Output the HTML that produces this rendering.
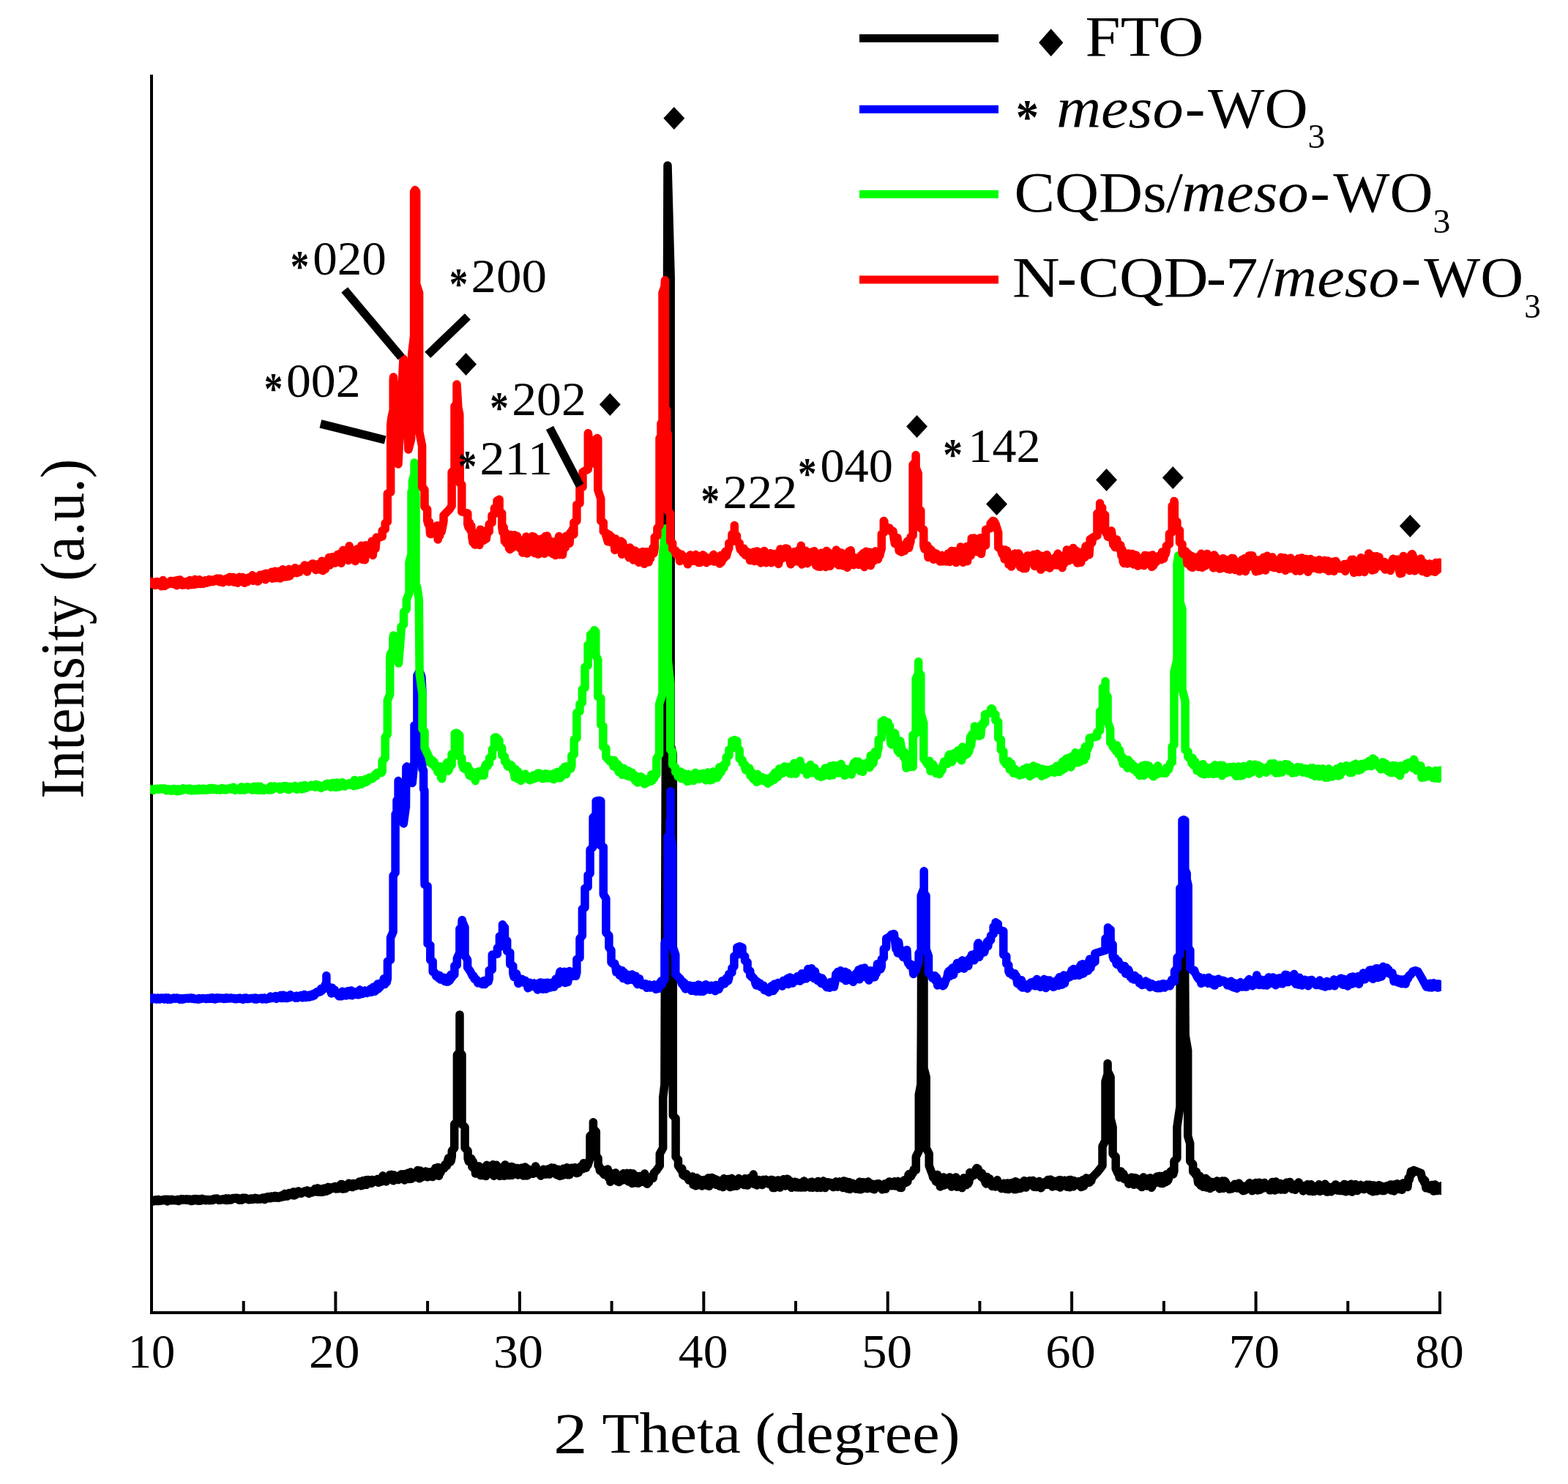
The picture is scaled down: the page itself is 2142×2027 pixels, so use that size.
<!DOCTYPE html>
<html lang="en"><head><meta charset="utf-8"><title>XRD patterns</title>
<style>
html,body{margin:0;padding:0;background:#fff;}
svg{display:block;}
text{font-family:"Liberation Serif","DejaVu Serif",serif;fill:#000;}
.c{fill:none;stroke-width:11.50;stroke-linejoin:round;stroke-linecap:round;}
.ax{stroke:#000;stroke-width:4;fill:none;stroke-linecap:butt;}
.ln{stroke:#000;stroke-width:11.5;fill:none;stroke-linecap:butt;}
.lg{stroke-width:11;fill:none;stroke-linecap:butt;}
</style></head>
<body>
<svg xmlns="http://www.w3.org/2000/svg" width="2142" height="2027" viewBox="0 0 2142 2027">
<rect x="0" y="0" width="2142" height="2027" fill="#fff"/>
<defs><clipPath id="plot"><rect x="205" y="90" width="1764" height="1705"/></clipPath></defs>
<path class="ax" d="M207 102 V1795"/>
<path class="ax" d="M205 1793 H1969"/>
<path class="ax" d="M332.7 1777 V1793 M458.4 1764 V1793 M584.1 1777 V1793 M709.9 1764 V1793 M835.6 1777 V1793 M961.3 1764 V1793 M1087.0 1777 V1793 M1212.7 1764 V1793 M1338.4 1777 V1793 M1464.1 1764 V1793 M1589.9 1777 V1793 M1715.6 1764 V1793 M1841.3 1777 V1793 M1967.0 1764 V1793"/>
<g clip-path="url(#plot)">
<path class="c" id="black" stroke="#000000" d="M202.8 1639.9L204.1 1641.2M204.1 1641.2L205.4 1639.7M205.4 1639.7L206.8 1638.6M206.8 1638.6L208.1 1641M208.1 1641L209.3 1641.1M209.3 1641.1L210.5 1640.1M210.5 1640.1L211.6 1640.3M211.6 1640.3L212.8 1638.7M212.8 1638.7L214 1640.5M214 1640.5L215.2 1639.1M215.2 1639.1L216.4 1638.5M216.4 1638.5L217.6 1640.6M217.6 1640.6L218.8 1639.3M218.8 1639.3L220 1640.1M220 1640.1L221.2 1640M221.2 1640L222.4 1638.7M222.4 1638.7L223.6 1638.7M223.6 1638.7L224.7 1638.5M224.7 1638.5L225.9 1638.2M225.9 1638.2L227.1 1639.6M227.1 1639.6L228.3 1640.9M228.3 1640.9L229.5 1638.3M229.5 1638.3L230.7 1639.7M230.7 1639.7L231.9 1639.4M231.9 1639.4L233.1 1639.8M233.1 1639.8L234.3 1638.3M234.3 1638.3L235.5 1639.7M235.5 1639.7L236.7 1638.8M236.7 1638.8L237.8 1639.6M237.8 1639.6L239 1639.8M239 1639.8L240.2 1639.3M240.2 1639.3L241.4 1638.9M241.4 1638.9L242.6 1638.6M242.6 1638.6L243.8 1640.6M243.8 1640.6L245 1639.2M245 1639.2L246.2 1639.4M246.2 1639.4L247.4 1637.8M247.4 1637.8L248.6 1639.3M248.6 1639.3L249.8 1637.7M249.8 1637.7L251 1638.1M251 1638.1L252.1 1639.1M252.1 1639.1L253.3 1638.8M253.3 1638.8L254.5 1637.8M254.5 1637.8L255.7 1639.4M255.7 1639.4L256.9 1638.1M256.9 1638.1L258.1 1639.3M258.1 1639.3L259.3 1637.9M259.3 1637.9L260.5 1640.4M260.5 1640.4L261.7 1639.9M261.7 1639.9L262.9 1640.4M262.9 1640.4L264.1 1637.8M264.1 1637.8L265.2 1638.3M265.2 1638.3L266.4 1637.5M266.4 1637.5L267.6 1638.2M267.6 1638.2L268.8 1639.9M268.8 1639.9L270 1637.8M270 1637.8L271.2 1637.8M271.2 1637.8L272.4 1640.3M272.4 1640.3L273.6 1637.7M273.6 1637.7L274.8 1639.9M274.8 1639.9L276 1637.3M276 1637.3L277.2 1638.4M277.2 1638.4L278.3 1638.2M278.3 1638.2L279.5 1638.2M279.5 1638.2L280.7 1639.7M280.7 1639.7L281.9 1638.6M281.9 1638.6L283.1 1639.6M283.1 1639.6L284.3 1638.5M284.3 1638.5L285.5 1639.6M285.5 1639.6L286.8 1639.8M286.8 1639.8L288 1638.4M288 1638.4L289.2 1639.4M289.2 1639.4L290.4 1639.5M290.4 1639.5L291.6 1637.8M291.6 1637.8L292.8 1637.2M292.8 1637.2L294 1637.4M294 1637.4L295.2 1638.2M295.2 1638.2L296.4 1637.1M296.4 1637.1L297.6 1638.5M297.6 1638.5L298.8 1639.4M298.8 1639.4L300 1638.3M300 1638.3L301.2 1639.3M301.2 1639.3L302.4 1638.8M302.4 1638.8L303.6 1638.7M303.6 1638.7L304.8 1637.7M304.8 1637.7L306 1638.9M306 1638.9L307.2 1639.2M307.2 1639.2L308.4 1637M308.4 1637L309.6 1639.5M309.6 1639.5L310.8 1637.3M310.8 1637.3L312.1 1636.9M312.1 1636.9L313.3 1639.2M313.3 1639.2L314.5 1638.7M314.5 1638.7L315.7 1639M315.7 1639L316.9 1637.8M316.9 1637.8L318.1 1636.5M318.1 1636.5L319.3 1637.6M319.3 1637.6L320.5 1636.4M320.5 1636.4L321.7 1637.2M321.7 1637.2L322.9 1636.3M322.9 1636.3L324.1 1637.9M324.1 1637.9L325.3 1636.5M325.3 1636.5L326.5 1639.2M326.5 1639.2L327.7 1638.4M327.7 1638.4L328.9 1637.1M328.9 1637.1L330.1 1639.2M330.1 1639.2L331.3 1636.3M331.3 1636.3L332.5 1636.9M332.5 1636.9L333.7 1636.2M333.7 1636.2L334.9 1637.4M334.9 1637.4L336.2 1636.6M336.2 1636.6L337.4 1637.2M337.4 1637.2L338.6 1638.2M338.6 1638.2L339.8 1638.8M339.8 1638.8L341 1637.5M341 1637.5L342.2 1638.5M342.2 1638.5L343.4 1637M343.4 1637L344.6 1638.6M344.6 1638.6L345.8 1637.4M345.8 1637.4L347 1638M347 1638L348.2 1636.3M348.2 1636.3L349.4 1637.6M349.4 1637.6L350.6 1636.7M350.6 1636.7L351.8 1638.3M351.8 1638.3L353 1637.4M353 1637.4L354.2 1637.2M354.2 1637.2L355.4 1638.1M355.4 1638.1L356.6 1637.3M356.6 1637.3L357.8 1636.6M357.8 1636.6L359 1635.9M359 1635.9L360.2 1637.5M360.2 1637.5L361.5 1638.5M361.5 1638.5L362.6 1638M362.6 1638L363.8 1635.2M363.8 1635.2L365 1635.9M365 1635.9L366.2 1634.5M366.2 1634.5L367.4 1636.8M367.4 1636.8L368.6 1636.5M368.6 1636.5L369.8 1636.7M369.8 1636.7L371 1634.1M371 1634.1L372.1 1634.2M372.1 1634.2L373.3 1634.9M373.3 1634.9L374.5 1636M374.5 1636L375.7 1633.5M375.7 1633.5L376.9 1636M376.9 1636L378.1 1633.8M378.1 1633.8L379.3 1635.9M379.3 1635.9L380.4 1636.2M380.4 1636.2L381.6 1634M381.6 1634L382.8 1635.7M382.8 1635.7L384 1633M384 1633L385.2 1634.2M385.2 1634.2L386.4 1634.8M386.4 1634.8L387.6 1634.6M387.6 1634.6L388.8 1630.5M388.8 1630.5L389.9 1631.2M389.9 1631.2L391.1 1631.8M391.1 1631.8L392.3 1634.1M392.3 1634.1L393.5 1630.6M393.5 1630.6L394.7 1629.5M394.7 1629.5L395.9 1630.8M395.9 1630.8L397.1 1629.6M397.1 1629.6L398.3 1632.4M398.3 1632.4L399.4 1631.4M399.4 1631.4L400.6 1628M400.6 1628L401.8 1632.9M401.8 1632.9L403 1630M403 1630L404.2 1631.9M404.2 1631.9L405.4 1627.9M405.4 1627.9L406.6 1628.6M406.6 1628.6L407.8 1627M407.8 1627L408.9 1628.8M408.9 1628.8L410.1 1628.9M410.1 1628.9L411.3 1630.3M411.3 1630.3L412.5 1628.8M412.5 1628.8L413.7 1628.2M413.7 1628.2L414.9 1628.5M414.9 1628.5L416.1 1627M416.1 1627L417.2 1627.4M417.2 1627.4L418.4 1628.8M418.4 1628.8L419.6 1626M419.6 1626L420.8 1627.9M420.8 1627.9L422 1630.4M422 1630.4L423.2 1627.1M423.2 1627.1L424.4 1628.4M424.4 1628.4L425.6 1628.1M425.6 1628.1L426.7 1628.9M426.7 1628.9L427.9 1628.2M427.9 1628.2L429.1 1627.6M429.1 1627.6L430.3 1623.8M430.3 1623.8L431.5 1625.3M431.5 1625.3L432.7 1628M432.7 1628L433.9 1623M433.9 1623L435.1 1623.3M435.1 1623.3L436.2 1628.3M436.2 1628.3L437.4 1626M437.4 1626L438.6 1628.4M438.6 1628.4L439.8 1626.7M439.8 1626.7L441 1628.2M441 1628.2L442.2 1623.3M442.2 1623.3L443.4 1625.8M443.4 1625.8L444.6 1623.1M444.6 1623.1L445.7 1627.2M445.7 1627.2L446.9 1622.5M446.9 1622.5L448.1 1621.6M448.1 1621.6L449.3 1625.7M449.3 1625.7L450.5 1621.9M450.5 1621.9L451.7 1623.4M451.7 1623.4L452.9 1623.7M452.9 1623.7L454.1 1621.7M454.1 1621.7L455.2 1621.5M455.2 1621.5L456.4 1621.2M456.4 1621.2L457.6 1620.6M457.6 1620.6L458.8 1623.9M458.8 1623.9L460 1622.5M460 1622.5L461.2 1622.1M461.2 1622.1L462.4 1623.8M462.4 1623.8L463.5 1619.6M463.5 1619.6L464.7 1618.6M464.7 1618.6L465.9 1617.6M465.9 1617.6L467.1 1617.5M467.1 1617.5L468.3 1624.1M468.3 1624.1L469.5 1623.8M469.5 1623.8L470.7 1621.5M470.7 1621.5L471.9 1623.6M471.9 1623.6L473 1620M473 1620L474.2 1619.2M474.2 1619.2L475.4 1619.6M475.4 1619.6L476.6 1616.2M476.6 1616.2L477.8 1621M477.8 1621L479 1617.5M479 1617.5L480.2 1620.2M480.2 1620.2L481.4 1621.6M481.4 1621.6L482.5 1616.4M482.5 1616.4L483.7 1618.2M483.7 1618.2L484.9 1619.1M484.9 1619.1L486.1 1620M486.1 1620L487.3 1618.8M487.3 1618.8L488.5 1615.9M488.5 1615.9L489.7 1617.5M489.7 1617.5L490.9 1614.1M490.9 1614.1L492 1616.5M492 1616.5L493.2 1619.7M493.2 1619.7L494.4 1619.6M494.4 1619.6L495.6 1612.8M495.6 1612.8L496.8 1615.8M496.8 1615.8L498 1616.2M498 1616.2L499.2 1612.1M499.2 1612.1L500.4 1618.5M500.4 1618.5L501.5 1612.4M501.5 1612.4L502.7 1611.4M502.7 1611.4L503.9 1614.1M503.9 1614.1L505.1 1613.8M505.1 1613.8L506.3 1615.9M506.3 1615.9L507.5 1616.4M507.5 1616.4L508.7 1611.5M508.7 1611.5L509.8 1614.7M509.8 1614.7L511 1613.1M511 1613.1L512.2 1612.6M512.2 1612.6L513.4 1613M513.4 1613L514.6 1611.4M514.6 1611.4L515.8 1610.4M515.8 1610.4L517 1615.3M517 1615.3L518.2 1613.6M518.2 1613.6L519.3 1612.5M519.3 1612.5L520.5 1614.3M520.5 1614.3L521.7 1611.4M521.7 1611.4L522.9 1606M522.9 1606L524.1 1607.4M524.1 1607.4L525.3 1612.8M525.3 1612.8L526.5 1608.3M526.5 1608.3L527.7 1613.9M527.7 1613.9L528.8 1611.3M528.8 1611.3L530 1608.2M530 1608.2L531.2 1609.1M531.2 1609.1L532.4 1604.7M532.4 1604.7L533.6 1608.4M533.6 1608.4L534.8 1604.6M534.8 1604.6L536 1606.6M536 1606.6L537.2 1612.8M537.2 1612.8L538.3 1604.9M538.3 1604.9L539.5 1610.1M539.5 1610.1L540.7 1609.7M540.7 1609.7L541.9 1610M541.9 1610L543.1 1610.9M543.1 1610.9L544.3 1611.5M544.3 1611.5L545.5 1606.1M545.5 1606.1L546.6 1606.1M546.6 1606.1L547.8 1604M547.8 1604L549 1608.7M549 1608.7L550.2 1604.1M550.2 1604.1L551.4 1603.7M551.4 1603.7L552.6 1612M552.6 1612L553.8 1607.9M553.8 1607.9L555 1609M555 1609L556.1 1606.4M556.1 1606.4L557.3 1602.3M557.3 1602.3L558.5 1610.5M558.5 1610.5L559.7 1607.6M559.7 1607.6L560.9 1601M560.9 1601L562.1 1610.2M562.1 1610.2L563.3 1605.3M563.3 1605.3L564.5 1606.5M564.5 1606.5L565.7 1603.7M565.7 1603.7L566.9 1603.8M566.9 1603.8L568.1 1608M568.1 1608L569.3 1601.4M569.3 1601.4L570.5 1598.5M570.5 1598.5L571.7 1601.9M571.7 1601.9L573 1609.8M573 1609.8L574.2 1599M574.2 1599L575.4 1604.7M575.4 1604.7L576.6 1607.9M576.6 1607.9L577.8 1603.5M577.8 1603.5L579 1604.1M579 1604.1L580.2 1603.1M580.2 1603.1L581.4 1600.1M581.4 1600.1L582.6 1600.4M582.6 1600.4L583.9 1607.8M583.9 1607.8L585.1 1604.7M585.1 1604.7L586.3 1603.5M586.3 1603.5L587.5 1600.8M587.5 1600.8L588.7 1607M588.7 1607L589.9 1606.3M589.9 1606.3L591.1 1607.5M591.1 1607.5L592.3 1601.2M592.3 1601.2L593.5 1599M593.5 1599L594.8 1595.5M594.8 1595.5L596 1596.5M596 1596.5L597.2 1605.3M597.2 1605.3L598.4 1594.4M598.4 1594.4L599.6 1606.2M599.6 1606.2L600.8 1599.1M600.8 1599.1L602 1601.4M602 1601.4L603.3 1595.5M603.3 1595.5L604.5 1597M604.5 1597L605.7 1593.8M605.7 1593.8L606.8 1595.9M606.8 1595.9L608 1590.7M608 1590.7L609.1 1592.4M609.1 1592.4L610.3 1592.4M610.3 1592.4L611.5 1585.8M611.5 1585.8L612.6 1581.8M612.6 1581.8L613.8 1587M613.8 1587L615 1587.3M615 1587.3L616.1 1585.7M616.1 1585.7L617.3 1579.6M617.3 1579.6L617.3 1572M617.3 1572L620.7 1568M620.7 1568L620.7 1535.7M620.7 1535.7L624.4 1531.6M624.4 1531.6L624.4 1440.8M624.4 1440.8L628 1436.8M628 1436.8L628 1385.9M628 1385.9L628 1436.8M628 1436.8L631 1440.8M631 1440.8L631 1535.7M631 1535.7L635.1 1539.7M635.1 1539.7L635.1 1568M635.1 1568L639.1 1572M639.1 1572L639.1 1582.1M639.1 1582.1L640.3 1586.4M640.3 1586.4L641.4 1584.9M641.4 1584.9L642.6 1587.1M642.6 1587.1L643.8 1582.5M643.8 1582.5L644.9 1593.8M644.9 1593.8L646.1 1586.4M646.1 1586.4L647.3 1595.8M647.3 1595.8L648.4 1591M648.4 1591L649.6 1603.1M649.6 1603.1L650.8 1600.4M650.8 1600.4L651.9 1595.7M651.9 1595.7L653.1 1599.1M653.1 1599.1L654.3 1592.9M654.3 1592.9L655.5 1597.8M655.5 1597.8L656.7 1605.6M656.7 1605.6L657.9 1605.6M657.9 1605.6L659.1 1595.3M659.1 1595.3L660.3 1597.4M660.3 1597.4L661.5 1598.8M661.5 1598.8L662.7 1599M662.7 1599L663.8 1606.6M663.8 1606.6L665 1591.5M665 1591.5L666.2 1593.4M666.2 1593.4L667.4 1600.2M667.4 1600.2L668.6 1595.7M668.6 1595.7L669.8 1596.4M669.8 1596.4L671 1601.7M671 1601.7L672.2 1593.5M672.2 1593.5L673.4 1590.8M673.4 1590.8L674.6 1606.2M674.6 1606.2L675.8 1595.5M675.8 1595.5L677 1592M677 1592L678.2 1591.3M678.2 1591.3L679.3 1601.5M679.3 1601.5L680.5 1597.4M680.5 1597.4L681.7 1596M681.7 1596L682.9 1606.4M682.9 1606.4L684.1 1605.5M684.1 1605.5L685.3 1602.1M685.3 1602.1L686.5 1605.1M686.5 1605.1L687.7 1593.4M687.7 1593.4L688.9 1606.2M688.9 1606.2L690.1 1590.9M690.1 1590.9L691.3 1600.3M691.3 1600.3L692.5 1605.4M692.5 1605.4L693.6 1605.2M693.6 1605.2L694.8 1602M694.8 1602L696 1605.5M696 1605.5L697.2 1600.5M697.2 1600.5L698.4 1593.5M698.4 1593.5L699.6 1605.4M699.6 1605.4L700.8 1594.1M700.8 1594.1L702 1598.1M702 1598.1L703.1 1598M703.1 1598L704.3 1598.9M704.3 1598.9L705.5 1596.4M705.5 1596.4L706.7 1595.4M706.7 1595.4L707.9 1604.9M707.9 1604.9L709.1 1597.3M709.1 1597.3L710.3 1601.8M710.3 1601.8L711.5 1598.9M711.5 1598.9L712.6 1595.2M712.6 1595.2L713.8 1595.8M713.8 1595.8L715 1606.1M715 1606.1L716.2 1605.1M716.2 1605.1L717.4 1594M717.4 1594L718.6 1595.1M718.6 1595.1L719.8 1605.9M719.8 1605.9L721 1605.4M721 1605.4L722.1 1597M722.1 1597L723.3 1599.8M723.3 1599.8L724.5 1598.1M724.5 1598.1L725.7 1598.4M725.7 1598.4L726.9 1599.9M726.9 1599.9L728.1 1603.3M728.1 1603.3L729.3 1602.4M729.3 1602.4L730.4 1602.4M730.4 1602.4L731.6 1593M731.6 1593L732.8 1595.6M732.8 1595.6L734 1601.4M734 1601.4L735.2 1602.4M735.2 1602.4L736.4 1599.2M736.4 1599.2L737.6 1603.4M737.6 1603.4L738.8 1606M738.8 1606L739.9 1602.3M739.9 1602.3L741.1 1604.3M741.1 1604.3L742.3 1597.2M742.3 1597.2L743.5 1604.1M743.5 1604.1L744.7 1600M744.7 1600L745.9 1604M745.9 1604L747.1 1602.4M747.1 1602.4L748.3 1597.1M748.3 1597.1L749.4 1603.7M749.4 1603.7L750.6 1604.1M750.6 1604.1L751.8 1600M751.8 1600L753 1595.1M753 1595.1L754.2 1598.4M754.2 1598.4L755.4 1595.7M755.4 1595.7L756.6 1595.2M756.6 1595.2L757.8 1597.5M757.8 1597.5L758.9 1600.1M758.9 1600.1L760.1 1604.4M760.1 1604.4L761.3 1601.7M761.3 1601.7L762.5 1597.3M762.5 1597.3L763.7 1606M763.7 1606L764.9 1606.5M764.9 1606.5L766.1 1605.3M766.1 1605.3L767.2 1600.2M767.2 1600.2L768.4 1605.5M768.4 1605.5L769.6 1596.3M769.6 1596.3L770.8 1604.5M770.8 1604.5L772 1597.2M772 1597.2L773.2 1597.4M773.2 1597.4L774.4 1594.8M774.4 1594.8L775.6 1604.8M775.6 1604.8L776.8 1604.6M776.8 1604.6L778.1 1604.7M778.1 1604.7L779.3 1601M779.3 1601L780.5 1595.2M780.5 1595.2L781.7 1598.5M781.7 1598.5L782.9 1595.9M782.9 1595.9L784.1 1600.6M784.1 1600.6L785.3 1594.7M785.3 1594.7L786.5 1595.5M786.5 1595.5L787.7 1602.6M787.7 1602.6L789 1601M789 1601L790.2 1601.8M790.2 1601.8L791.3 1598.9M791.3 1598.9L792.5 1595.7M792.5 1595.7L793.7 1592.9M793.7 1592.9L794.8 1592.7M794.8 1592.7L796 1596.8M796 1596.8L797.2 1588.7M797.2 1588.7L798.3 1593M798.3 1593L799.5 1593.4M799.5 1593.4L800.6 1595.3M800.6 1595.3L801.8 1588.6M801.8 1588.6L803 1591.6M803 1591.6L806 1582.1M806 1582.1L806 1551.8M806 1551.8L810.4 1547.8M810.4 1547.8L810.4 1533.7M810.4 1533.7L810.4 1532.8M810.4 1532.8L810.4 1533.7M810.4 1533.7L810.4 1541.7M810.4 1541.7L814.3 1545.8M814.3 1545.8L814.3 1578.1M814.3 1578.1L817.1 1582.1M817.1 1582.1L817.1 1592.2M817.1 1592.2L818.3 1592.6M818.3 1592.6L819.5 1599M819.5 1599L820.7 1597.3M820.7 1597.3L821.9 1596.9M821.9 1596.9L823 1601.4M823 1601.4L824.2 1603.1M824.2 1603.1L825.4 1604.5M825.4 1604.5L826.6 1602.2M826.6 1602.2L827.8 1599.2M827.8 1599.2L829 1604.9M829 1604.9L830.2 1597M830.2 1597L831.4 1608.8M831.4 1608.8L832.5 1600.9M832.5 1600.9L833.7 1614.3M833.7 1614.3L834.9 1608.2M834.9 1608.2L836.1 1611.3M836.1 1611.3L837.3 1605.8M837.3 1605.8L838.5 1603.1M838.5 1603.1L839.7 1606.6M839.7 1606.6L840.9 1601.9M840.9 1601.9L842 1606.7M842 1606.7L843.2 1613.5M843.2 1613.5L844.4 1609.9M844.4 1609.9L845.6 1614.6M845.6 1614.6L846.8 1611.9M846.8 1611.9L848 1613M848 1613L849.2 1612.5M849.2 1612.5L850.4 1605.1M850.4 1605.1L851.5 1602.8M851.5 1602.8L852.7 1607.6M852.7 1607.6L853.9 1604M853.9 1604L855.1 1612M855.1 1612L856.4 1602.6M856.4 1602.6L857.6 1609.7M857.6 1609.7L858.8 1614.1M858.8 1614.1L860 1613.1M860 1613.1L861.2 1602.6M861.2 1602.6L862.4 1603.1M862.4 1603.1L863.6 1616.6M863.6 1616.6L864.8 1602.9M864.8 1602.9L866 1613.8M866 1613.8L867.3 1615.8M867.3 1615.8L868.5 1606M868.5 1606L869.7 1612M869.7 1612L870.9 1611.4M870.9 1611.4L872.1 1616.3M872.1 1616.3L873.3 1606.4M873.3 1606.4L874.5 1609.8M874.5 1609.8L875.7 1606.8M875.7 1606.8L876.9 1609.3M876.9 1609.3L878.2 1614.4M878.2 1614.4L879.4 1611M879.4 1611L880.6 1603M880.6 1603L881.8 1607.5M881.8 1607.5L883 1613.3M883 1613.3L884.1 1617.2M884.1 1617.2L885.3 1610.6M885.3 1610.6L886.5 1614.7M886.5 1614.7L887.6 1610.5M887.6 1610.5L888.8 1608.8M888.8 1608.8L889.9 1607.6M889.9 1607.6L891.1 1606.2M891.1 1606.2L892.2 1609.3M892.2 1609.3L893.4 1602M893.4 1602L894.5 1601.3M894.5 1601.3L895.7 1599.7M895.7 1599.7L896.8 1598.6M896.8 1598.6L901.3 1592.2M901.3 1592.2L901.3 1576M901.3 1576L905.7 1568M905.7 1568L905.7 1499.3M905.7 1499.3L907.9 1481.2M907.9 1481.2L912 226M912 226L916.2 379M916.2 379L916.2 1018M916.2 1018L919.3 1030M919.3 1030L919.3 1481.2M919.3 1481.2L919.3 1523.6M919.3 1523.6L923.1 1527.6M923.1 1527.6L923.1 1580.1M923.1 1580.1L926.5 1584.1M926.5 1584.1L926.5 1592.2M926.5 1592.2L930.6 1598.2M930.6 1598.2L931.7 1596.1M931.7 1596.1L932.9 1604.6M932.9 1604.6L934.1 1605.8M934.1 1605.8L935.2 1606.3M935.2 1606.3L936.4 1605.6M936.4 1605.6L937.6 1603.6M937.6 1603.6L938.7 1607.6M938.7 1607.6L939.9 1610M939.9 1610L941.1 1612.1M941.1 1612.1L942.2 1609.8M942.2 1609.8L943.4 1611.5M943.4 1611.5L944.6 1607.9M944.6 1607.9L945.8 1606.9M945.8 1606.9L947 1618.4M947 1618.4L948.2 1610.4M948.2 1610.4L949.4 1614.2M949.4 1614.2L950.6 1619.8M950.6 1619.8L951.8 1608.8M951.8 1608.8L953 1613.5M953 1613.5L954.2 1611.9M954.2 1611.9L955.4 1611M955.4 1611L956.6 1613.8M956.6 1613.8L957.8 1615.6M957.8 1615.6L959 1620M959 1620L960.3 1615.9M960.3 1615.9L961.5 1611.7M961.5 1611.7L962.7 1617.3M962.7 1617.3L963.9 1615.9M963.9 1615.9L965.1 1611.2M965.1 1611.2L966.3 1619.6M966.3 1619.6L967.5 1608.9M967.5 1608.9L968.7 1620.3M968.7 1620.3L969.9 1614.2M969.9 1614.2L971.1 1616.5M971.1 1616.5L972.3 1608.5M972.3 1608.5L973.5 1609M973.5 1609L974.7 1616.8M974.7 1616.8L975.9 1610.2M975.9 1610.2L977.1 1617.7M977.1 1617.7L978.3 1618.3M978.3 1618.3L979.5 1611.6M979.5 1611.6L980.7 1616.9M980.7 1616.9L981.9 1612.8M981.9 1612.8L983.1 1620.2M983.1 1620.2L984.3 1619.2M984.3 1619.2L985.5 1620.1M985.5 1620.1L986.7 1613.4M986.7 1613.4L987.8 1621.6M987.8 1621.6L989 1609.8M989 1609.8L990.2 1616.8M990.2 1616.8L991.4 1613.8M991.4 1613.8L992.6 1616.4M992.6 1616.4L993.8 1619M993.8 1619L995 1610.5M995 1610.5L996.2 1619.4M996.2 1619.4L997.3 1621.6M997.3 1621.6L998.5 1619.5M998.5 1619.5L999.7 1609.6M999.7 1609.6L1000.9 1610.5M1000.9 1610.5L1002.1 1620.4M1002.1 1620.4L1003.3 1616.6M1003.3 1616.6L1004.5 1613.9M1004.5 1613.9L1005.7 1618.3M1005.7 1618.3L1006.8 1620M1006.8 1620L1008 1617.3M1008 1617.3L1009.2 1609.6M1009.2 1609.6L1010.4 1615.3M1010.4 1615.3L1011.6 1612.2M1011.6 1612.2L1012.8 1613.9M1012.8 1613.9L1014 1613.7M1014 1613.7L1015.2 1614.4M1015.2 1614.4L1016.3 1618.5M1016.3 1618.5L1017.5 1609.8M1017.5 1609.8L1018.7 1611.1M1018.7 1611.1L1019.9 1614M1019.9 1614L1021.1 1619.1M1021.1 1619.1L1022.2 1609.7M1022.2 1609.7L1023.4 1611.3M1023.4 1611.3L1024.5 1608.9M1024.5 1608.9L1025.7 1615.5M1025.7 1615.5L1026.9 1614M1026.9 1614L1028 1612.3M1028 1612.3L1029.2 1604.1M1029.2 1604.1L1030.4 1617.5M1030.4 1617.5L1031.6 1617M1031.6 1617L1032.8 1616M1032.8 1616L1034 1619M1034 1619L1035.2 1612.6M1035.2 1612.6L1036.4 1611.5M1036.4 1611.5L1037.6 1615.3M1037.6 1615.3L1038.8 1616.9M1038.8 1616.9L1040.1 1616.5M1040.1 1616.5L1041.3 1618.6M1041.3 1618.6L1042.5 1611.6M1042.5 1611.6L1043.7 1615.1M1043.7 1615.1L1044.9 1615.9M1044.9 1615.9L1046.1 1611.3M1046.1 1611.3L1047.3 1616M1047.3 1616L1048.5 1615.7M1048.5 1615.7L1049.7 1617M1049.7 1617L1051 1613.5M1051 1613.5L1052.2 1613.2M1052.2 1613.2L1053.4 1611.5M1053.4 1611.5L1054.6 1611.4M1054.6 1611.4L1055.8 1622.4M1055.8 1622.4L1057 1618.2M1057 1618.2L1058.2 1622.4M1058.2 1622.4L1059.4 1613.1M1059.4 1613.1L1060.6 1613.8M1060.6 1613.8L1061.9 1613.6M1061.9 1613.6L1063.1 1611.9M1063.1 1611.9L1064.3 1617.9M1064.3 1617.9L1065.5 1622.1M1065.5 1622.1L1066.7 1615.7M1066.7 1615.7L1067.9 1613.3M1067.9 1613.3L1069.1 1614.7M1069.1 1614.7L1070.3 1610.7M1070.3 1610.7L1071.5 1614.5M1071.5 1614.5L1072.8 1619.9M1072.8 1619.9L1074 1618.9M1074 1618.9L1075.2 1610.3M1075.2 1610.3L1076.4 1610.7M1076.4 1610.7L1077.6 1617.8M1077.6 1617.8L1078.8 1612.7M1078.8 1612.7L1080 1620.4M1080 1620.4L1081.2 1622.3M1081.2 1622.3L1082.4 1618.4M1082.4 1618.4L1083.7 1618.7M1083.7 1618.7L1084.9 1620.2M1084.9 1620.2L1086.1 1614.3M1086.1 1614.3L1087.3 1621.7M1087.3 1621.7L1088.5 1621.5M1088.5 1621.5L1089.7 1615.6M1089.7 1615.6L1090.9 1621.9M1090.9 1621.9L1092.1 1616M1092.1 1616L1093.3 1616.9M1093.3 1616.9L1094.6 1622.1M1094.6 1622.1L1095.8 1618.3M1095.8 1618.3L1097 1614.8M1097 1614.8L1098.2 1613.1M1098.2 1613.1L1099.4 1622M1099.4 1622L1100.6 1614.6M1100.6 1614.6L1101.8 1615.7M1101.8 1615.7L1103 1615.3M1103 1615.3L1104.2 1616M1104.2 1616L1105.4 1615.6M1105.4 1615.6L1106.7 1622.1M1106.7 1622.1L1107.9 1619M1107.9 1619L1109.1 1614.2M1109.1 1614.2L1110.3 1622.2M1110.3 1622.2L1111.5 1618.4M1111.5 1618.4L1112.7 1616.6M1112.7 1616.6L1113.9 1615.5M1113.9 1615.5L1115.1 1617.3M1115.1 1617.3L1116.3 1622.4M1116.3 1622.4L1117.6 1613.5M1117.6 1613.5L1118.8 1615.9M1118.8 1615.9L1120 1616.8M1120 1616.8L1121.2 1622.4M1121.2 1622.4L1122.4 1621.4M1122.4 1621.4L1123.6 1620.8M1123.6 1620.8L1124.8 1613.1M1124.8 1613.1L1126 1616M1126 1616L1127.2 1622.6M1127.2 1622.6L1128.5 1616.5M1128.5 1616.5L1129.7 1618.9M1129.7 1618.9L1130.9 1614.7M1130.9 1614.7L1132.1 1615.6M1132.1 1615.6L1133.3 1617M1133.3 1617L1134.5 1615.5M1134.5 1615.5L1135.7 1619.8M1135.7 1619.8L1136.9 1619.4M1136.9 1619.4L1138.1 1621.6M1138.1 1621.6L1139.4 1620.6M1139.4 1620.6L1140.6 1618.7M1140.6 1618.7L1141.8 1614.1M1141.8 1614.1L1143 1617.4M1143 1617.4L1144.2 1621.2M1144.2 1621.2L1145.4 1617.5M1145.4 1617.5L1146.6 1614.1M1146.6 1614.1L1147.8 1617.6M1147.8 1617.6L1149 1618.1M1149 1618.1L1150.3 1620.3M1150.3 1620.3L1151.5 1622.5M1151.5 1622.5L1152.7 1612.9M1152.7 1612.9L1153.9 1615.9M1153.9 1615.9L1155.1 1614.9M1155.1 1614.9L1156.3 1614M1156.3 1614L1157.5 1623.8M1157.5 1623.8L1158.7 1619.5M1158.7 1619.5L1159.9 1614.7M1159.9 1614.7L1161.2 1624.4M1161.2 1624.4L1162.4 1623.2M1162.4 1623.2L1163.5 1617.1M1163.5 1617.1L1164.7 1616.2M1164.7 1616.2L1165.9 1619.7M1165.9 1619.7L1167.1 1618M1167.1 1618L1168.3 1618.4M1168.3 1618.4L1169.5 1624.1M1169.5 1624.1L1170.7 1619.8M1170.7 1619.8L1171.9 1622.1M1171.9 1622.1L1173 1624.4M1173 1624.4L1174.2 1614.3M1174.2 1614.3L1175.4 1624.8M1175.4 1624.8L1176.6 1624.6M1176.6 1624.6L1177.8 1623.3M1177.8 1623.3L1179 1614.7M1179 1614.7L1180.2 1615.2M1180.2 1615.2L1181.4 1615M1181.4 1615L1182.5 1618.9M1182.5 1618.9L1183.7 1623.4M1183.7 1623.4L1184.9 1623.6M1184.9 1623.6L1186.1 1614.1M1186.1 1614.1L1187.3 1622.5M1187.3 1622.5L1188.5 1616.2M1188.5 1616.2L1189.7 1617.5M1189.7 1617.5L1190.9 1616.9M1190.9 1616.9L1192 1624M1192 1624L1193.2 1618.8M1193.2 1618.8L1194.4 1624.8M1194.4 1624.8L1195.6 1617.5M1195.6 1617.5L1196.8 1618.2M1196.8 1618.2L1198 1616.9M1198 1616.9L1199.2 1617.9M1199.2 1617.9L1200.4 1616.8M1200.4 1616.8L1201.5 1617.8M1201.5 1617.8L1202.7 1622.4M1202.7 1622.4L1203.9 1620.1M1203.9 1620.1L1205.1 1624.8M1205.1 1624.8L1206.3 1619.9M1206.3 1619.9L1207.5 1621.9M1207.5 1621.9L1208.7 1616.9M1208.7 1616.9L1209.9 1624.1M1209.9 1624.1L1211.1 1621.1M1211.1 1621.1L1212.3 1615.8M1212.3 1615.8L1213.5 1620.1M1213.5 1620.1L1214.7 1614M1214.7 1614L1215.9 1617.1M1215.9 1617.1L1217.1 1618.8M1217.1 1618.8L1218.3 1619.7M1218.3 1619.7L1219.5 1618M1219.5 1618L1220.7 1614.3M1220.7 1614.3L1221.9 1613.8M1221.9 1613.8L1223.1 1619.9M1223.1 1619.9L1224.3 1619.5M1224.3 1619.5L1225.4 1618.2M1225.4 1618.2L1226.6 1613.6M1226.6 1613.6L1227.8 1615.8M1227.8 1615.8L1229 1622.2M1229 1622.2L1230.2 1615M1230.2 1615L1231.4 1622.5M1231.4 1622.5L1232.6 1616M1232.6 1616L1233.8 1616.2M1233.8 1616.2L1235 1612M1235 1612L1236.2 1612.5M1236.2 1612.5L1237.4 1615.6M1237.4 1615.6L1238.6 1613.2M1238.6 1613.2L1239.8 1614.1M1239.8 1614.1L1241 1604.7M1241 1604.7L1242.2 1603.4M1242.2 1603.4L1243.4 1605.2M1243.4 1605.2L1244.6 1606.7M1244.6 1606.7L1245.8 1603.2M1245.8 1603.2L1247 1602.7M1247 1602.7L1248.2 1597.5M1248.2 1597.5L1251.3 1598.2M1251.3 1598.2L1251.3 1580.1M1251.3 1580.1L1255.3 1572M1255.3 1572L1255.3 1495.3M1255.3 1495.3L1257.9 1481.2M1257.9 1481.2L1258.4 1400M1258.4 1400L1258.6 1300M1258.6 1300L1260.5 1288M1260.5 1288L1262 1300M1262 1300L1262 1400M1262 1400L1262 1459M1262 1459L1265.2 1471.1M1265.2 1471.1L1265.2 1568M1265.2 1568L1269.2 1576M1269.2 1576L1269.2 1592.2M1269.2 1592.2L1273.7 1604.3M1273.7 1604.3L1274.8 1608.4M1274.8 1608.4L1276 1607.7M1276 1607.7L1277.2 1609.7M1277.2 1609.7L1278.4 1613.7M1278.4 1613.7L1279.6 1614.4M1279.6 1614.4L1280.7 1604.6M1280.7 1604.6L1281.9 1608.2M1281.9 1608.2L1283.1 1613.6M1283.1 1613.6L1284.3 1620.9M1284.3 1620.9L1285.5 1611M1285.5 1611L1286.7 1611.7M1286.7 1611.7L1287.9 1619.5M1287.9 1619.5L1289.1 1608M1289.1 1608L1290.4 1618.8M1290.4 1618.8L1291.6 1611.6M1291.6 1611.6L1292.7 1617.6M1292.7 1617.6L1293.9 1612.5M1293.9 1612.5L1295.1 1614.6M1295.1 1614.6L1296.3 1617.1M1296.3 1617.1L1297.5 1607.9M1297.5 1607.9L1298.7 1613.8M1298.7 1613.8L1299.9 1621M1299.9 1621L1301.1 1618.8M1301.1 1618.8L1302.3 1610.7M1302.3 1610.7L1303.5 1618.6M1303.5 1618.6L1304.7 1619.5M1304.7 1619.5L1305.9 1607.9M1305.9 1607.9L1307.1 1621.2M1307.1 1621.2L1308.3 1615.7M1308.3 1615.7L1309.4 1617.3M1309.4 1617.3L1310.6 1614.8M1310.6 1614.8L1311.8 1612M1311.8 1612L1313 1618.7M1313 1618.7L1314.2 1622.6M1314.2 1622.6L1315.4 1616.6M1315.4 1616.6L1316.6 1608.9M1316.6 1608.9L1317.8 1615.8M1317.8 1615.8L1319 1612.1M1319 1612.1L1320.2 1618.6M1320.2 1618.6L1321.3 1610.3M1321.3 1610.3L1322.5 1617M1322.5 1617L1323.7 1614.6M1323.7 1614.6L1324.9 1601.6M1324.9 1601.6L1326.1 1608.2M1326.1 1608.2L1327.3 1603M1327.3 1603L1328.5 1601.7M1328.5 1601.7L1329.6 1604.3M1329.6 1604.3L1330.8 1605.2M1330.8 1605.2L1333.4 1596.6M1333.4 1596.6L1334.4 1595.4M1334.4 1595.4L1336.1 1596.6M1336.1 1596.6L1339.1 1604.3M1339.1 1604.3L1340.3 1607.4M1340.3 1607.4L1341.4 1602.6M1341.4 1602.6L1342.6 1608.6M1342.6 1608.6L1343.7 1610.6M1343.7 1610.6L1344.9 1607.6M1344.9 1607.6L1346 1615.3M1346 1615.3L1347.2 1617M1347.2 1617L1348.3 1607.4M1348.3 1607.4L1349.5 1608.9M1349.5 1608.9L1350.6 1613.8M1350.6 1613.8L1351.8 1609.9M1351.8 1609.9L1352.9 1615.3M1352.9 1615.3L1354.1 1615.3M1354.1 1615.3L1355.3 1620.4M1355.3 1620.4L1356.5 1619.7M1356.5 1619.7L1357.6 1619.6M1357.6 1619.6L1358.8 1618.8M1358.8 1618.8L1360 1620.9M1360 1620.9L1361.2 1615.1M1361.2 1615.1L1362.3 1611.8M1362.3 1611.8L1363.5 1616.3M1363.5 1616.3L1364.7 1616.2M1364.7 1616.2L1365.9 1619.5M1365.9 1619.5L1367.1 1616.9M1367.1 1616.9L1368.2 1623.6M1368.2 1623.6L1369.4 1620M1369.4 1620L1370.6 1618M1370.6 1618L1371.8 1616.2M1371.8 1616.2L1372.9 1618.1M1372.9 1618.1L1374.1 1624.1M1374.1 1624.1L1375.3 1619.2M1375.3 1619.2L1376.5 1616M1376.5 1616L1377.6 1624.6M1377.6 1624.6L1378.8 1619.4M1378.8 1619.4L1380 1618.5M1380 1618.5L1381.2 1623.6M1381.2 1623.6L1382.4 1615.5M1382.4 1615.5L1383.6 1616.7M1383.6 1616.7L1384.8 1618.1M1384.8 1618.1L1386 1624.8M1386 1624.8L1387.2 1613.7M1387.2 1613.7L1388.4 1624.5M1388.4 1624.5L1389.6 1623.2M1389.6 1623.2L1390.8 1615.3M1390.8 1615.3L1392 1622.9M1392 1622.9L1393.2 1623.5M1393.2 1623.5L1394.4 1623.2M1394.4 1623.2L1395.6 1617.5M1395.6 1617.5L1396.8 1619.1M1396.8 1619.1L1398 1615M1398 1615L1399.2 1612.7M1399.2 1612.7L1400.4 1618.9M1400.4 1618.9L1401.6 1622.1M1401.6 1622.1L1402.8 1617.5M1402.8 1617.5L1404 1615.5M1404 1615.5L1405.2 1618.1M1405.2 1618.1L1406.4 1612.7M1406.4 1612.7L1407.6 1618.1M1407.6 1618.1L1408.8 1614.5M1408.8 1614.5L1410 1613.9M1410 1613.9L1411.2 1612.5M1411.2 1612.5L1412.4 1621.2M1412.4 1621.2L1413.6 1620.6M1413.6 1620.6L1414.8 1619.9M1414.8 1619.9L1416 1621.5M1416 1621.5L1417.2 1620.8M1417.2 1620.8L1418.4 1619.6M1418.4 1619.6L1419.6 1613.5M1419.6 1613.5L1420.8 1621M1420.8 1621L1422 1622.7M1422 1622.7L1423.2 1621.4M1423.2 1621.4L1424.4 1619.9M1424.4 1619.9L1425.6 1618.6M1425.6 1618.6L1426.8 1615.1M1426.8 1615.1L1428 1614.2M1428 1614.2L1429.2 1616.9M1429.2 1616.9L1430.4 1618.3M1430.4 1618.3L1431.6 1611.5M1431.6 1611.5L1432.8 1616.2M1432.8 1616.2L1434 1611.5M1434 1611.5L1435.2 1611.3M1435.2 1611.3L1436.4 1612.3M1436.4 1612.3L1437.6 1621M1437.6 1621L1438.8 1613M1438.8 1613L1440 1616.8M1440 1616.8L1441.2 1615.8M1441.2 1615.8L1442.3 1617.7M1442.3 1617.7L1443.5 1620.2M1443.5 1620.2L1444.7 1612.8M1444.7 1612.8L1445.9 1616.5M1445.9 1616.5L1447.1 1611.8M1447.1 1611.8L1448.3 1621.9M1448.3 1621.9L1449.5 1611.9M1449.5 1611.9L1450.7 1613.2M1450.7 1613.2L1451.9 1616.1M1451.9 1616.1L1453.1 1616.2M1453.1 1616.2L1454.2 1612.3M1454.2 1612.3L1455.4 1618.5M1455.4 1618.5L1456.6 1615.4M1456.6 1615.4L1457.8 1621.3M1457.8 1621.3L1459 1614.2M1459 1614.2L1460.2 1611.8M1460.2 1611.8L1461.4 1621.7M1461.4 1621.7L1462.6 1611.4M1462.6 1611.4L1463.8 1616.9M1463.8 1616.9L1465 1614.5M1465 1614.5L1466.2 1620.8M1466.2 1620.8L1467.3 1612.7M1467.3 1612.7L1468.5 1613.9M1468.5 1613.9L1469.7 1618.7M1469.7 1618.7L1470.9 1616.9M1470.9 1616.9L1472.1 1614.6M1472.1 1614.6L1473.3 1613.7M1473.3 1613.7L1474.5 1616M1474.5 1616L1475.7 1616.9M1475.7 1616.9L1476.9 1621.5M1476.9 1621.5L1478.1 1615.5M1478.1 1615.5L1479.2 1611.8M1479.2 1611.8L1480.4 1620.2M1480.4 1620.2L1481.5 1618.5M1481.5 1618.5L1482.7 1616.8M1482.7 1616.8L1483.8 1609.1M1483.8 1609.1L1485 1614.4M1485 1614.4L1486.1 1611.8M1486.1 1611.8L1487.3 1610.1M1487.3 1610.1L1488.4 1615.2M1488.4 1615.2L1489.6 1613.3M1489.6 1613.3L1490.7 1612.9M1490.7 1612.9L1491.9 1608.6M1491.9 1608.6L1499.9 1600.3M1499.9 1600.3L1506 1592.2M1506 1592.2L1506 1565.9M1506 1565.9L1510 1557.9M1510 1557.9L1510 1477.1M1510 1477.1L1513.1 1467.1M1513.1 1467.1L1513.1 1452.5M1513.1 1452.5L1513.1 1463M1513.1 1463L1517.1 1471.1M1517.1 1471.1L1517.1 1527.6M1517.1 1527.6L1520.1 1539.7M1520.1 1539.7L1520.1 1576M1520.1 1576L1524.2 1580.1M1524.2 1580.1L1524.2 1596.2M1524.2 1596.2L1526.8 1602.3M1526.8 1602.3L1527.9 1600.1M1527.9 1600.1L1529.1 1608.3M1529.1 1608.3L1530.2 1607.1M1530.2 1607.1L1531.4 1600.1M1531.4 1600.1L1532.6 1604.3M1532.6 1604.3L1533.7 1608.1M1533.7 1608.1L1534.9 1603.4M1534.9 1603.4L1536 1610.7M1536 1610.7L1537.2 1607.6M1537.2 1607.6L1538.3 1608.9M1538.3 1608.9L1539.5 1611.7M1539.5 1611.7L1540.6 1609.6M1540.6 1609.6L1541.8 1617.2M1541.8 1617.2L1543 1614.1M1543 1614.1L1544.2 1612.6M1544.2 1612.6L1545.4 1608.2M1545.4 1608.2L1546.6 1611M1546.6 1611L1547.8 1608.4M1547.8 1608.4L1549 1618.3M1549 1618.3L1550.2 1611.3M1550.2 1611.3L1551.4 1609M1551.4 1609L1552.6 1609.6M1552.6 1609.6L1553.8 1610.4M1553.8 1610.4L1555 1611.9M1555 1611.9L1556.2 1618.7M1556.2 1618.7L1557.4 1616.2M1557.4 1616.2L1558.6 1610.9M1558.6 1610.9L1559.8 1621.6M1559.8 1621.6L1560.9 1614.8M1560.9 1614.8L1562.1 1607.9M1562.1 1607.9L1563.3 1612.8M1563.3 1612.8L1564.5 1612.9M1564.5 1612.9L1565.7 1610.3M1565.7 1610.3L1566.9 1619.9M1566.9 1619.9L1568.1 1612.5M1568.1 1612.5L1569.3 1610.9M1569.3 1610.9L1570.5 1609.1M1570.5 1609.1L1571.7 1609.1M1571.7 1609.1L1572.9 1622.2M1572.9 1622.2L1574.1 1620.4M1574.1 1620.4L1575.3 1613.9M1575.3 1613.9L1576.5 1613.5M1576.5 1613.5L1577.7 1612.7M1577.7 1612.7L1579 1612.5M1579 1612.5L1580.2 1607.3M1580.2 1607.3L1581.4 1610.9M1581.4 1610.9L1582.6 1615.4M1582.6 1615.4L1583.8 1606.6M1583.8 1606.6L1585 1606.4M1585 1606.4L1586.2 1616.5M1586.2 1616.5L1587.4 1606.4M1587.4 1606.4L1588.6 1616.6M1588.6 1616.6L1589.9 1608.7M1589.9 1608.7L1591.1 1607.9M1591.1 1607.9L1592.2 1614.8M1592.2 1614.8L1593.4 1603.9M1593.4 1603.9L1594.6 1613.4M1594.6 1613.4L1595.7 1612.3M1595.7 1612.3L1596.9 1608.5M1596.9 1608.5L1598.1 1604M1598.1 1604L1599.2 1599.9M1599.2 1599.9L1600.4 1603M1600.4 1603L1601.6 1598.2M1601.6 1598.2L1602.7 1603.9M1602.7 1603.9L1603.9 1599.8M1603.9 1599.8L1603.9 1586.1M1603.9 1586.1L1607.9 1582.1M1607.9 1582.1L1607.9 1539.7M1607.9 1539.7L1612 1511.5M1612 1511.5L1612 1410.5M1612 1410.5L1612.3 1300M1612.3 1300L1615.5 1285M1615.5 1285L1618.5 1300M1618.5 1300L1619.2 1414.6M1619.2 1414.6L1622.7 1434.8M1622.7 1434.8L1622.7 1551.8M1622.7 1551.8L1625.7 1561.9M1625.7 1561.9L1625.7 1586.1M1625.7 1586.1L1629.7 1590.2M1629.7 1590.2L1629.7 1600.3M1629.7 1600.3L1630.9 1601.4M1630.9 1601.4L1632 1602.3M1632 1602.3L1633.2 1604.5M1633.2 1604.5L1634.4 1600.6M1634.4 1600.6L1635.5 1607.3M1635.5 1607.3L1636.7 1615.7M1636.7 1615.7L1637.9 1614.3M1637.9 1614.3L1639 1606.3M1639 1606.3L1640.2 1619.4M1640.2 1619.4L1641.4 1613.6M1641.4 1613.6L1642.5 1610.7M1642.5 1610.7L1643.7 1621.3M1643.7 1621.3L1644.8 1610.2M1644.8 1610.2L1645.9 1614.1M1645.9 1614.1L1647.1 1609.5M1647.1 1609.5L1648.2 1622M1648.2 1622L1649.3 1611.4M1649.3 1611.4L1650.5 1613.3M1650.5 1613.3L1651.7 1622.2M1651.7 1622.2L1652.9 1623.5M1652.9 1623.5L1654.1 1621.5M1654.1 1621.5L1655.3 1614.5M1655.3 1614.5L1656.5 1621.6M1656.5 1621.6L1657.7 1615.9M1657.7 1615.9L1658.9 1616.3M1658.9 1616.3L1660.1 1620.2M1660.1 1620.2L1661.3 1617.1M1661.3 1617.1L1662.5 1613M1662.5 1613L1663.7 1615.7M1663.7 1615.7L1664.9 1620.3M1664.9 1620.3L1666.1 1623.8M1666.1 1623.8L1667.3 1617.4M1667.3 1617.4L1668.5 1614.2M1668.5 1614.2L1669.7 1613M1669.7 1613L1670.9 1623.3M1670.9 1623.3L1672.1 1619.5M1672.1 1619.5L1673.3 1613.3M1673.3 1613.3L1674.5 1614.8M1674.5 1614.8L1675.7 1618.4M1675.7 1618.4L1676.9 1621.2M1676.9 1621.2L1678.1 1619.7M1678.1 1619.7L1679.3 1624.5M1679.3 1624.5L1680.5 1620.5M1680.5 1620.5L1681.7 1623.9M1681.7 1623.9L1682.9 1623.8M1682.9 1623.8L1684.1 1620.9M1684.1 1620.9L1685.3 1619M1685.3 1619L1686.5 1617.4M1686.5 1617.4L1687.7 1617.6M1687.7 1617.6L1688.9 1621.4M1688.9 1621.4L1690.1 1623M1690.1 1623L1691.3 1622.9M1691.3 1622.9L1692.5 1616.2M1692.5 1616.2L1693.7 1621M1693.7 1621L1694.9 1618.6M1694.9 1618.6L1696.1 1619.7M1696.1 1619.7L1697.3 1626M1697.3 1626L1698.5 1626.6M1698.5 1626.6L1699.7 1620.9M1699.7 1620.9L1700.9 1625.8M1700.9 1625.8L1702.1 1620M1702.1 1620L1703.3 1621.9M1703.3 1621.9L1704.5 1623.8M1704.5 1623.8L1705.7 1617.5M1705.7 1617.5L1706.9 1615.8M1706.9 1615.8L1708.1 1620.8M1708.1 1620.8L1709.3 1617M1709.3 1617L1710.5 1626.6M1710.5 1626.6L1711.7 1621.7M1711.7 1621.7L1712.9 1622.5M1712.9 1622.5L1714.1 1617.5M1714.1 1617.5L1715.3 1615.6M1715.3 1615.6L1716.5 1624.4M1716.5 1624.4L1717.7 1625.9M1717.7 1625.9L1718.9 1618.8M1718.9 1618.8L1720.1 1615.3M1720.1 1615.3L1721.3 1625.3M1721.3 1625.3L1722.5 1618.7M1722.5 1618.7L1723.7 1617.8M1723.7 1617.8L1724.9 1623.3M1724.9 1623.3L1726.1 1619.6M1726.1 1619.6L1727.3 1615.4M1727.3 1615.4L1728.5 1617.5M1728.5 1617.5L1729.7 1622M1729.7 1622L1730.9 1621.7M1730.9 1621.7L1732.1 1620.2M1732.1 1620.2L1733.3 1623.5M1733.3 1623.5L1734.5 1625.7M1734.5 1625.7L1735.7 1625.8M1735.7 1625.8L1736.9 1624.7M1736.9 1624.7L1738.1 1614.4M1738.1 1614.4L1739.3 1622.7M1739.3 1622.7L1740.6 1624.5M1740.6 1624.5L1741.8 1625.9M1741.8 1625.9L1743 1614.1M1743 1614.1L1744.2 1624.5M1744.2 1624.5L1745.4 1622.9M1745.4 1622.9L1746.6 1621.8M1746.6 1621.8L1747.8 1624.6M1747.8 1624.6L1749 1616.4M1749 1616.4L1750.2 1625M1750.2 1625L1751.4 1622.6M1751.4 1622.6L1752.6 1623.8M1752.6 1623.8L1753.8 1620M1753.8 1620L1755 1625.1M1755 1625.1L1756.2 1621.3M1756.2 1621.3L1757.4 1615.3M1757.4 1615.3L1758.6 1616.6M1758.6 1616.6L1759.8 1618.3M1759.8 1618.3L1761 1619.5M1761 1619.5L1762.2 1614.5M1762.2 1614.5L1763.4 1621.1M1763.4 1621.1L1764.6 1623.8M1764.6 1623.8L1765.8 1624.2M1765.8 1624.2L1767 1619.1M1767 1619.1L1768.2 1619.5M1768.2 1619.5L1769.4 1625.2M1769.4 1625.2L1770.6 1618.6M1770.6 1618.6L1771.8 1617M1771.8 1617L1773 1620M1773 1620L1774.2 1615M1774.2 1615L1775.4 1620.8M1775.4 1620.8L1776.6 1621.4M1776.6 1621.4L1777.8 1622.2M1777.8 1622.2L1779 1619.4M1779 1619.4L1780.2 1626.9M1780.2 1626.9L1781.4 1623.3M1781.4 1623.3L1782.6 1622M1782.6 1622L1783.8 1619.9M1783.8 1619.9L1785 1624.3M1785 1624.3L1786.2 1617.8M1786.2 1617.8L1787.4 1625M1787.4 1625L1788.6 1627.1M1788.6 1627.1L1789.8 1624.1M1789.8 1624.1L1791 1617.8M1791 1617.8L1792.2 1624.4M1792.2 1624.4L1793.4 1627.5M1793.4 1627.5L1794.6 1626.7M1794.6 1626.7L1795.8 1627.3M1795.8 1627.3L1797 1626M1797 1626L1798.2 1620.4M1798.2 1620.4L1799.4 1623.4M1799.4 1623.4L1800.6 1622.8M1800.6 1622.8L1801.8 1617.8M1801.8 1617.8L1803 1627.3M1803 1627.3L1804.2 1622.4M1804.2 1622.4L1805.4 1624M1805.4 1624L1806.6 1626.2M1806.6 1626.2L1807.8 1621.6M1807.8 1621.6L1808.9 1625.8M1808.9 1625.8L1810.1 1617.3M1810.1 1617.3L1811.3 1621.4M1811.3 1621.4L1812.5 1628.1M1812.5 1628.1L1813.7 1628M1813.7 1628L1814.9 1626.4M1814.9 1626.4L1816.1 1621.4M1816.1 1621.4L1817.2 1624.8M1817.2 1624.8L1818.4 1627.7M1818.4 1627.7L1819.6 1624.3M1819.6 1624.3L1820.8 1623.7M1820.8 1623.7L1822 1620.4M1822 1620.4L1823.2 1622.8M1823.2 1622.8L1824.4 1617.9M1824.4 1617.9L1825.6 1618.8M1825.6 1618.8L1826.7 1626M1826.7 1626L1827.9 1620M1827.9 1620L1829.1 1625.7M1829.1 1625.7L1830.3 1626.5M1830.3 1626.5L1831.5 1624.8M1831.5 1624.8L1832.7 1626M1832.7 1626L1833.9 1625.1M1833.9 1625.1L1835.1 1626.7M1835.1 1626.7L1836.2 1617.5M1836.2 1617.5L1837.4 1619.8M1837.4 1619.8L1838.6 1627.7M1838.6 1627.7L1839.8 1618.6M1839.8 1618.6L1841 1622.5M1841 1622.5L1842.2 1626.7M1842.2 1626.7L1843.4 1624.1M1843.4 1624.1L1844.6 1618.7M1844.6 1618.7L1845.7 1617.3M1845.7 1617.3L1846.9 1628.1M1846.9 1628.1L1848.1 1624.2M1848.1 1624.2L1849.3 1621.2M1849.3 1621.2L1850.5 1624.3M1850.5 1624.3L1851.7 1617.7M1851.7 1617.7L1852.9 1624.2M1852.9 1624.2L1854.1 1626.5M1854.1 1626.5L1855.2 1620.7M1855.2 1620.7L1856.4 1620.5M1856.4 1620.5L1857.6 1621.2M1857.6 1621.2L1858.8 1618.6M1858.8 1618.6L1860 1623.7M1860 1623.7L1861.2 1624.1M1861.2 1624.1L1862.4 1623.9M1862.4 1623.9L1863.5 1624.4M1863.5 1624.4L1864.7 1622.1M1864.7 1622.1L1865.9 1622.8M1865.9 1622.8L1867.1 1618.2M1867.1 1618.2L1868.3 1622.5M1868.3 1622.5L1869.5 1623.9M1869.5 1623.9L1870.7 1618.3M1870.7 1618.3L1871.9 1626.2M1871.9 1626.2L1873 1618.8M1873 1618.8L1874.2 1622.5M1874.2 1622.5L1875.4 1627.7M1875.4 1627.7L1876.6 1618.9M1876.6 1618.9L1877.8 1620.8M1877.8 1620.8L1879 1624.7M1879 1624.7L1880.2 1627.1M1880.2 1627.1L1881.4 1626.9M1881.4 1626.9L1882.5 1622.7M1882.5 1622.7L1883.8 1618.7M1883.8 1618.7L1885 1623.6M1885 1623.6L1886.2 1625.8M1886.2 1625.8L1887.4 1620.2M1887.4 1620.2L1888.6 1626.6M1888.6 1626.6L1889.8 1621M1889.8 1621L1891 1626.4M1891 1626.4L1892.2 1624.7M1892.2 1624.7L1893.4 1620.3M1893.4 1620.3L1894.7 1624.2M1894.7 1624.2L1895.9 1623.4M1895.9 1623.4L1897.1 1619.2M1897.1 1619.2L1898.3 1624.8M1898.3 1624.8L1899.5 1618M1899.5 1618L1900.7 1626M1900.7 1626L1901.9 1618.3M1901.9 1618.3L1903.1 1623.5M1903.1 1623.5L1904.3 1626.9M1904.3 1626.9L1905.5 1618.2M1905.5 1618.2L1906.8 1617.5M1906.8 1617.5L1908 1619.5M1908 1619.5L1909.2 1617.1M1909.2 1617.1L1910.4 1621.5M1910.4 1621.5L1911.6 1624.5M1911.6 1624.5L1912.8 1620.5M1912.8 1620.5L1914.1 1619.9M1914.1 1619.9L1915.3 1625.2M1915.3 1625.2L1916.6 1616M1916.6 1616L1917.9 1619.3M1917.9 1619.3L1919.1 1617.1M1919.1 1617.1L1920.4 1616.4M1920.4 1616.4L1921.6 1620.9M1921.6 1620.9L1922.9 1621.4M1922.9 1621.4L1924.1 1608.9M1924.1 1608.9L1925.2 1611.4M1925.2 1611.4L1926.4 1605.8M1926.4 1605.8L1927.5 1600M1927.5 1600L1928.7 1603.7M1928.7 1603.7L1929.8 1601.6M1929.8 1601.6L1931 1598.4M1931 1598.4L1941.1 1602.3M1941.1 1602.3L1942.2 1607.8M1942.2 1607.8L1943.3 1611.2M1943.3 1611.2L1944.5 1610.5M1944.5 1610.5L1945.6 1615.1M1945.6 1615.1L1946.7 1612.5M1946.7 1612.5L1947.9 1622.7M1947.9 1622.7L1949 1618M1949 1618L1950.2 1621M1950.2 1621L1951.3 1623M1951.3 1623L1952.5 1623.9M1952.5 1623.9L1953.7 1623.2M1953.7 1623.2L1954.8 1619.4M1954.8 1619.4L1956 1618.4M1956 1618.4L1957.2 1618.7M1957.2 1618.7L1958.4 1627.1M1958.4 1627.1L1959.5 1626.7M1959.5 1626.7L1960.7 1618.1M1960.7 1618.1L1961.9 1622M1961.9 1622L1963.1 1626.5M1963.1 1626.5L1964.2 1621.6M1964.2 1621.6L1965.4 1623.4M1965.4 1623.4L1966.6 1625.9M1966.6 1625.9L1967.7 1620.6M1967.7 1620.6L1968.9 1620M1968.9 1620L1970.2 1626.7M1970.2 1626.7L1971.5 1626.8M1971.5 1626.8L1972.8 1623.9M1972.8 1623.9L1974.1 1627.3M1974.1 1627.3L1975.4 1623.4"/>
<path class="c" id="blue" stroke="#0000ff" d="M200 1364L201.2 1364.5M201.2 1364.5L202.4 1365.2M202.4 1365.2L203.6 1362.8M203.6 1362.8L204.8 1363.6M204.8 1363.6L206 1363.4M206 1363.4L207.2 1364.8M207.2 1364.8L208.4 1364.8M208.4 1364.8L209.6 1363.1M209.6 1363.1L210.8 1364.6M210.8 1364.6L212 1363.3M212 1363.3L213.2 1364.4M213.2 1364.4L214.4 1365M214.4 1365L215.6 1363.1M215.6 1363.1L216.8 1363.6M216.8 1363.6L218 1364.9M218 1364.9L219.2 1363.9M219.2 1363.9L220.5 1362.9M220.5 1362.9L221.7 1363.2M221.7 1363.2L222.9 1363.9M222.9 1363.9L224.1 1364.9M224.1 1364.9L225.3 1363.5M225.3 1363.5L226.5 1362.8M226.5 1362.8L227.7 1364.2M227.7 1364.2L228.9 1365.2M228.9 1365.2L230.1 1363.1M230.1 1363.1L231.3 1364.6M231.3 1364.6L232.5 1365.2M232.5 1365.2L233.7 1364.3M233.7 1364.3L234.9 1364.8M234.9 1364.8L236.1 1364M236.1 1364L237.3 1362.9M237.3 1362.9L238.5 1364M238.5 1364L239.7 1364.2M239.7 1364.2L240.9 1363.1M240.9 1363.1L242.1 1363.1M242.1 1363.1L243.3 1363.4M243.3 1363.4L244.5 1364M244.5 1364L245.7 1365.2M245.7 1365.2L246.9 1363.7M246.9 1363.7L248.1 1364M248.1 1364L249.3 1365.2M249.3 1365.2L250.5 1364.3M250.5 1364.3L251.7 1363.4M251.7 1363.4L252.9 1364.4M252.9 1364.4L254.1 1363.7M254.1 1363.7L255.3 1363.2M255.3 1363.2L256.5 1363.4M256.5 1363.4L257.7 1364.2M257.7 1364.2L258.9 1363.2M258.9 1363.2L260.2 1363.4M260.2 1363.4L261.4 1363.1M261.4 1363.1L262.6 1364.2M262.6 1364.2L263.8 1363.2M263.8 1363.2L265 1364.5M265 1364.5L266.2 1364.7M266.2 1364.7L267.4 1364.7M267.4 1364.7L268.6 1364.5M268.6 1364.5L269.8 1364.7M269.8 1364.7L271 1365.2M271 1365.2L272.2 1363.4M272.2 1363.4L273.4 1364.5M273.4 1364.5L274.6 1364.5M274.6 1364.5L275.8 1363.7M275.8 1363.7L277 1363.6M277 1363.6L278.2 1363.7M278.2 1363.7L279.4 1363.7M279.4 1363.7L280.6 1364.4M280.6 1364.4L281.8 1364.6M281.8 1364.6L283 1363.5M283 1363.5L284.2 1363.6M284.2 1363.6L285.4 1364.2M285.4 1364.2L286.6 1364M286.6 1364L287.8 1363M287.8 1363L289 1364.3M289 1364.3L290.2 1362.8M290.2 1362.8L291.4 1363.8M291.4 1363.8L292.6 1363.6M292.6 1363.6L293.8 1365M293.8 1365L295 1363.7M295 1363.7L296.2 1362.8M296.2 1362.8L297.4 1364M297.4 1364L298.6 1364.1M298.6 1364.1L299.8 1362.9M299.8 1362.9L301.1 1363.7M301.1 1363.7L302.3 1363.7M302.3 1363.7L303.5 1363.3M303.5 1363.3L304.7 1363.6M304.7 1363.6L305.9 1364.6M305.9 1364.6L307.1 1363.3M307.1 1363.3L308.3 1364.3M308.3 1364.3L309.5 1362.8M309.5 1362.8L310.7 1363.7M310.7 1363.7L311.9 1364.1M311.9 1364.1L313.1 1363.5M313.1 1363.5L314.3 1363.8M314.3 1363.8L315.5 1363.1M315.5 1363.1L316.7 1363.7M316.7 1363.7L317.9 1363.7M317.9 1363.7L319.1 1363.2M319.1 1363.2L320.3 1364.5M320.3 1364.5L321.5 1363.7M321.5 1363.7L322.7 1364.8M322.7 1364.8L323.9 1363.4M323.9 1363.4L325.1 1363.5M325.1 1363.5L326.3 1364.2M326.3 1364.2L327.5 1363.1M327.5 1363.1L328.7 1363.5M328.7 1363.5L329.9 1364.6M329.9 1364.6L331.1 1364.1M331.1 1364.1L332.3 1365.2M332.3 1365.2L333.5 1363.2M333.5 1363.2L334.7 1363.6M334.7 1363.6L335.9 1362.9M335.9 1362.9L337.1 1363.9M337.1 1363.9L338.3 1364.6M338.3 1364.6L339.5 1364.2M339.5 1364.2L340.8 1364.3M340.8 1364.3L342 1363.6M342 1363.6L343.2 1363.5M343.2 1363.5L344.4 1363.6M344.4 1363.6L345.6 1363.9M345.6 1363.9L346.8 1363.2M346.8 1363.2L348 1364.9M348 1364.9L349.2 1363M349.2 1363L350.4 1365.1M350.4 1365.1L351.6 1364.5M351.6 1364.5L352.8 1363.4M352.8 1363.4L354 1364M354 1364L355.2 1363.6M355.2 1363.6L356.4 1363.2M356.4 1363.2L357.6 1363.5M357.6 1363.5L358.8 1364.9M358.8 1364.9L360 1363.3M360 1363.3L361.2 1363M361.2 1363L362.4 1363.3M362.4 1363.3L363.5 1365M363.5 1365L364.7 1364.1M364.7 1364.1L365.9 1364M365.9 1364L367.1 1364.3M367.1 1364.3L368.2 1362.9M368.2 1362.9L369.4 1361.1M369.4 1361.1L370.6 1363.5M370.6 1363.5L371.8 1363.1M371.8 1363.1L372.9 1363M372.9 1363L374.1 1362.1M374.1 1362.1L375.3 1361.9M375.3 1361.9L376.5 1360.4M376.5 1360.4L377.6 1364.2M377.6 1364.2L378.8 1362.5M378.8 1362.5L380 1363M380 1363L381.2 1362.8M381.2 1362.8L382.4 1363M382.4 1363L383.6 1359.4M383.6 1359.4L384.7 1363.4M384.7 1363.4L385.9 1359.4M385.9 1359.4L387.1 1359.2M387.1 1359.2L388.3 1363.3M388.3 1363.3L389.5 1361.6M389.5 1361.6L390.7 1360.2M390.7 1360.2L391.9 1363.4M391.9 1363.4L393.1 1360.2M393.1 1360.2L394.2 1360.2M394.2 1360.2L395.4 1362.7M395.4 1362.7L396.6 1358.8M396.6 1358.8L397.8 1360.7M397.8 1360.7L399 1361.5M399 1361.5L400.2 1361.2M400.2 1361.2L401.4 1361M401.4 1361L402.6 1362.5M402.6 1362.5L403.7 1363.2M403.7 1363.2L404.9 1360.2M404.9 1360.2L406.1 1363.1M406.1 1363.1L407.3 1361.8M407.3 1361.8L408.5 1362.2M408.5 1362.2L409.7 1361.8M409.7 1361.8L410.9 1359.7M410.9 1359.7L412.1 1360.5M412.1 1360.5L413.2 1362.7M413.2 1362.7L414.4 1359.3M414.4 1359.3L415.6 1358.4M415.6 1358.4L416.8 1359M416.8 1359L418 1362.5M418 1362.5L419.2 1360.6M419.2 1360.6L420.4 1362M420.4 1362L421.6 1359.5M421.6 1359.5L422.9 1362M422.9 1362L424.1 1360.8M424.1 1360.8L425.4 1358.5M425.4 1358.5L426.7 1360.9M426.7 1360.9L427.9 1357.4M427.9 1357.4L429.2 1359.9M429.2 1359.9L430.5 1356.9M430.5 1356.9L431.6 1357M431.6 1357L432.8 1354.8M432.8 1354.8L434 1354.8M434 1354.8L435.2 1355.4M435.2 1355.4L436.4 1355M436.4 1355L437.5 1354.7M437.5 1354.7L438.7 1350.2M438.7 1350.2L439.9 1353M439.9 1353L441.1 1349.9M441.1 1349.9L442.3 1349.6M442.3 1349.6L445.9 1341.5M445.9 1341.5L445.9 1332.6M445.9 1332.6L445.9 1341.5M445.9 1341.5L446.9 1349.5M446.9 1349.5L448.1 1350.2M448.1 1350.2L449.2 1348.2M449.2 1348.2L450.4 1348.6M450.4 1348.6L451.5 1353.1M451.5 1353.1L452.7 1356.9M452.7 1356.9L453.8 1349.3M453.8 1349.3L455 1351.8M455 1351.8L456.1 1355.7M456.1 1355.7L457.3 1352.2M457.3 1352.2L458.4 1355.9M458.4 1355.9L459.6 1355M459.6 1355L460.7 1358.1M460.7 1358.1L461.9 1359.2M461.9 1359.2L463.1 1360.7M463.1 1360.7L464.3 1360.8M464.3 1360.8L465.5 1356.6M465.5 1356.6L466.7 1360.7M466.7 1360.7L467.8 1354.3M467.8 1354.3L469 1354.6M469 1354.6L470.2 1355M470.2 1355L471.4 1358M471.4 1358L472.6 1359.9M472.6 1359.9L473.8 1355.1M473.8 1355.1L475 1353.8M475 1353.8L476.2 1357.9M476.2 1357.9L477.3 1359.3M477.3 1359.3L478.5 1353.7M478.5 1353.7L479.7 1352.9M479.7 1352.9L480.9 1359.8M480.9 1359.8L482.1 1355.9M482.1 1355.9L483.3 1354.4M483.3 1354.4L484.5 1355.6M484.5 1355.6L485.7 1356.2M485.7 1356.2L486.8 1355.1M486.8 1355.1L488 1358.7M488 1358.7L489.2 1356.7M489.2 1356.7L490.4 1358.7M490.4 1358.7L491.6 1352.1M491.6 1352.1L492.8 1352.8M492.8 1352.8L494 1353.9M494 1353.9L495.2 1357.5M495.2 1357.5L496.3 1355.5M496.3 1355.5L497.5 1355.1M497.5 1355.1L498.7 1353.1M498.7 1353.1L499.9 1355.7M499.9 1355.7L501.1 1356.5M501.1 1356.5L502.4 1354.2M502.4 1354.2L503.6 1353.6M503.6 1353.6L504.9 1355.5M504.9 1355.5L506.1 1350.8M506.1 1350.8L507.4 1355.2M507.4 1355.2L508.7 1351.6M508.7 1351.6L509.9 1348.3M509.9 1348.3L511.2 1354.2M511.2 1354.2L512.3 1354.1M512.3 1354.1L513.5 1350.3M513.5 1350.3L514.6 1352M514.6 1352L515.8 1344M515.8 1344L516.9 1350.7M516.9 1350.7L518.1 1344.4M518.1 1344.4L519.3 1348.2M519.3 1348.2L520.5 1342.7M520.5 1342.7L521.8 1344.3M521.8 1344.3L523.1 1344M523.1 1344L524.3 1336.8M524.3 1336.8L525.6 1344.6M525.6 1344.6L526.9 1341M526.9 1341L528.2 1341.7M528.2 1341.7L529.4 1336.9M529.4 1336.9L529.4 1313.2M529.4 1313.2L533.5 1311.2M533.5 1311.2L533.5 1280.9M533.5 1280.9L537.1 1272.8M537.1 1272.8L537.1 1196.1M537.1 1196.1L540.1 1192.1M540.1 1192.1L540.1 1180M540.1 1180L540.1 1187M540.1 1187L540.1 1112M540.1 1112L542 1110.3M542 1110.3L542 1093.2M542 1093.2L544.1 1091.5M544.1 1091.5L544.1 1067.6M544.1 1067.6L544.1 1066.6M544.1 1066.6L547.4 1101.7M547.4 1101.7L551.3 1124.9M551.3 1124.9L554.5 1101.7M554.5 1101.7L554.9 1048M554.9 1048L555.9 1047M555.9 1047L560.2 1059.1M560.2 1059.1L563.2 1069.5M563.2 1069.5L566 1040.3M566 1040.3L566 990.9M566 990.9L569.9 989.2M569.9 989.2L569.9 922.6M569.9 922.6L573 916.7M573 916.7L575.9 924.3M575.9 924.3L576.9 944.8M576.9 944.8L576.9 1050.6M576.9 1050.6L578.6 1052.3M578.6 1052.3L578.6 1077.9M578.6 1077.9L579.9 1079.6M579.9 1079.6L579.9 1200M579.9 1200L580.1 1208.3M580.1 1208.3L584.1 1210.3M584.1 1210.3L584.1 1289M584.1 1289L587.8 1291M587.8 1291L587.8 1311.2M587.8 1311.2L591.2 1313.2M591.2 1313.2L591.2 1327.3M591.2 1327.3L592.4 1327.2M592.4 1327.2L593.5 1328.1M593.5 1328.1L594.7 1330.9M594.7 1330.9L595.9 1333.5M595.9 1333.5L597 1331.4M597 1331.4L598.2 1331.7M598.2 1331.7L599.4 1336.2M599.4 1336.2L600.5 1332.2M600.5 1332.2L601.7 1337.9M601.7 1337.9L602.9 1337.1M602.9 1337.1L604 1336.6M604 1336.6L605.2 1336M605.2 1336L606.3 1335.2M606.3 1335.2L607.5 1340.3M607.5 1340.3L608.6 1340.1M608.6 1340.1L609.8 1340.9M609.8 1340.9L610.9 1335.6M610.9 1335.6L612.1 1341M612.1 1341L613.3 1337.2M613.3 1337.2L614.6 1339M614.6 1339L615.9 1331.2M615.9 1331.2L617.1 1335.4M617.1 1335.4L618.4 1333.4M618.4 1333.4L619.6 1329.4M619.6 1329.4L620.9 1331.1M620.9 1331.1L620.9 1319.3M620.9 1319.3L624.3 1318.2M624.3 1318.2L624.3 1309.2M624.3 1309.2L627.9 1301.1M627.9 1301.1L627.9 1268.8M627.9 1268.8L631 1266.8M631 1266.8L631 1258.7M631 1258.7L631.3 1256.7M631.3 1256.7L631.6 1258.7M631.6 1258.7L635 1266.8M635 1266.8L635 1305.1M635 1305.1L638.6 1311.2M638.6 1311.2L638.6 1321.3M638.6 1321.3L642.7 1327.3M642.7 1327.3L645.7 1333.4M645.7 1333.4L646.9 1333M646.9 1333L648.1 1337.1M648.1 1337.1L649.2 1336.5M649.2 1336.5L650.4 1337.6M650.4 1337.6L651.6 1339.3M651.6 1339.3L652.8 1342.7M652.8 1342.7L654 1341.6M654 1341.6L655.1 1341.2M655.1 1341.2L656.3 1342.6M656.3 1342.6L657.5 1343.7M657.5 1343.7L658.7 1344.5M658.7 1344.5L659.9 1340.1M659.9 1340.1L661.1 1341.3M661.1 1341.3L662.3 1344.5M662.3 1344.5L663.5 1338.9M663.5 1338.9L664.7 1342.3M664.7 1342.3L665.9 1338.3M665.9 1338.3L667.1 1340.9M667.1 1340.9L668.3 1336.9M668.3 1336.9L668.3 1325.3M668.3 1325.3L672.3 1324.3M672.3 1324.3L672.3 1304.1M672.3 1304.1L679.4 1303.1M679.4 1303.1L679.4 1295M679.4 1295L682.4 1294M682.4 1294L682.4 1278.9M682.4 1278.9L686.5 1276.9M686.5 1276.9L686.5 1263.8M686.5 1263.8L686.5 1262.7M686.5 1262.7L686.5 1263.8M686.5 1263.8L689.5 1266.8M689.5 1266.8L689.5 1282.9M689.5 1282.9L692.7 1284.9M692.7 1284.9L692.7 1299.1M692.7 1299.1L696.8 1301.1M696.8 1301.1L696.8 1317.2M696.8 1317.2L700.8 1319.3M700.8 1319.3L700.8 1329.3M700.8 1329.3L702 1334.3M702 1334.3L703.2 1331.8M703.2 1331.8L704.4 1333.9M704.4 1333.9L705.6 1330.1M705.6 1330.1L706.8 1335.2M706.8 1335.2L708 1343.5M708 1343.5L709.2 1342.1M709.2 1342.1L710.4 1337.8M710.4 1337.8L711.6 1338.3M711.6 1338.3L712.8 1337.2M712.8 1337.2L714 1341.7M714 1341.7L715.2 1339M715.2 1339L716.4 1338.9M716.4 1338.9L717.6 1339.5M717.6 1339.5L718.8 1341.8M718.8 1341.8L720 1344.4M720 1344.4L721.2 1349.7M721.2 1349.7L722.4 1349.1M722.4 1349.1L723.6 1342.2M723.6 1342.2L724.8 1345.3M724.8 1345.3L726 1347.2M726 1347.2L727.2 1347M727.2 1347L728.4 1347.5M728.4 1347.5L729.6 1343.1M729.6 1343.1L730.8 1345.1M730.8 1345.1L732 1344.4M732 1344.4L733.2 1346.2M733.2 1346.2L734.4 1352M734.4 1352L735.6 1343.3M735.6 1343.3L736.7 1342.6M736.7 1342.6L737.9 1342.1M737.9 1342.1L739.1 1345.2M739.1 1345.2L740.3 1342.3M740.3 1342.3L741.5 1351.3M741.5 1351.3L742.7 1343.1M742.7 1343.1L743.9 1347.4M743.9 1347.4L745.1 1342.6M745.1 1342.6L746.2 1350.9M746.2 1350.9L747.4 1342.4M747.4 1342.4L748.6 1342.2M748.6 1342.2L749.8 1343.7M749.8 1343.7L751 1349.1M751 1349.1L752.2 1343.3M752.2 1343.3L753.4 1348.5M753.4 1348.5L754.5 1341.9M754.5 1341.9L755.7 1343.4M755.7 1343.4L756.9 1348M756.9 1348L758.1 1344.7M758.1 1344.7L759.2 1337.2M759.2 1337.2L760.4 1338.4M760.4 1338.4L761.6 1341.4M761.6 1341.4L762.8 1343.7M762.8 1343.7L764 1331.6M764 1331.6L765.1 1327.1M765.1 1327.1L766.3 1335.4M766.3 1335.4L767.5 1340.7M767.5 1340.7L768.6 1335.4M768.6 1335.4L769.8 1330.8M769.8 1330.8L771 1327.2M771 1327.2L772.1 1342.6M772.1 1342.6L773.3 1334.2M773.3 1334.2L774.5 1336.8M774.5 1336.8L775.6 1341.5M775.6 1341.5L776.8 1334.1M776.8 1334.1L778 1326.4M778 1326.4L779.2 1333.8M779.2 1333.8L780.4 1333.9M780.4 1333.9L781.7 1330.9M781.7 1330.9L782.9 1333M782.9 1333L784.2 1332.9M784.2 1332.9L785.4 1328.2M785.4 1328.2L786.7 1333.2M786.7 1333.2L787.9 1328.4M787.9 1328.4L787.9 1310.3M787.9 1310.3L792 1308.2M792 1308.2L792 1282M792 1282L795.4 1278M795.4 1278L795.4 1241.6M795.4 1241.6L799 1239.6M799 1239.6L799 1213.4M799 1213.4L803.1 1211.4M803.1 1211.4L803.1 1195.2M803.1 1195.2L806.1 1193.2M806.1 1193.2L806.1 1160.9M806.1 1160.9L810.1 1156.9M810.1 1156.9L810.1 1116.5M810.1 1116.5L814.2 1112.5M814.2 1112.5L814.2 1094.3M814.2 1094.3L818.5 1093.5M818.5 1093.5L820.8 1094.3M820.8 1094.3L820.8 1154.9M820.8 1154.9L824.3 1156.9M824.3 1156.9L824.3 1221.5M824.3 1221.5L827.9 1227.5M827.9 1227.5L827.9 1273.9M827.9 1273.9L831.9 1278M831.9 1278L831.9 1294.1M831.9 1294.1L835 1298.1M835 1298.1L835 1314.3M835 1314.3L836.1 1315.7M836.1 1315.7L837.3 1315.9M837.3 1315.9L838.4 1317.1M838.4 1317.1L839.6 1315.9M839.6 1315.9L840.7 1319.5M840.7 1319.5L841.9 1328M841.9 1328L843 1327.7M843 1327.7L844.2 1323.2M844.2 1323.2L845.3 1325.2M845.3 1325.2L846.5 1332.4M846.5 1332.4L847.6 1325.2M847.6 1325.2L848.8 1325.6M848.8 1325.6L850 1325.7M850 1325.7L851.2 1336.5M851.2 1336.5L852.4 1327.9M852.4 1327.9L853.6 1334.8M853.6 1334.8L854.9 1334M854.9 1334L856.1 1332.7M856.1 1332.7L857.3 1339.1M857.3 1339.1L858.5 1331.6M858.5 1331.6L859.7 1332.7M859.7 1332.7L860.9 1338.3M860.9 1338.3L862.2 1337.8M862.2 1337.8L863.4 1331M863.4 1331L864.7 1332M864.7 1332L866 1338.7M866 1338.7L867.2 1339.7M867.2 1339.7L868.5 1333.2M868.5 1333.2L869.7 1342.6M869.7 1342.6L871 1344.5M871 1344.5L872.3 1339.3M872.3 1339.3L873.5 1336.7M873.5 1336.7L874.8 1343.7M874.8 1343.7L876 1343.4M876 1343.4L877.3 1345.7M877.3 1345.7L878.6 1343.4M878.6 1343.4L879.8 1345.7M879.8 1345.7L881.1 1346.2M881.1 1346.2L882.3 1343.8M882.3 1343.8L883.6 1349.3M883.6 1349.3L884.8 1347.2M884.8 1347.2L886.1 1348.3M886.1 1348.3L887.3 1345.1M887.3 1345.1L888.5 1349.1M888.5 1349.1L889.8 1348.2M889.8 1348.2L891 1348M891 1348L892.3 1349.1M892.3 1349.1L893.5 1345.1M893.5 1345.1L894.8 1350.1M894.8 1350.1L896 1351.3M896 1351.3L897.2 1349.9M897.2 1349.9L898.4 1344.8M898.4 1344.8L899.6 1350.5M899.6 1350.5L900.8 1344.1M900.8 1344.1L902 1342.1M902 1342.1L903.2 1339.9M903.2 1339.9L904.4 1344.9M904.4 1344.9L905.6 1339.2M905.6 1339.2L906.8 1339.5M906.8 1339.5L908 1337.4M908 1337.4L908 1288.1M908 1288.1L912.1 1282M912.1 1282L912.1 1142.7M912.1 1142.7L915.1 1140.7M915.1 1140.7L915.1 1120.5M915.1 1120.5L916.1 1118.5M916.1 1118.5L916.1 1082.2M916.1 1082.2L916.1 1080.8M916.1 1080.8L916.1 1082.2M916.1 1082.2L916.1 1140.7M916.1 1140.7L918.7 1154.9M918.7 1154.9L918.7 1292.1M918.7 1292.1L922.8 1304.2M922.8 1304.2L922.8 1330.4M922.8 1330.4L926.8 1334.5M926.8 1334.5L928 1335.8M928 1335.8L929.2 1336.8M929.2 1336.8L930.4 1340.1M930.4 1340.1L931.6 1343.9M931.6 1343.9L932.8 1340.8M932.8 1340.8L934 1347.2M934 1347.2L935.2 1342.9M935.2 1342.9L936.4 1350.9M936.4 1350.9L937.6 1347.6M937.6 1347.6L938.8 1347.3M938.8 1347.3L940 1348.7M940 1348.7L941.1 1350.8M941.1 1350.8L942.3 1346.1M942.3 1346.1L943.5 1347.8M943.5 1347.8L944.7 1353.3M944.7 1353.3L945.8 1346.7M945.8 1346.7L947 1353.2M947 1353.2L948.2 1348.5M948.2 1348.5L949.4 1346.7M949.4 1346.7L950.5 1354.2M950.5 1354.2L951.7 1354.1M951.7 1354.1L953 1354M953 1354L954.2 1344.9M954.2 1344.9L955.5 1345.5M955.5 1345.5L956.8 1354.4M956.8 1354.4L958 1347.5M958 1347.5L959.3 1348.9M959.3 1348.9L960.6 1354.3M960.6 1354.3L961.8 1353.3M961.8 1353.3L963 1345.3M963 1345.3L964.2 1344.7M964.2 1344.7L965.4 1345.4M965.4 1345.4L966.6 1351.6M966.6 1351.6L967.8 1351.1M967.8 1351.1L968.9 1348.8M968.9 1348.8L970.1 1351.9M970.1 1351.9L971.3 1346.2M971.3 1346.2L972.5 1350.4M972.5 1350.4L973.7 1350.6M973.7 1350.6L974.9 1346.6M974.9 1346.6L976.1 1352.8M976.1 1352.8L977.2 1353.7M977.2 1353.7L978.4 1345.6M978.4 1345.6L979.6 1350M979.6 1350L980.8 1351.4M980.8 1351.4L982 1351.2M982 1351.2L983.1 1348.3M983.1 1348.3L984.3 1346.7M984.3 1346.7L985.5 1345.7M985.5 1345.7L986.6 1339.8M986.6 1339.8L987.8 1341M987.8 1341L988.9 1339.3M988.9 1339.3L990.1 1343.7M990.1 1343.7L991.2 1341.8M991.2 1341.8L992.4 1335.9M992.4 1335.9L993.5 1339.3M993.5 1339.3L994.7 1339.7M994.7 1339.7L995.8 1335.6M995.8 1335.6L995.8 1330.4M995.8 1330.4L999.9 1328.4M999.9 1328.4L999.9 1322.4M999.9 1322.4L1002.9 1320.3M1002.9 1320.3L1002.9 1306.2M1002.9 1306.2L1006.9 1304.2M1006.9 1304.2L1006.9 1294.1M1006.9 1294.1L1010.3 1292.7M1010.3 1292.7L1014 1294.1M1014 1294.1L1014 1304.2M1014 1304.2L1017.6 1306.2M1017.6 1306.2L1017.6 1312.3M1017.6 1312.3L1021.1 1314.3M1021.1 1314.3L1021.1 1324.4M1021.1 1324.4L1024.7 1326.4M1024.7 1326.4L1024.7 1332.5M1024.7 1332.5L1025.9 1331.4M1025.9 1331.4L1027.1 1334.9M1027.1 1334.9L1028.3 1334.7M1028.3 1334.7L1029.6 1336M1029.6 1336L1030.8 1338M1030.8 1338L1032 1343.5M1032 1343.5L1033.2 1345.9M1033.2 1345.9L1034.4 1340.7M1034.4 1340.7L1035.7 1344.5M1035.7 1344.5L1036.9 1345.3M1036.9 1345.3L1038.1 1342.9M1038.1 1342.9L1039.3 1348.2M1039.3 1348.2L1040.5 1345.3M1040.5 1345.3L1041.7 1346.2M1041.7 1346.2L1042.9 1346M1042.9 1346L1044.2 1352.4M1044.2 1352.4L1045.4 1350.5M1045.4 1350.5L1046.6 1349.5M1046.6 1349.5L1047.8 1353.7M1047.8 1353.7L1049 1353.7M1049 1353.7L1050.2 1355.4M1050.2 1355.4L1051.4 1349.4M1051.4 1349.4L1052.6 1348.1M1052.6 1348.1L1053.9 1346.7M1053.9 1346.7L1055.2 1349.6M1055.2 1349.6L1056.4 1353.5M1056.4 1353.5L1057.7 1344.2M1057.7 1344.2L1058.9 1350.4M1058.9 1350.4L1060.2 1344.1M1060.2 1344.1L1061.5 1344.8M1061.5 1344.8L1062.7 1342.6M1062.7 1342.6L1063.9 1345.6M1063.9 1345.6L1065.1 1345M1065.1 1345L1066.3 1345M1066.3 1345L1067.5 1345.7M1067.5 1345.7L1068.7 1347M1068.7 1347L1069.8 1339.6M1069.8 1339.6L1071 1344.2M1071 1344.2L1072.2 1342.5M1072.2 1342.5L1073.4 1343.7M1073.4 1343.7L1074.6 1341.5M1074.6 1341.5L1075.8 1336.4M1075.8 1336.4L1077 1344.4M1077 1344.4L1078.2 1343.2M1078.2 1343.2L1079.3 1334.9M1079.3 1334.9L1080.5 1341.1M1080.5 1341.1L1081.7 1339.4M1081.7 1339.4L1082.9 1342.9M1082.9 1342.9L1084.1 1336.5M1084.1 1336.5L1085.4 1338.7M1085.4 1338.7L1086.6 1339.2M1086.6 1339.2L1087.9 1339.6M1087.9 1339.6L1089.1 1333.8M1089.1 1333.8L1090.4 1334.7M1090.4 1334.7L1091.6 1337M1091.6 1337L1092.8 1340.1M1092.8 1340.1L1094.1 1334.1M1094.1 1334.1L1095.3 1329.7M1095.3 1329.7L1096.6 1337.8M1096.6 1337.8L1097.8 1333.6M1097.8 1333.6L1099.1 1335.2M1099.1 1335.2L1100.3 1333.8M1100.3 1333.8L1101.5 1336.8M1101.5 1336.8L1102.7 1327.3M1102.7 1327.3L1103.9 1323.5M1103.9 1323.5L1105.1 1331.5M1105.1 1331.5L1106.3 1323.4M1106.3 1323.4L1107.5 1334.3M1107.5 1334.3L1108.7 1322.7M1108.7 1322.7L1109.9 1331.4M1109.9 1331.4L1111.1 1329.4M1111.1 1329.4L1112.2 1336.6M1112.2 1336.6L1113.4 1326.8M1113.4 1326.8L1114.6 1333.1M1114.6 1333.1L1115.7 1337.1M1115.7 1337.1L1116.9 1339.4M1116.9 1339.4L1118.1 1334.4M1118.1 1334.4L1119.2 1338.1M1119.2 1338.1L1120.5 1340.5M1120.5 1340.5L1121.8 1343.2M1121.8 1343.2L1123 1336.1M1123 1336.1L1124.3 1338.1M1124.3 1338.1L1125.5 1343.4M1125.5 1343.4L1126.8 1345.7M1126.8 1345.7L1128.1 1344.2M1128.1 1344.2L1129.3 1348.5M1129.3 1348.5L1130.6 1345.8M1130.6 1345.8L1131.8 1346.1M1131.8 1346.1L1133.1 1349.2M1133.1 1349.2L1134.4 1341.5M1134.4 1341.5L1135.6 1343.7M1135.6 1343.7L1136.9 1346.8M1136.9 1346.8L1138.2 1347.7M1138.2 1347.7L1139.4 1348M1139.4 1348L1140.7 1342.3M1140.7 1342.3L1141.9 1330.5M1141.9 1330.5L1143.2 1334.7M1143.2 1334.7L1144.5 1327.5M1144.5 1327.5L1145.7 1331.1M1145.7 1331.1L1147 1331.7M1147 1331.7L1148.2 1325.8M1148.2 1325.8L1149.5 1330.9M1149.5 1330.9L1150.7 1336.4M1150.7 1336.4L1151.9 1332.2M1151.9 1332.2L1153.2 1331M1153.2 1331L1154.4 1327.3M1154.4 1327.3L1155.6 1339.6M1155.6 1339.6L1156.9 1334M1156.9 1334L1158.1 1329M1158.1 1329L1159.3 1338.3M1159.3 1338.3L1160.5 1335.6M1160.5 1335.6L1161.8 1338.7M1161.8 1338.7L1163 1339.1M1163 1339.1L1164.2 1338.4M1164.2 1338.4L1165.5 1341.2M1165.5 1341.2L1166.7 1332.1M1166.7 1332.1L1167.9 1332.9M1167.9 1332.9L1169.2 1329.9M1169.2 1329.9L1170.4 1328.7M1170.4 1328.7L1171.6 1331.8M1171.6 1331.8L1172.9 1324.7M1172.9 1324.7L1174.1 1337.8M1174.1 1337.8L1175.3 1333.8M1175.3 1333.8L1176.5 1322.9M1176.5 1322.9L1177.6 1334.3M1177.6 1334.3L1178.8 1326M1178.8 1326L1180 1326.5M1180 1326.5L1181.1 1322M1181.1 1322L1182.3 1332.5M1182.3 1332.5L1183.5 1328.8M1183.5 1328.8L1184.6 1335.8M1184.6 1335.8L1185.8 1327M1185.8 1327L1187 1339M1187 1339L1188.1 1332M1188.1 1332L1189.3 1325.8M1189.3 1325.8L1190.5 1328.9M1190.5 1328.9L1191.6 1326.2M1191.6 1326.2L1192.8 1332.2M1192.8 1332.2L1193.9 1334.9M1193.9 1334.9L1195.1 1334.4M1195.1 1334.4L1196.2 1324.5M1196.2 1324.5L1197.4 1329.5M1197.4 1329.5L1198.5 1316.7M1198.5 1316.7L1199.7 1323.2M1199.7 1323.2L1200.8 1322.2M1200.8 1322.2L1202 1322.1M1202 1322.1L1203.1 1323.7M1203.1 1323.7L1204.3 1320.3M1204.3 1320.3L1204.3 1310.3M1204.3 1310.3L1207.3 1308.2M1207.3 1308.2L1207.3 1296.1M1207.3 1296.1L1210.7 1294.1M1210.7 1294.1L1210.7 1282M1210.7 1282L1214.8 1280M1214.8 1280L1217.7 1276.5M1217.7 1276.5L1218.9 1277.1M1218.9 1277.1L1220.2 1275.7M1220.2 1275.7L1221.4 1275.7M1221.4 1275.7L1222.6 1285M1222.6 1285L1223.9 1296.4M1223.9 1296.4L1225.1 1285.2M1225.1 1285.2L1226.3 1301.7M1226.3 1301.7L1227.6 1286.8M1227.6 1286.8L1228.8 1294.8M1228.8 1294.8L1230.1 1303M1230.1 1303L1231.3 1303.9M1231.3 1303.9L1232.6 1301.8M1232.6 1301.8L1233.8 1307.4M1233.8 1307.4L1235.1 1303.7M1235.1 1303.7L1236.4 1298.5M1236.4 1298.5L1237.6 1308.7M1237.6 1308.7L1238.9 1297.6M1238.9 1297.6L1239.6 1312.3M1239.6 1312.3L1240.8 1315.9M1240.8 1315.9L1241.9 1316.6M1241.9 1316.6L1243.1 1319.2M1243.1 1319.2L1244.3 1317.8M1244.3 1317.8L1245.5 1317.6M1245.5 1317.6L1246.6 1320.1M1246.6 1320.1L1247.8 1330.5M1247.8 1330.5L1249 1329.1M1249 1329.1L1250.2 1325.6M1250.2 1325.6L1251.4 1325.1M1251.4 1325.1L1252.7 1319.6M1252.7 1319.6L1253.9 1317.3M1253.9 1317.3L1255.1 1313.6M1255.1 1313.6L1255.1 1302.2M1255.1 1302.2L1258.2 1298.1M1258.2 1298.1L1258.2 1223.5M1258.2 1223.5L1262.2 1213.4M1262.2 1213.4L1262.2 1191.2M1262.2 1191.2L1262.2 1189.8M1262.2 1189.8L1262.2 1191.2M1262.2 1191.2L1262.2 1219.4M1262.2 1219.4L1265 1223.5M1265 1223.5L1265 1296.1M1265 1296.1L1268.5 1306.2M1268.5 1306.2L1268.5 1328.4M1268.5 1328.4L1272.5 1332.5M1272.5 1332.5L1273.7 1336M1273.7 1336L1274.9 1334.8M1274.9 1334.8L1276 1333.5M1276 1333.5L1277.2 1332.8M1277.2 1332.8L1278.4 1340M1278.4 1340L1279.6 1335.2M1279.6 1335.2L1280.8 1345.9M1280.8 1345.9L1281.9 1339.4M1281.9 1339.4L1283.1 1341.9M1283.1 1341.9L1284.3 1341.3M1284.3 1341.3L1285.5 1341.2M1285.5 1341.2L1286.7 1345.8M1286.7 1345.8L1287.9 1346.7M1287.9 1346.7L1289.1 1346M1289.1 1346L1290.3 1344.1M1290.3 1344.1L1291.5 1340.3M1291.5 1340.3L1292.6 1337.6M1292.6 1337.6L1293.8 1335.1M1293.8 1335.1L1295 1328.4M1295 1328.4L1296.2 1326.5M1296.2 1326.5L1297.4 1333.6M1297.4 1333.6L1298.7 1324.7M1298.7 1324.7L1299.9 1331.2M1299.9 1331.2L1301.2 1321.9M1301.2 1321.9L1302.5 1331.4M1302.5 1331.4L1303.7 1325.4M1303.7 1325.4L1305 1322.4M1305 1322.4L1306.2 1319.1M1306.2 1319.1L1307.5 1315.4M1307.5 1315.4L1308.7 1323.6M1308.7 1323.6L1309.9 1320.5M1309.9 1320.5L1311 1317M1311 1317L1312.2 1321.2M1312.2 1321.2L1313.4 1313M1313.4 1313L1314.6 1311.8M1314.6 1311.8L1315.7 1312.2M1315.7 1312.2L1316.9 1323.1M1316.9 1323.1L1318.1 1318.2M1318.1 1318.2L1319.3 1314.7M1319.3 1314.7L1320.5 1318.6M1320.5 1318.6L1321.6 1317.3M1321.6 1317.3L1322.8 1319.4M1322.8 1319.4L1323.9 1309.9M1323.9 1309.9L1325.1 1308.6M1325.1 1308.6L1326.2 1307.9M1326.2 1307.9L1327.4 1304.2M1327.4 1304.2L1328.5 1304.7M1328.5 1304.7L1329.7 1303.6M1329.7 1303.6L1330.8 1311.8M1330.8 1311.8L1332 1307M1332 1307L1333.2 1308M1333.2 1308L1334.3 1306.2M1334.3 1306.2L1335.5 1304.4M1335.5 1304.4L1335.5 1290.1M1335.5 1290.1L1336.6 1288M1336.6 1288L1337.8 1307.2M1337.8 1307.2L1338.9 1299.3M1338.9 1299.3L1340.1 1296.2M1340.1 1296.2L1341.2 1302.2M1341.2 1302.2L1342.4 1297.9M1342.4 1297.9L1343.5 1297.3M1343.5 1297.3L1344.7 1300.6M1344.7 1300.6L1345.9 1295.3M1345.9 1295.3L1347.1 1291.4M1347.1 1291.4L1348.4 1286.6M1348.4 1286.6L1349.7 1292.4M1349.7 1292.4L1351 1283.9M1351 1283.9L1352.3 1284.9M1352.3 1284.9L1353.6 1284M1353.6 1284L1353.6 1278M1353.6 1278L1357.1 1275.9M1357.1 1275.9L1357.1 1265.9M1357.1 1265.9L1360.1 1263.8M1360.1 1263.8L1360.1 1259.8M1360.1 1259.8L1363.3 1261.8M1363.3 1261.8L1363.3 1269.9M1363.3 1269.9L1370.8 1271.9M1370.8 1271.9L1370.8 1304.2M1370.8 1304.2L1374.8 1306.2M1374.8 1306.2L1374.8 1316.3M1374.8 1316.3L1377.8 1318.3M1377.8 1318.3L1377.8 1326.4M1377.8 1326.4L1379 1329.4M1379 1329.4L1380.2 1326.5M1380.2 1326.5L1381.4 1328.2M1381.4 1328.2L1382.6 1331.8M1382.6 1331.8L1383.8 1331.7M1383.8 1331.7L1385 1333.2M1385 1333.2L1386.2 1329.7M1386.2 1329.7L1387.3 1334M1387.3 1334L1388.5 1333.4M1388.5 1333.4L1389.7 1343.3M1389.7 1343.3L1390.9 1344M1390.9 1344L1392.1 1342.5M1392.1 1342.5L1393.3 1338.7M1393.3 1338.7L1394.4 1347.2M1394.4 1347.2L1395.5 1338.7M1395.5 1338.7L1396.7 1349.1M1396.7 1349.1L1397.8 1345.7M1397.8 1345.7L1399 1344.7M1399 1344.7L1400.1 1344.7M1400.1 1344.7L1401.2 1347.1M1401.2 1347.1L1402.4 1348.2M1402.4 1348.2L1403.5 1350.2M1403.5 1350.2L1404.7 1348.8M1404.7 1348.8L1405.9 1346M1405.9 1346L1407.1 1343.3M1407.1 1343.3L1408.3 1341.9M1408.3 1341.9L1409.5 1342.8M1409.5 1342.8L1410.7 1341.7M1410.7 1341.7L1411.9 1341M1411.9 1341L1413 1346.4M1413 1346.4L1414.2 1346.8M1414.2 1346.8L1415.4 1346.6M1415.4 1346.6L1416.6 1337.4M1416.6 1337.4L1417.8 1341.7M1417.8 1341.7L1419 1344.4M1419 1344.4L1420.2 1347.6M1420.2 1347.6L1421.4 1348.3M1421.4 1348.3L1422.5 1345.4M1422.5 1345.4L1423.8 1343.7M1423.8 1343.7L1425 1344.2M1425 1344.2L1426.3 1337.6M1426.3 1337.6L1427.5 1345.9M1427.5 1345.9L1428.8 1349.6M1428.8 1349.6L1430 1339.4M1430 1339.4L1431.2 1339M1431.2 1339L1432.5 1344.5M1432.5 1344.5L1433.7 1338.9M1433.7 1338.9L1435 1343.3M1435 1343.3L1436.2 1345.9M1436.2 1345.9L1437.4 1342.3M1437.4 1342.3L1438.7 1348.2M1438.7 1348.2L1439.9 1348.1M1439.9 1348.1L1441.1 1340.8M1441.1 1340.8L1442.3 1342.3M1442.3 1342.3L1443.5 1345.6M1443.5 1345.6L1444.7 1338.1M1444.7 1338.1L1446 1346.2M1446 1346.2L1447.2 1334.8M1447.2 1334.8L1448.4 1338.9M1448.4 1338.9L1449.6 1338.4M1449.6 1338.4L1450.8 1345.1M1450.8 1345.1L1452 1342.9M1452 1342.9L1453.2 1331.9M1453.2 1331.9L1454.4 1343.1M1454.4 1343.1L1455.6 1334.5M1455.6 1334.5L1456.9 1333.8M1456.9 1333.8L1458.1 1336.2M1458.1 1336.2L1459.3 1332M1459.3 1332L1460.5 1333.4M1460.5 1333.4L1461.7 1334.3M1461.7 1334.3L1462.9 1329M1462.9 1329L1464.1 1325.2M1464.1 1325.2L1465.4 1326.2M1465.4 1326.2L1466.6 1323.4M1466.6 1323.4L1467.9 1332.6M1467.9 1332.6L1469.1 1330.9M1469.1 1330.9L1470.4 1326.7M1470.4 1326.7L1471.6 1327.5M1471.6 1327.5L1472.8 1331.5M1472.8 1331.5L1474.1 1332.3M1474.1 1332.3L1475.3 1320.3M1475.3 1320.3L1476.6 1317.8M1476.6 1317.8L1477.8 1330.5M1477.8 1330.5L1479.1 1316.8M1479.1 1316.8L1480.3 1329.7M1480.3 1329.7L1481.5 1322.4M1481.5 1322.4L1482.7 1322.1M1482.7 1322.1L1483.9 1324.3M1483.9 1324.3L1485.1 1319.2M1485.1 1319.2L1486.3 1326M1486.3 1326L1487.5 1313.4M1487.5 1313.4L1488.7 1310M1488.7 1310L1489.9 1322.1M1489.9 1322.1L1491.1 1311.4M1491.1 1311.4L1492.3 1316.3M1492.3 1316.3L1493.5 1312.8M1493.5 1312.8L1494.7 1310.7M1494.7 1310.7L1495.9 1313.8M1495.9 1313.8L1495.9 1302.2M1495.9 1302.2L1510 1298.1M1510 1298.1L1510 1282M1510 1282L1513.5 1280M1513.5 1280L1513.5 1267.9M1513.5 1267.9L1513.5 1266.9M1513.5 1266.9L1513.7 1267.9M1513.7 1267.9L1517.1 1269.9M1517.1 1269.9L1517.1 1288.1M1517.1 1288.1L1520.1 1290.1M1520.1 1290.1L1520.1 1306.2M1520.1 1306.2L1521.4 1309.9M1521.4 1309.9L1522.6 1309M1522.6 1309L1523.9 1309.1M1523.9 1309.1L1525.1 1316.6M1525.1 1316.6L1526.4 1317.6M1526.4 1317.6L1527.6 1312.6M1527.6 1312.6L1528.8 1315.4M1528.8 1315.4L1530.1 1317.1M1530.1 1317.1L1531.4 1321.8M1531.4 1321.8L1532.6 1324.2M1532.6 1324.2L1533.9 1321.6M1533.9 1321.6L1535.1 1319.9M1535.1 1319.9L1536.4 1319.5M1536.4 1319.5L1537.7 1329.9M1537.7 1329.9L1538.9 1328.2M1538.9 1328.2L1540.2 1325.4M1540.2 1325.4L1541.4 1324.2M1541.4 1324.2L1542.7 1327.3M1542.7 1327.3L1544 1334.3M1544 1334.3L1545.2 1332.3M1545.2 1332.3L1546.5 1336.9M1546.5 1336.9L1547.7 1336.7M1547.7 1336.7L1549 1337.9M1549 1337.9L1550.3 1332.6M1550.3 1332.6L1551.5 1336.1M1551.5 1336.1L1552.8 1335.1M1552.8 1335.1L1554.1 1339.3M1554.1 1339.3L1555.3 1336.3M1555.3 1336.3L1556.6 1343.1M1556.6 1343.1L1557.8 1342.1M1557.8 1342.1L1559.1 1344.7M1559.1 1344.7L1560.4 1345.5M1560.4 1345.5L1561.6 1344.1M1561.6 1344.1L1562.7 1342.2M1562.7 1342.2L1563.9 1344.8M1563.9 1344.8L1565.1 1340.1M1565.1 1340.1L1566.3 1342.5M1566.3 1342.5L1567.5 1342.2M1567.5 1342.2L1568.7 1342M1568.7 1342L1569.9 1346.9M1569.9 1346.9L1571 1348.4M1571 1348.4L1572.2 1344.6M1572.2 1344.6L1573.4 1343.7M1573.4 1343.7L1574.6 1345.9M1574.6 1345.9L1575.8 1347.7M1575.8 1347.7L1577 1345.4M1577 1345.4L1578.2 1347M1578.2 1347L1579.4 1349.4M1579.4 1349.4L1580.5 1349.4M1580.5 1349.4L1581.7 1349.8M1581.7 1349.8L1582.9 1345.1M1582.9 1345.1L1584 1349.2M1584 1349.2L1585.2 1349.7M1585.2 1349.7L1586.4 1346.9M1586.4 1346.9L1587.5 1344.1M1587.5 1344.1L1588.7 1348.6M1588.7 1348.6L1589.9 1343.8M1589.9 1343.8L1591 1349M1591 1349L1592.2 1345.3M1592.2 1345.3L1593.4 1346.5M1593.4 1346.5L1594.5 1345.4M1594.5 1345.4L1595.7 1344.1M1595.7 1344.1L1596.9 1343.2M1596.9 1343.2L1598.2 1346.8M1598.2 1346.8L1599.4 1344.3M1599.4 1344.3L1600.7 1338.4M1600.7 1338.4L1602 1341.4M1602 1341.4L1603.2 1339.1M1603.2 1339.1L1604.5 1340.2M1604.5 1340.2L1604.5 1326.4M1604.5 1326.4L1608.1 1322.4M1608.1 1322.4L1608.1 1308.2M1608.1 1308.2L1611.9 1304.2M1611.9 1304.2L1611.9 1213.4M1611.9 1213.4L1615 1211.4M1615 1211.4L1615 1120.5M1615 1120.5L1616.9 1119.7M1616.9 1119.7L1618.8 1120.5M1618.8 1120.5L1618.8 1187.1M1618.8 1187.1L1621.2 1193.2M1621.2 1193.2L1621.2 1201.3M1621.2 1201.3L1623.2 1209.3M1623.2 1209.3L1623.2 1294.1M1623.2 1294.1L1625.9 1298.1M1625.9 1298.1L1625.9 1322.4M1625.9 1322.4L1630.3 1326.4M1630.3 1326.4L1631.5 1325.2M1631.5 1325.2L1632.7 1329.3M1632.7 1329.3L1633.8 1330.7M1633.8 1330.7L1635 1333.6M1635 1333.6L1636.2 1335.7M1636.2 1335.7L1637.4 1337.2M1637.4 1337.2L1638.6 1334.6M1638.6 1334.6L1639.7 1338.3M1639.7 1338.3L1640.9 1343.3M1640.9 1343.3L1642.1 1342.9M1642.1 1342.9L1643.2 1336.5M1643.2 1336.5L1644.4 1336.1M1644.4 1336.1L1645.5 1336.8M1645.5 1336.8L1646.6 1339.2M1646.6 1339.2L1647.8 1338.1M1647.8 1338.1L1648.9 1336.1M1648.9 1336.1L1650 1343.2M1650 1343.2L1651.2 1335.2M1651.2 1335.2L1652.4 1337.8M1652.4 1337.8L1653.6 1343.2M1653.6 1343.2L1654.8 1340.8M1654.8 1340.8L1656 1340.6M1656 1340.6L1657.2 1337.9M1657.2 1337.9L1658.4 1345.8M1658.4 1345.8L1659.7 1346M1659.7 1346L1660.9 1340.7M1660.9 1340.7L1662.1 1341.4M1662.1 1341.4L1663.3 1337.6M1663.3 1337.6L1664.5 1337.3M1664.5 1337.3L1665.7 1342.3M1665.7 1342.3L1666.9 1338.8M1666.9 1338.8L1668.1 1339.5M1668.1 1339.5L1669.3 1340.8M1669.3 1340.8L1670.6 1339.3M1670.6 1339.3L1671.8 1339.7M1671.8 1339.7L1673 1340.1M1673 1340.1L1674.2 1341.2M1674.2 1341.2L1675.4 1342.3M1675.4 1342.3L1676.6 1345.7M1676.6 1345.7L1677.8 1344M1677.8 1344L1679 1345M1679 1345L1680.2 1346.5M1680.2 1346.5L1681.5 1340.2M1681.5 1340.2L1682.6 1347.6M1682.6 1347.6L1683.8 1348.2M1683.8 1348.2L1685 1348.4M1685 1348.4L1686.2 1349M1686.2 1349L1687.4 1343.1M1687.4 1343.1L1688.6 1345.8M1688.6 1345.8L1689.8 1350.2M1689.8 1350.2L1691 1347.4M1691 1347.4L1692.1 1344.2M1692.1 1344.2L1693.3 1344.9M1693.3 1344.9L1694.5 1341.6M1694.5 1341.6L1695.7 1344.9M1695.7 1344.9L1696.9 1348M1696.9 1348L1698.1 1345.9M1698.1 1345.9L1699.3 1343.3M1699.3 1343.3L1700.4 1347.8M1700.4 1347.8L1701.6 1348M1701.6 1348L1702.8 1348M1702.8 1348L1704 1340.2M1704 1340.2L1705.1 1340.4M1705.1 1340.4L1706.3 1337.6M1706.3 1337.6L1707.5 1341.1M1707.5 1341.1L1708.6 1343.3M1708.6 1343.3L1709.8 1343.4M1709.8 1343.4L1710.9 1346.7M1710.9 1346.7L1712.1 1345.3M1712.1 1345.3L1713.3 1344M1713.3 1344L1714.4 1345.1M1714.4 1345.1L1715.6 1340.1M1715.6 1340.1L1716.8 1331.9M1716.8 1331.9L1717.9 1337.1M1717.9 1337.1L1719.1 1336.3M1719.1 1336.3L1720.3 1345.4M1720.3 1345.4L1721.4 1339.9M1721.4 1339.9L1722.6 1338M1722.6 1338L1723.8 1341.2M1723.8 1341.2L1724.9 1339.9M1724.9 1339.9L1726.1 1345.8M1726.1 1345.8L1727.2 1341.8M1727.2 1341.8L1728.4 1338.8M1728.4 1338.8L1729.6 1338M1729.6 1338L1730.7 1346M1730.7 1346L1731.9 1337.7M1731.9 1337.7L1733.1 1334.9M1733.1 1334.9L1734.3 1337.2M1734.3 1337.2L1735.5 1343.2M1735.5 1343.2L1736.7 1338.5M1736.7 1338.5L1737.8 1338.5M1737.8 1338.5L1739 1335M1739 1335L1740.2 1336.7M1740.2 1336.7L1741.4 1343.9M1741.4 1343.9L1742.6 1345.7M1742.6 1345.7L1743.8 1337.9M1743.8 1337.9L1745 1336.6M1745 1336.6L1746.2 1342.5M1746.2 1342.5L1747.3 1337.8M1747.3 1337.8L1748.5 1335.8M1748.5 1335.8L1749.7 1343.5M1749.7 1343.5L1750.9 1337.3M1750.9 1337.3L1752.1 1343.8M1752.1 1343.8L1753.3 1340.1M1753.3 1340.1L1754.5 1334.3M1754.5 1334.3L1755.7 1331.2M1755.7 1331.2L1756.9 1340.3M1756.9 1340.3L1758.1 1331.7M1758.1 1331.7L1759.4 1341.6M1759.4 1341.6L1760.6 1339.5M1760.6 1339.5L1761.8 1335.6M1761.8 1335.6L1763 1339.5M1763 1339.5L1764.2 1340.2M1764.2 1340.2L1765.4 1340M1765.4 1340L1766.6 1336.7M1766.6 1336.7L1767.8 1330.4M1767.8 1330.4L1769 1339M1769 1339L1770.3 1344.2M1770.3 1344.2L1771.5 1335.4M1771.5 1335.4L1772.7 1339.9M1772.7 1339.9L1773.9 1345.1M1773.9 1345.1L1775.1 1335.2M1775.1 1335.2L1776.3 1342.6M1776.3 1342.6L1777.5 1338.2M1777.5 1338.2L1778.7 1346.1M1778.7 1346.1L1779.9 1344.6M1779.9 1344.6L1781.2 1340.3M1781.2 1340.3L1782.4 1338.2M1782.4 1338.2L1783.6 1339.8M1783.6 1339.8L1784.8 1341.8M1784.8 1341.8L1786 1344.8M1786 1344.8L1787.2 1346.7M1787.2 1346.7L1788.4 1339M1788.4 1339L1789.6 1341.2M1789.6 1341.2L1790.8 1343M1790.8 1343L1792 1338.6M1792 1338.6L1793.3 1341.1M1793.3 1341.1L1794.5 1343.1M1794.5 1343.1L1795.7 1342.4M1795.7 1342.4L1796.9 1343.9M1796.9 1343.9L1798.1 1345.6M1798.1 1345.6L1799.3 1345.6M1799.3 1345.6L1800.5 1341M1800.5 1341L1801.7 1340.6M1801.7 1340.6L1802.9 1339.1M1802.9 1339.1L1804.2 1341M1804.2 1341L1805.4 1346.5M1805.4 1346.5L1806.6 1346.8M1806.6 1346.8L1807.8 1345.1M1807.8 1345.1L1809 1344.4M1809 1344.4L1810.2 1347.9M1810.2 1347.9L1811.4 1345.7M1811.4 1345.7L1812.6 1340.4M1812.6 1340.4L1813.8 1341.8M1813.8 1341.8L1815 1345M1815 1345L1816.2 1346.8M1816.2 1346.8L1817.4 1345.2M1817.4 1345.2L1818.6 1341.9M1818.6 1341.9L1819.8 1340.7M1819.8 1340.7L1820.9 1342.3M1820.9 1342.3L1822.1 1338.1M1822.1 1338.1L1823.3 1346.7M1823.3 1346.7L1824.5 1341.3M1824.5 1341.3L1825.7 1342.7M1825.7 1342.7L1826.9 1343M1826.9 1343L1828.1 1338.6M1828.1 1338.6L1829.3 1338.4M1829.3 1338.4L1830.4 1341M1830.4 1341L1831.6 1336.2M1831.6 1336.2L1832.8 1336.7M1832.8 1336.7L1834 1344.9M1834 1344.9L1835.2 1345.3M1835.2 1345.3L1836.4 1337.6M1836.4 1337.6L1837.6 1340.8M1837.6 1340.8L1838.8 1339M1838.8 1339L1839.9 1340.4M1839.9 1340.4L1841.1 1346.9M1841.1 1346.9L1842.3 1337.4M1842.3 1337.4L1843.5 1340.2M1843.5 1340.2L1844.7 1335.1M1844.7 1335.1L1845.9 1338.9M1845.9 1338.9L1847.1 1344M1847.1 1344L1848.2 1333.9M1848.2 1333.9L1849.4 1343.1M1849.4 1343.1L1850.6 1338.3M1850.6 1338.3L1851.8 1340.8M1851.8 1340.8L1853 1342.2M1853 1342.2L1854.2 1336.5M1854.2 1336.5L1855.4 1333.4M1855.4 1333.4L1856.5 1344.2M1856.5 1344.2L1857.7 1340.7M1857.7 1340.7L1858.9 1339.6M1858.9 1339.6L1860.1 1336.5M1860.1 1336.5L1861.2 1334.3M1861.2 1334.3L1862.4 1328.9M1862.4 1328.9L1863.6 1335.6M1863.6 1335.6L1864.8 1337.7M1864.8 1337.7L1865.9 1334.2M1865.9 1334.2L1867.1 1333.7M1867.1 1333.7L1868.3 1334.6M1868.3 1334.6L1869.5 1327.8M1869.5 1327.8L1870.8 1325.2M1870.8 1325.2L1872 1331.1M1872 1331.1L1873.2 1324.7M1873.2 1324.7L1874.4 1336.5M1874.4 1336.5L1875.6 1337.3M1875.6 1337.3L1876.8 1328M1876.8 1328L1878 1331.2M1878 1331.2L1879.2 1323.1M1879.2 1323.1L1880.4 1335.4M1880.4 1335.4L1881.5 1322.8M1881.5 1322.8L1882.6 1335.4M1882.6 1335.4L1883.8 1333.8M1883.8 1333.8L1884.9 1334.6M1884.9 1334.6L1886 1327.6M1886 1327.6L1887.2 1334.1M1887.2 1334.1L1888.3 1332.1M1888.3 1332.1L1889.5 1320.3M1889.5 1320.3L1890.8 1328.8M1890.8 1328.8L1892 1328.4M1892 1328.4L1893.2 1322.4M1893.2 1322.4L1894.5 1321.9M1894.5 1321.9L1895.7 1324.5M1895.7 1324.5L1896.9 1324.4M1896.9 1324.4L1898.2 1330.1M1898.2 1330.1L1899.4 1327.9M1899.4 1327.9L1900.6 1329M1900.6 1329L1901.8 1328.8M1901.8 1328.8L1903 1333.4M1903 1333.4L1904.2 1340.6M1904.2 1340.6L1905.4 1337.5M1905.4 1337.5L1906.6 1340M1906.6 1340L1907.8 1341.2M1907.8 1341.2L1909 1337M1909 1337L1910.2 1340.6M1910.2 1340.6L1911.4 1342.6M1911.4 1342.6L1912.7 1339.2M1912.7 1339.2L1913.9 1338M1913.9 1338L1915.1 1343.7M1915.1 1343.7L1916.3 1343.5M1916.3 1343.5L1917.6 1338.4M1917.6 1338.4L1918.8 1337.6M1918.8 1337.6L1920 1343.9M1920 1343.9L1921.2 1339.7M1921.2 1339.7L1922.3 1336.3M1922.3 1336.3L1923.5 1336.6M1923.5 1336.6L1924.7 1332.7M1924.7 1332.7L1925.8 1331.8M1925.8 1331.8L1927 1331.5M1927 1331.5L1930 1327M1930 1327L1933.5 1325.8M1933.5 1325.8L1937 1327M1937 1327L1941 1334M1941 1334L1946 1343M1946 1343L1947.3 1345.4M1947.3 1345.4L1948.7 1348M1948.7 1348L1950 1348.1M1950 1348.1L1951.2 1343.9M1951.2 1343.9L1952.4 1348.8M1952.4 1348.8L1953.6 1343.2M1953.6 1343.2L1954.8 1345M1954.8 1345L1956 1348.9M1956 1348.9L1957.1 1344.6M1957.1 1344.6L1958.3 1342.8M1958.3 1342.8L1959.5 1347.7M1959.5 1347.7L1960.7 1344.5M1960.7 1344.5L1961.9 1348.3M1961.9 1348.3L1963.1 1343.9M1963.1 1343.9L1964.3 1349.1M1964.3 1349.1L1965.5 1343.9M1965.5 1343.9L1966.7 1345.1M1966.7 1345.1L1967.9 1348.1M1967.9 1348.1L1969 1346.3M1969 1346.3L1970.2 1346.4M1970.2 1346.4L1971.4 1345.1M1971.4 1345.1L1972.6 1346.7M1972.6 1346.7L1973.8 1344.6M1973.8 1344.6L1975 1347"/>
<path class="c" id="green" stroke="#00ff00" d="M200 1077.9L201.2 1076.8M201.2 1076.8L202.4 1076.7M202.4 1076.7L203.6 1078.2M203.6 1078.2L204.8 1078.5M204.8 1078.5L206.1 1078.2M206.1 1078.2L207.2 1078.6M207.2 1078.6L208.4 1078.2M208.4 1078.2L209.6 1079.4M209.6 1079.4L210.8 1078M210.8 1078L212 1077.4M212 1077.4L213.2 1077.7M213.2 1077.7L214.3 1077.3M214.3 1077.3L215.5 1077.5M215.5 1077.5L216.7 1078.5M216.7 1078.5L217.9 1078.2M217.9 1078.2L219.1 1077M219.1 1077L220.3 1077.8M220.3 1077.8L221.4 1076.9M221.4 1076.9L222.6 1076.9M222.6 1076.9L223.8 1077.7M223.8 1077.7L225 1077M225 1077L226.2 1077.6M226.2 1077.6L227.3 1079.9M227.3 1079.9L228.5 1079.7M228.5 1079.7L229.7 1077.7M229.7 1077.7L230.9 1079.1M230.9 1079.1L232.1 1079.8M232.1 1079.8L233.3 1079.9M233.3 1079.9L234.4 1080.2M234.4 1080.2L235.6 1077.8M235.6 1077.8L236.8 1078.3M236.8 1078.3L238 1077.6M238 1077.6L239.2 1079.9M239.2 1079.9L240.4 1079.8M240.4 1079.8L241.6 1080.8M241.6 1080.8L242.7 1077.8M242.7 1077.8L243.9 1080.6M243.9 1080.6L245.1 1080.1M245.1 1080.1L246.3 1078.5M246.3 1078.5L247.5 1080.1M247.5 1080.1L248.7 1078.5M248.7 1078.5L249.9 1076.8M249.9 1076.8L251 1078.7M251 1078.7L252.2 1077.3M252.2 1077.3L253.4 1078.3M253.4 1078.3L254.6 1078.1M254.6 1078.1L255.8 1077.5M255.8 1077.5L257 1077.4M257 1077.4L258.2 1079.6M258.2 1079.6L259.4 1077M259.4 1077L260.5 1078.4M260.5 1078.4L261.7 1080M261.7 1080L262.9 1078M262.9 1078L264.1 1079.7M264.1 1079.7L265.3 1078.8M265.3 1078.8L266.5 1079.8M266.5 1079.8L267.7 1077.8M267.7 1077.8L268.9 1078.8M268.9 1078.8L270 1077.4M270 1077.4L271.2 1079.6M271.2 1079.6L272.4 1077.3M272.4 1077.3L273.6 1077.9M273.6 1077.9L274.8 1078.7M274.8 1078.7L276 1079.2M276 1079.2L277.2 1077.3M277.2 1077.3L278.4 1077.2M278.4 1077.2L279.5 1079.2M279.5 1079.2L280.7 1077.7M280.7 1077.7L281.9 1079.2M281.9 1079.2L283.1 1077.5M283.1 1077.5L284.3 1078.8M284.3 1078.8L285.5 1078.1M285.5 1078.1L286.7 1076.6M286.7 1076.6L287.8 1078.7M287.8 1078.7L289 1078M289 1078L290.2 1076.4M290.2 1076.4L291.4 1078.4M291.4 1078.4L292.6 1078.1M292.6 1078.1L293.8 1076.9M293.8 1076.9L295 1078.5M295 1078.5L296.2 1079M296.2 1079L297.3 1078.7M297.3 1078.7L298.5 1078.1M298.5 1078.1L299.7 1078.1M299.7 1078.1L300.9 1079.3M300.9 1079.3L302.1 1077.1M302.1 1077.1L303.3 1076.6M303.3 1076.6L304.5 1077.2M304.5 1077.2L305.7 1078.8M305.7 1078.8L306.8 1077.2M306.8 1077.2L308 1078.3M308 1078.3L309.2 1079M309.2 1079L310.4 1077.5M310.4 1077.5L311.6 1078.1M311.6 1078.1L312.8 1077M312.8 1077L314 1076.7M314 1076.7L315.2 1076.4M315.2 1076.4L316.3 1077.4M316.3 1077.4L317.5 1078.2M317.5 1078.2L318.7 1075.2M318.7 1075.2L319.9 1076.1M319.9 1076.1L321.1 1079.4M321.1 1079.4L322.3 1077.4M322.3 1077.4L323.5 1078.2M323.5 1078.2L324.7 1078.1M324.7 1078.1L325.8 1078.6M325.8 1078.6L327 1079.2M327 1079.2L328.2 1077M328.2 1077L329.4 1075M329.4 1075L330.6 1079M330.6 1079L331.8 1075.6M331.8 1075.6L333 1077.5M333 1077.5L334.1 1079.2M334.1 1079.2L335.3 1075.8M335.3 1075.8L336.5 1078.2M336.5 1078.2L337.7 1074.7M337.7 1074.7L338.9 1077.4M338.9 1077.4L340.1 1076.5M340.1 1076.5L341.3 1076M341.3 1076L342.5 1077.4M342.5 1077.4L343.6 1078.6M343.6 1078.6L344.8 1079.2M344.8 1079.2L346 1075.9M346 1075.9L347.2 1074.2M347.2 1074.2L348.4 1077.2M348.4 1077.2L349.6 1078.6M349.6 1078.6L350.8 1079.3M350.8 1079.3L352 1074.3M352 1074.3L353.1 1079.5M353.1 1079.5L354.3 1074.5M354.3 1074.5L355.5 1074.3M355.5 1074.3L356.7 1075.4M356.7 1075.4L357.9 1079.5M357.9 1079.5L359.1 1076.7M359.1 1076.7L360.3 1079.4M360.3 1079.4L361.5 1077.5M361.5 1077.5L362.6 1077.7M362.6 1077.7L363.8 1077.4M363.8 1077.4L365 1077.3M365 1077.3L366.2 1078.1M366.2 1078.1L367.4 1079.1M367.4 1079.1L368.6 1076.3M368.6 1076.3L369.8 1073.9M369.8 1073.9L371 1078.9M371 1078.9L372.1 1074.9M372.1 1074.9L373.3 1077.6M373.3 1077.6L374.5 1074M374.5 1074L375.7 1076M375.7 1076L376.9 1074.7M376.9 1074.7L378.1 1075M378.1 1075L379.3 1075.4M379.3 1075.4L380.4 1076.8M380.4 1076.8L381.6 1074.5M381.6 1074.5L382.8 1078.6M382.8 1078.6L384 1074.4M384 1074.4L385.2 1077.5M385.2 1077.5L386.4 1077.1M386.4 1077.1L387.6 1073.7M387.6 1073.7L388.8 1076.4M388.8 1076.4L389.9 1073.7M389.9 1073.7L391.1 1073.8M391.1 1073.8L392.3 1078M392.3 1078L393.5 1074.2M393.5 1074.2L394.7 1078.7M394.7 1078.7L395.9 1076.5M395.9 1076.5L397.1 1074.4M397.1 1074.4L398.3 1076.9M398.3 1076.9L399.4 1075.5M399.4 1075.5L400.6 1075.6M400.6 1075.6L401.8 1075.8M401.8 1075.8L403 1073.5M403 1073.5L404.2 1075.7M404.2 1075.7L405.4 1078.3M405.4 1078.3L406.6 1077.8M406.6 1077.8L407.8 1075.5M407.8 1075.5L408.9 1076.8M408.9 1076.8L410.1 1075M410.1 1075L411.3 1073.4M411.3 1073.4L412.5 1077.9M412.5 1077.9L413.7 1076.6M413.7 1076.6L414.9 1077.4M414.9 1077.4L416.1 1072.4M416.1 1072.4L417.2 1075M417.2 1075L418.4 1076.4M418.4 1076.4L419.6 1075.1M419.6 1075.1L420.8 1074.6M420.8 1074.6L422 1074.3M422 1074.3L423.2 1074.5M423.2 1074.5L424.4 1073M424.4 1073L425.6 1072.3M425.6 1072.3L426.7 1073.9M426.7 1073.9L427.9 1073.4M427.9 1073.4L429.1 1074.5M429.1 1074.5L430.3 1075.3M430.3 1075.3L431.5 1071.5M431.5 1071.5L432.7 1073.7M432.7 1073.7L433.9 1072.3M433.9 1072.3L435.1 1072.4M435.1 1072.4L436.2 1073.6M436.2 1073.6L437.4 1074.7M437.4 1074.7L438.6 1076.5M438.6 1076.5L439.8 1073.7M439.8 1073.7L441 1073.3M441 1073.3L442.2 1073.5M442.2 1073.5L443.4 1074.5M443.4 1074.5L444.6 1071.6M444.6 1071.6L445.8 1070.8M445.8 1070.8L447 1070.3M447 1070.3L448.2 1070.7M448.2 1070.7L449.4 1070.5M449.4 1070.5L450.7 1072.8M450.7 1072.8L451.9 1075.2M451.9 1075.2L453.1 1071.7M453.1 1071.7L454.3 1069.4M454.3 1069.4L455.5 1069.7M455.5 1069.7L456.7 1075M456.7 1075L457.9 1074M457.9 1074L459.1 1075.4M459.1 1075.4L460.3 1068.9M460.3 1068.9L461.6 1072.5M461.6 1072.5L462.8 1074.9M462.8 1074.9L464 1069.8M464 1069.8L465.2 1073.9M465.2 1073.9L466.4 1073.7M466.4 1073.7L467.6 1068.7M467.6 1068.7L468.8 1070.1M468.8 1070.1L470 1071.4M470 1071.4L471.2 1074M471.2 1074L472.5 1072M472.5 1072L473.6 1071.3M473.6 1071.3L474.8 1070.9M474.8 1070.9L476 1071.1M476 1071.1L477.2 1069.7M477.2 1069.7L478.4 1070.2M478.4 1070.2L479.6 1072.6M479.6 1072.6L480.8 1070.5M480.8 1070.5L481.9 1072.6M481.9 1072.6L483.1 1073.6M483.1 1073.6L484.3 1065.4M484.3 1065.4L485.5 1067.3M485.5 1067.3L486.7 1072.9M486.7 1072.9L487.9 1069.8M487.9 1069.8L489.1 1072.2M489.1 1072.2L490.3 1068.1M490.3 1068.1L491.4 1066.8M491.4 1066.8L492.6 1065.8M492.6 1065.8L493.8 1071.2M493.8 1071.2L495 1068.3M495 1068.3L496.2 1069.6M496.2 1069.6L497.3 1068.1M497.3 1068.1L498.5 1064.4M498.5 1064.4L499.7 1068.4M499.7 1068.4L500.9 1066.1M500.9 1066.1L502.1 1067.1M502.1 1067.1L503.2 1065M503.2 1065L504.4 1062.2M504.4 1062.2L505.6 1062M505.6 1062L506.8 1061.8M506.8 1061.8L507.9 1064M507.9 1064L509.1 1063M509.1 1063L510.3 1061.9M510.3 1061.9L511.5 1059.5M511.5 1059.5L512.7 1057.6M512.7 1057.6L513.9 1059.9M513.9 1059.9L515.1 1055.5M515.1 1055.5L516.3 1056.3M516.3 1056.3L517.4 1055.9M517.4 1055.9L518.6 1055.2M518.6 1055.2L519.8 1054.6M519.8 1054.6L521 1055.6M521 1055.6L522.2 1053.7M522.2 1053.7L522.2 1039.3M522.2 1039.3L526.2 1035.2M526.2 1035.2L526.2 1007M526.2 1007L529.3 1002.9M529.3 1002.9L529.3 956.5M529.3 956.5L532.7 948.4M532.7 948.4L532.7 900M532.7 900L533.2 894M533.2 894L536.9 887M536.9 887L536.9 872M536.9 872L537.5 868M537.5 868L541 885M541 885L544.5 906M544.5 906L548 863M548 863L548 856M548 856L551.5 853M551.5 853L551.5 836M551.5 836L555.3 832M555.3 832L555.3 819M555.3 819L559 810M559 810L559 768M559 768L562 757M562 757L562 672M562 672L563.4 669M563.4 669L563.4 657M563.4 657L566 648M566 648L566.1 632M566.1 632L568 680M568 680L568 798M568 798L569.8 802M569.8 802L572.3 819M572.3 819L573.1 920M573.1 920L577 948M577 948L577 996M577 996L580 999M580 999L580 1021M580 1021L586 1034M586 1034L587.2 1039.9M587.2 1039.9L588.4 1042.5M588.4 1042.5L589.6 1038.5M589.6 1038.5L590.8 1038.4M590.8 1038.4L592 1045M592 1045L593.2 1041.1M593.2 1041.1L594.4 1047.7M594.4 1047.7L595.6 1048.6M595.6 1048.6L596.8 1050.6M596.8 1050.6L598 1054.5M598 1054.5L599.1 1049.6M599.1 1049.6L600.3 1046.7M600.3 1046.7L601.4 1048.4M601.4 1048.4L602.5 1062.3M602.5 1062.3L603.7 1063.7M603.7 1063.7L604.9 1054M604.9 1054L606.1 1050.4M606.1 1050.4L607.3 1046.3M607.3 1046.3L608.5 1051.4M608.5 1051.4L609.8 1043.3M609.8 1043.3L611 1041.4M611 1041.4L612.2 1053M612.2 1053L613.4 1051M613.4 1051L614.6 1044.6M614.6 1044.6L615.9 1041.9M615.9 1041.9L617.1 1045M617.1 1045L617.1 1030.1M617.1 1030.1L621.3 1028.4M621.3 1028.4L621.3 1002M621.3 1002L622.9 1001.3M622.9 1001.3L624.3 1001.3M624.3 1001.3L627.8 1004.5M627.8 1004.5L627.8 1033.5M627.8 1033.5L630.8 1035.2M630.8 1035.2L630.8 1042M630.8 1042L632 1046.3M632 1046.3L633.2 1049.5M633.2 1049.5L634.3 1045.7M634.3 1045.7L635.5 1050.7M635.5 1050.7L636.7 1048.6M636.7 1048.6L637.9 1050.8M637.9 1050.8L639 1046.5M639 1046.5L640.2 1055.7M640.2 1055.7L641.4 1059.5M641.4 1059.5L642.6 1052.7M642.6 1052.7L643.7 1053.8M643.7 1053.8L644.9 1060.7M644.9 1060.7L646 1056M646 1056L647.1 1058.2M647.1 1058.2L648.3 1062.2M648.3 1062.2L649.4 1066.6M649.4 1066.6L650.6 1057.6M650.6 1057.6L651.7 1059.6M651.7 1059.6L652.8 1054.1M652.8 1054.1L654 1057.3M654 1057.3L655.1 1059.4M655.1 1059.4L656.2 1059.4M656.2 1059.4L657.4 1053.1M657.4 1053.1L658.6 1056.5M658.6 1056.5L659.9 1058.4M659.9 1058.4L661.1 1059.3M661.1 1059.3L662.4 1047.5M662.4 1047.5L663.6 1044.3M663.6 1044.3L664.9 1043.2M664.9 1043.2L666.1 1046.3M666.1 1046.3L667.3 1043.2M667.3 1043.2L668.6 1042.6M668.6 1042.6L668.6 1035.2M668.6 1035.2L672.5 1033.5M672.5 1033.5L672.5 1023.3M672.5 1023.3L675.4 1021.6M675.4 1021.6L675.4 1007.9M675.4 1007.9L677 1006.9M677 1006.9L678.9 1007.9M678.9 1007.9L682 1011.3M682 1011.3L682 1019.9M682 1019.9L685.7 1021.6M685.7 1021.6L685.7 1031.8M685.7 1031.8L689.5 1033.5M689.5 1033.5L689.5 1040.3M689.5 1040.3L690.7 1039.1M690.7 1039.1L692 1040.8M692 1040.8L693.2 1046.4M693.2 1046.4L694.5 1047.1M694.5 1047.1L695.7 1046.7M695.7 1046.7L696.9 1047.9M696.9 1047.9L698.2 1044.8M698.2 1044.8L699.4 1046.3M699.4 1046.3L700.7 1052.7M700.7 1052.7L701.9 1049.9M701.9 1049.9L703.1 1061.9M703.1 1061.9L704.4 1050.7M704.4 1050.7L705.6 1054.2M705.6 1054.2L706.8 1063.8M706.8 1063.8L708 1054M708 1054L709.2 1063.4M709.2 1063.4L710.4 1063.9M710.4 1063.9L711.6 1066.4M711.6 1066.4L712.8 1061.1M712.8 1061.1L714 1059.1M714 1059.1L715.2 1059.9M715.2 1059.9L716.4 1062.9M716.4 1062.9L717.6 1057.3M717.6 1057.3L718.8 1059.6M718.8 1059.6L720 1062.4M720 1062.4L721.2 1063.1M721.2 1063.1L722.4 1065M722.4 1065L723.7 1065.7M723.7 1065.7L724.9 1061.2M724.9 1061.2L726.1 1062.9M726.1 1062.9L727.3 1064.4M727.3 1064.4L728.5 1059M728.5 1059L729.8 1063.6M729.8 1063.6L731 1061.5M731 1061.5L732.2 1062.8M732.2 1062.8L733.4 1060.3M733.4 1060.3L734.6 1056.2M734.6 1056.2L735.8 1060.2M735.8 1060.2L737 1056.3M737 1056.3L738.2 1058.6M738.2 1058.6L739.5 1057.6M739.5 1057.6L740.7 1063.6M740.7 1063.6L741.9 1063.6M741.9 1063.6L743.1 1057.7M743.1 1057.7L744.3 1057M744.3 1057L745.5 1059.4M745.5 1059.4L746.7 1057.1M746.7 1057.1L747.9 1063M747.9 1063L749.1 1060.8M749.1 1060.8L750.3 1058.5M750.3 1058.5L751.5 1057.7M751.5 1057.7L752.7 1061.2M752.7 1061.2L753.9 1063.5M753.9 1063.5L755.1 1059.4M755.1 1059.4L756.3 1064.6M756.3 1064.6L757.5 1056.2M757.5 1056.2L758.8 1060.5M758.8 1060.5L760 1059.1M760 1059.1L761.2 1054.5M761.2 1054.5L762.5 1058.4M762.5 1058.4L763.7 1062.6M763.7 1062.6L764.9 1062.8M764.9 1062.8L766.2 1061.9M766.2 1061.9L767.4 1053.1M767.4 1053.1L768.6 1050.2M768.6 1050.2L769.9 1051.5M769.9 1051.5L771.1 1047.7M771.1 1047.7L772.3 1047.1M772.3 1047.1L773.5 1057.7M773.5 1057.7L774.8 1047.3M774.8 1047.3L776 1046.8M776 1046.8L777.2 1048.4M777.2 1048.4L778.4 1045.5M778.4 1045.5L779.7 1049.9M779.7 1049.9L780.9 1046.2M780.9 1046.2L780.9 1032.3M780.9 1032.3L784.3 1030.3M784.3 1030.3L784.3 1010.1M784.3 1010.1L787.9 1008.1M787.9 1008.1L787.9 973.7M787.9 973.7L792 971.7M792 971.7L792 961.6M792 961.6L795.4 959.6M795.4 959.6L795.4 941.5M795.4 941.5L799 939.4M799 939.4L799 911.2M799 911.2L803.1 909.2M803.1 909.2L803.1 880.9M803.1 880.9L806.7 878.9M806.7 878.9L806.7 866.8M806.7 866.8L810.1 864.8M810.1 864.8L811.9 860.7M811.9 860.7L813.8 862.7M813.8 862.7L813.8 895M813.8 895L816.8 901.1M816.8 901.1L816.8 951.5M816.8 951.5L820.8 953.6M820.8 953.6L820.8 989.9M820.8 989.9L823.9 991.9M823.9 991.9L823.9 1020.2M823.9 1020.2L827.9 1022.2M827.9 1022.2L827.9 1034.3M827.9 1034.3L831.9 1038.3M831.9 1038.3L833.2 1040.1M833.2 1040.1L834.4 1039.1M834.4 1039.1L835.6 1038.2M835.6 1038.2L836.8 1041.2M836.8 1041.2L838 1046.7M838 1046.7L839.2 1038.5M839.2 1038.5L840.4 1047.8M840.4 1047.8L841.6 1047.4M841.6 1047.4L842.8 1043.8M842.8 1043.8L844 1044M844 1044L845.2 1054.5M845.2 1054.5L846.4 1047M846.4 1047L847.6 1052M847.6 1052L848.8 1055.3M848.8 1055.3L850 1058.3M850 1058.3L851.2 1050.7M851.2 1050.7L852.4 1049.6M852.4 1049.6L853.6 1057.2M853.6 1057.2L854.9 1053M854.9 1053L856.1 1059.4M856.1 1059.4L857.3 1059.9M857.3 1059.9L858.5 1052.8M858.5 1052.8L859.7 1060.7M859.7 1060.7L860.9 1058.3M860.9 1058.3L862.2 1056.3M862.2 1056.3L863.4 1055.2M863.4 1055.2L864.7 1062.6M864.7 1062.6L866 1058.3M866 1058.3L867.2 1065.2M867.2 1065.2L868.5 1067.1M868.5 1067.1L869.7 1060.3M869.7 1060.3L871 1069M871 1069L872.2 1063M872.2 1063L873.4 1065.4M873.4 1065.4L874.5 1066.1M874.5 1066.1L875.7 1060.8M875.7 1060.8L876.9 1063.9M876.9 1063.9L878.1 1068.7M878.1 1068.7L879.2 1065.3M879.2 1065.3L880.4 1070.8M880.4 1070.8L881.6 1064.3M881.6 1064.3L882.8 1069.7M882.8 1069.7L883.9 1064.4M883.9 1064.4L885.1 1068.1M885.1 1068.1L886.3 1067.7M886.3 1067.7L887.5 1063.8M887.5 1063.8L888.7 1067.6M888.7 1067.6L889.8 1058M889.8 1058L891 1066.2M891 1066.2L892.2 1058.4M892.2 1058.4L893.4 1063.2M893.4 1063.2L894.6 1056M894.6 1056L895.8 1059.2M895.8 1059.2L896.9 1057.8M896.9 1057.8L896.9 1036.3M896.9 1036.3L900.6 1030.3M900.6 1030.3L900.6 961.6M900.6 961.6L905 947.5M905 947.5L905 780M905 780L905.3 760M905.3 760L908.7 722M908.7 722L912.3 760M912.3 760L912.3 780M912.3 780L912.3 901.1M912.3 901.1L915.7 933.4M915.7 933.4L915.7 1024.2M915.7 1024.2L918.7 1026.2M918.7 1026.2L918.7 1044.4M918.7 1044.4L922.8 1048.4M922.8 1048.4L922.8 1054.5M922.8 1054.5L923.9 1052.1M923.9 1052.1L925.1 1056.3M925.1 1056.3L926.2 1060.7M926.2 1060.7L927.4 1055.2M927.4 1055.2L928.5 1059.9M928.5 1059.9L929.7 1054M929.7 1054L930.8 1063.6M930.8 1063.6L932 1061.2M932 1061.2L933.1 1063.8M933.1 1063.8L934.3 1056.5M934.3 1056.5L935.4 1064.7M935.4 1064.7L936.6 1059.3M936.6 1059.3L937.8 1066.3M937.8 1066.3L939 1067.6M939 1067.6L940.2 1057.4M940.2 1057.4L941.4 1066.5M941.4 1066.5L942.6 1061.4M942.6 1061.4L943.8 1062.7M943.8 1062.7L945 1065M945 1065L946.2 1063.5M946.2 1063.5L947.4 1066.4M947.4 1066.4L948.6 1056.9M948.6 1056.9L949.8 1055.5M949.8 1055.5L951 1057.3M951 1057.3L952.2 1061.8M952.2 1061.8L953.4 1057.1M953.4 1057.1L954.6 1064.3M954.6 1064.3L955.8 1059.1M955.8 1059.1L957 1061.9M957 1061.9L958.2 1060.1M958.2 1060.1L959.4 1056.5M959.4 1056.5L960.6 1059M960.6 1059L961.8 1059.1M961.8 1059.1L963.1 1064.7M963.1 1064.7L964.3 1065.8M964.3 1065.8L965.5 1060.9M965.5 1060.9L966.8 1055.1M966.8 1055.1L968 1058.4M968 1058.4L969.3 1057.1M969.3 1057.1L970.5 1065.8M970.5 1065.8L971.8 1055.3M971.8 1055.3L973 1065M973 1065L974.2 1054M974.2 1054L975.5 1063M975.5 1063L976.7 1054.8M976.7 1054.8L978 1055.6M978 1055.6L979.2 1062.6M979.2 1062.6L980.4 1060.6M980.4 1060.6L981.6 1059.6M981.6 1059.6L982.8 1047.9M982.8 1047.9L984 1050.1M984 1050.1L985.2 1054.4M985.2 1054.4L986.4 1048.7M986.4 1048.7L987.6 1049.8M987.6 1049.8L988.8 1049M988.8 1049L988.8 1044.4M988.8 1044.4L992.2 1042.4M992.2 1042.4L992.2 1034.3M992.2 1034.3L995.8 1032.3M995.8 1032.3L995.8 1024.2M995.8 1024.2L999.9 1022.2M999.9 1022.2L999.9 1012.1M999.9 1012.1L1003.2 1010.7M1003.2 1010.7L1006.9 1012.1M1006.9 1012.1L1006.9 1022.2M1006.9 1022.2L1010.2 1024.2M1010.2 1024.2L1010.2 1036.3M1010.2 1036.3L1014.2 1038.3M1014.2 1038.3L1014.2 1042.4M1014.2 1042.4L1017.6 1044.4M1017.6 1044.4L1017.6 1048.4M1017.6 1048.4L1018.9 1052M1018.9 1052L1020.1 1048.7M1020.1 1048.7L1021.3 1048.6M1021.3 1048.6L1022.6 1052.1M1022.6 1052.1L1023.8 1049.3M1023.8 1049.3L1025 1059.4M1025 1059.4L1026.3 1054M1026.3 1054L1027.5 1061.3M1027.5 1061.3L1028.7 1063.7M1028.7 1063.7L1030 1064.5M1030 1064.5L1031.2 1061.1M1031.2 1061.1L1032.5 1062.1M1032.5 1062.1L1033.6 1068.3M1033.6 1068.3L1034.8 1057.4M1034.8 1057.4L1036 1067.3M1036 1067.3L1037.2 1061.2M1037.2 1061.2L1038.3 1065.7M1038.3 1065.7L1039.5 1061.5M1039.5 1061.5L1040.7 1061.4M1040.7 1061.4L1041.9 1062.2M1041.9 1062.2L1043 1065.5M1043 1065.5L1044.2 1067.1M1044.2 1067.1L1045.4 1063.6M1045.4 1063.6L1046.6 1063.3M1046.6 1063.3L1047.8 1066.6M1047.8 1066.6L1049 1070.2M1049 1070.2L1050.2 1064.1M1050.2 1064.1L1051.4 1066.1M1051.4 1066.1L1052.6 1067.8M1052.6 1067.8L1053.8 1063.8M1053.8 1063.8L1055.1 1059.6M1055.1 1059.6L1056.3 1062.9M1056.3 1062.9L1057.5 1065.1M1057.5 1065.1L1058.7 1055.3M1058.7 1055.3L1059.9 1061.3M1059.9 1061.3L1061 1058.7M1061 1058.7L1062.2 1061.5M1062.2 1061.5L1063.4 1059.8M1063.4 1059.8L1064.6 1049.9M1064.6 1049.9L1065.8 1052M1065.8 1052L1066.9 1051.5M1066.9 1051.5L1068.1 1054.4M1068.1 1054.4L1069.3 1056.2M1069.3 1056.2L1070.5 1052.6M1070.5 1052.6L1071.6 1047M1071.6 1047L1072.8 1050.8M1072.8 1050.8L1074 1053.9M1074 1053.9L1075.2 1048.6M1075.2 1048.6L1076.4 1047.4M1076.4 1047.4L1077.6 1052.4M1077.6 1052.4L1078.8 1056.6M1078.8 1056.6L1079.9 1054.8M1079.9 1054.8L1081.1 1056.9M1081.1 1056.9L1082.3 1046.8M1082.3 1046.8L1083.5 1046.2M1083.5 1046.2L1084.7 1042.6M1084.7 1042.6L1085.9 1055.6M1085.9 1055.6L1087.1 1057.1M1087.1 1057.1L1088.2 1047.2M1088.2 1047.2L1089.4 1052.3M1089.4 1052.3L1090.6 1048.7M1090.6 1048.7L1091.8 1045.5M1091.8 1045.5L1093 1039.3M1093 1039.3L1094.2 1048.3M1094.2 1048.3L1095.4 1048.5M1095.4 1048.5L1096.5 1051.7M1096.5 1051.7L1097.7 1047.8M1097.7 1047.8L1098.9 1050.4M1098.9 1050.4L1100.1 1049.4M1100.1 1049.4L1101.2 1049.5M1101.2 1049.5L1102.4 1057.9M1102.4 1057.9L1103.6 1055.8M1103.6 1055.8L1104.8 1049M1104.8 1049L1105.9 1047.7M1105.9 1047.7L1107.1 1044.6M1107.1 1044.6L1108.3 1054.5M1108.3 1054.5L1109.5 1055.8M1109.5 1055.8L1110.7 1052.4M1110.7 1052.4L1111.8 1051.5M1111.8 1051.5L1113 1049.1M1113 1049.1L1114.2 1055.5M1114.2 1055.5L1115.4 1055.8M1115.4 1055.8L1116.5 1054.1M1116.5 1054.1L1117.7 1059.8M1117.7 1059.8L1118.9 1057.9M1118.9 1057.9L1120.1 1055.6M1120.1 1055.6L1121.3 1061.2M1121.3 1061.2L1122.4 1058.3M1122.4 1058.3L1123.6 1060.6M1123.6 1060.6L1124.8 1052.7M1124.8 1052.7L1126 1059.5M1126 1059.5L1127.1 1049.2M1127.1 1049.2L1128.3 1050.9M1128.3 1050.9L1129.5 1058.6M1129.5 1058.6L1130.7 1048.7M1130.7 1048.7L1131.8 1058M1131.8 1058L1133 1059.6M1133 1059.6L1134.2 1046.4M1134.2 1046.4L1135.4 1052.6M1135.4 1052.6L1136.6 1057.4M1136.6 1057.4L1137.9 1058.8M1137.9 1058.8L1139.1 1045.5M1139.1 1045.5L1140.3 1053M1140.3 1053L1141.6 1055.5M1141.6 1055.5L1142.8 1045.7M1142.8 1045.7L1144.1 1054.8M1144.1 1054.8L1145.3 1056M1145.3 1056L1146.6 1045.5M1146.6 1045.5L1147.8 1052.8M1147.8 1052.8L1149 1043.6M1149 1043.6L1150.3 1048M1150.3 1048L1151.5 1055.9M1151.5 1055.9L1152.7 1055.1M1152.7 1055.1L1153.8 1059.2M1153.8 1059.2L1155 1058.6M1155 1058.6L1156.1 1050.5M1156.1 1050.5L1157.3 1055.7M1157.3 1055.7L1158.5 1050.9M1158.5 1050.9L1159.7 1056.3M1159.7 1056.3L1160.9 1053.5M1160.9 1053.5L1162 1055.9M1162 1055.9L1163.2 1058M1163.2 1058L1164.4 1053.8M1164.4 1053.8L1165.6 1044.8M1165.6 1044.8L1166.7 1042M1166.7 1042L1167.9 1041.7M1167.9 1041.7L1169.1 1040M1169.1 1040L1170.3 1040.7M1170.3 1040.7L1171.5 1049.9M1171.5 1049.9L1172.7 1040.2M1172.7 1040.2L1173.9 1049.7M1173.9 1049.7L1175.1 1053.3M1175.1 1053.3L1176.3 1052.1M1176.3 1052.1L1177.5 1052.3M1177.5 1052.3L1178.7 1054.2M1178.7 1054.2L1180 1044.4M1180 1044.4L1181.2 1042.9M1181.2 1042.9L1182.4 1043.3M1182.4 1043.3L1183.5 1047.3M1183.5 1047.3L1184.7 1044.7M1184.7 1044.7L1185.8 1043.5M1185.8 1043.5L1187 1040.3M1187 1040.3L1188.1 1048.4M1188.1 1048.4L1189.3 1032M1189.3 1032L1190.5 1044.3M1190.5 1044.3L1191.7 1038.3M1191.7 1038.3L1192.9 1042.5M1192.9 1042.5L1194.1 1035.9M1194.1 1035.9L1195.3 1026.8M1195.3 1026.8L1196.6 1026.4M1196.6 1026.4L1197.8 1032.4M1197.8 1032.4L1199 1025.7M1199 1025.7L1200.2 1020.7M1200.2 1020.7L1200.2 1010.1M1200.2 1010.1L1204.3 1008.1M1204.3 1008.1L1204.3 985.9M1204.3 985.9L1207.2 983.8M1207.2 983.8L1208.4 984.6M1208.4 984.6L1209.6 995.6M1209.6 995.6L1210.8 988.4M1210.8 988.4L1211.9 987.4M1211.9 987.4L1213.1 986.6M1213.1 986.6L1214.3 1000.2M1214.3 1000.2L1215.5 991.6M1215.5 991.6L1216.7 1014.8M1216.7 1014.8L1217.9 1016.9M1217.9 1016.9L1219.1 1011.5M1219.1 1011.5L1220.3 1004.9M1220.3 1004.9L1221.5 1007.7M1221.5 1007.7L1222.7 1001.6M1222.7 1001.6L1223.9 1009.4M1223.9 1009.4L1225.1 1019.5M1225.1 1019.5L1226.3 1025.5M1226.3 1025.5L1227.5 1025.3M1227.5 1025.3L1228.6 1028.4M1228.6 1028.4L1229.8 1012.1M1229.8 1012.1L1231 1019.9M1231 1019.9L1232.2 1024.6M1232.2 1024.6L1233.3 1025.9M1233.3 1025.9L1234.5 1034.5M1234.5 1034.5L1235.7 1027.5M1235.7 1027.5L1236.9 1035.4M1236.9 1035.4L1238.1 1049.1M1238.1 1049.1L1239.4 1043.4M1239.4 1043.4L1240.7 1039.9M1240.7 1039.9L1242 1039.9M1242 1039.9L1243.2 1047.6M1243.2 1047.6L1244.5 1043.9M1244.5 1043.9L1245.8 1039.8M1245.8 1039.8L1247.1 1047.5M1247.1 1047.5L1247.1 1004M1247.1 1004L1251.1 1002M1251.1 1002L1251.1 927.3M1251.1 927.3L1254.7 919.3M1254.7 919.3L1254.7 905.1M1254.7 905.1L1254.7 903.7M1254.7 903.7L1254.7 905.1M1254.7 905.1L1254.7 919.3M1254.7 919.3L1257.8 921.3M1257.8 921.3L1257.8 973.7M1257.8 973.7L1261.8 987.9M1261.8 987.9L1261.8 1036.3M1261.8 1036.3L1265 1040.3M1265 1040.3L1266.2 1042.6M1266.2 1042.6L1267.5 1044.4M1267.5 1044.4L1268.7 1045.8M1268.7 1045.8L1269.9 1039.5M1269.9 1039.5L1271.1 1053.3M1271.1 1053.3L1272.4 1044.3M1272.4 1044.3L1273.6 1050.2M1273.6 1050.2L1274.8 1044.3M1274.8 1044.3L1276 1054M1276 1054L1277.2 1050.9M1277.2 1050.9L1278.4 1056.3M1278.4 1056.3L1279.7 1049.9M1279.7 1049.9L1280.9 1055M1280.9 1055L1282.1 1051.8M1282.1 1051.8L1283.3 1057.5M1283.3 1057.5L1284.6 1053.3M1284.6 1053.3L1285.8 1053.2M1285.8 1053.2L1287.1 1051.7M1287.1 1051.7L1288.3 1045.7M1288.3 1045.7L1289.6 1040.2M1289.6 1040.2L1290.9 1042.5M1290.9 1042.5L1292.1 1043.3M1292.1 1043.3L1293.4 1039.8M1293.4 1039.8L1294.6 1043.2M1294.6 1043.2L1295.7 1032.7M1295.7 1032.7L1296.9 1030.6M1296.9 1030.6L1298.1 1033M1298.1 1033L1299.3 1033.8M1299.3 1033.8L1300.4 1040.7M1300.4 1040.7L1301.6 1036.4M1301.6 1036.4L1302.8 1029.1M1302.8 1029.1L1304 1032.8M1304 1032.8L1305.2 1035.2M1305.2 1035.2L1306.3 1033.5M1306.3 1033.5L1307.5 1035.1M1307.5 1035.1L1308.7 1025M1308.7 1025L1309.9 1032.3M1309.9 1032.3L1311.1 1033.1M1311.1 1033.1L1312.4 1027.2M1312.4 1027.2L1313.6 1038.7M1313.6 1038.7L1314.8 1020.2M1314.8 1020.2L1316 1033.3M1316 1033.3L1317.2 1030.9M1317.2 1030.9L1318.4 1029.8M1318.4 1029.8L1319.6 1031M1319.6 1031L1320.8 1026.7M1320.8 1026.7L1322 1029.4M1322 1029.4L1323.2 1027M1323.2 1027L1324.3 1024.3M1324.3 1024.3L1325.5 1006.7M1325.5 1006.7L1326.7 1018.3M1326.7 1018.3L1327.9 1002.9M1327.9 1002.9L1329.1 1007.8M1329.1 1007.8L1330.2 1003.1M1330.2 1003.1L1331.4 1000.6M1331.4 1000.6L1331.4 991.9M1331.4 991.9L1332.7 1004.7M1332.7 1004.7L1333.9 1003.8M1333.9 1003.8L1335.1 998.8M1335.1 998.8L1336.2 996.3M1336.2 996.3L1337.4 1005.4M1337.4 1005.4L1338.6 994.1M1338.6 994.1L1339.7 1004.5M1339.7 1004.5L1340.9 989.8M1340.9 989.8L1342.1 991.6M1342.1 991.6L1343.2 987M1343.2 987L1344.4 987.6M1344.4 987.6L1345.5 987.4M1345.5 987.4L1345.5 975.8M1345.5 975.8L1353.6 973.7M1353.6 973.7L1353.6 968.7M1353.6 968.7L1354.5 967.7M1354.5 967.7L1355.8 968.7M1355.8 968.7L1355.8 973.7M1355.8 973.7L1359.9 975.8M1359.9 975.8L1359.9 983.8M1359.9 983.8L1363.7 985.9M1363.7 985.9L1363.7 1008.1M1363.7 1008.1L1367.3 1010.1M1367.3 1010.1L1367.3 1024.2M1367.3 1024.2L1370.8 1026.2M1370.8 1026.2L1370.8 1038.3M1370.8 1038.3L1372 1041M1372 1041L1373.2 1040.1M1373.2 1040.1L1374.4 1044M1374.4 1044L1375.7 1040.4M1375.7 1040.4L1376.9 1043.9M1376.9 1043.9L1378.1 1039.8M1378.1 1039.8L1379.3 1051M1379.3 1051L1380.5 1047.2M1380.5 1047.2L1381.8 1043.1M1381.8 1043.1L1383 1052.2M1383 1052.2L1384.2 1055.9M1384.2 1055.9L1385.5 1053M1385.5 1053L1386.7 1050.6M1386.7 1050.6L1388 1056.7M1388 1056.7L1389.2 1054.8M1389.2 1054.8L1390.5 1053.6M1390.5 1053.6L1391.8 1055.3M1391.8 1055.3L1393 1059M1393 1059L1394.3 1056M1394.3 1056L1395.5 1058M1395.5 1058L1396.8 1058.1M1396.8 1058.1L1398 1050.8M1398 1050.8L1399.3 1055.5M1399.3 1055.5L1400.5 1054.7M1400.5 1054.7L1401.7 1054.7M1401.7 1054.7L1403 1048.4M1403 1048.4L1404.2 1054M1404.2 1054L1405.5 1058.4M1405.5 1058.4L1406.7 1060.4M1406.7 1060.4L1408 1054.3M1408 1054.3L1409.2 1058.7M1409.2 1058.7L1410.4 1051.9M1410.4 1051.9L1411.7 1046.1M1411.7 1046.1L1412.9 1048.7M1412.9 1048.7L1414.2 1056.5M1414.2 1056.5L1415.4 1052.3M1415.4 1052.3L1416.6 1047.9M1416.6 1047.9L1417.9 1054.2M1417.9 1054.2L1419.1 1049.4M1419.1 1049.4L1420.4 1053.8M1420.4 1053.8L1421.6 1050.4M1421.6 1050.4L1422.9 1060.3M1422.9 1060.3L1424.1 1050.2M1424.1 1050.2L1425.3 1053.1M1425.3 1053.1L1426.6 1054.8M1426.6 1054.8L1427.8 1058.2M1427.8 1058.2L1429 1051.5M1429 1051.5L1430.2 1052.7M1430.2 1052.7L1431.4 1056.4M1431.4 1056.4L1432.6 1051.7M1432.6 1051.7L1433.8 1054.4M1433.8 1054.4L1435.1 1053.1M1435.1 1053.1L1436.3 1052.2M1436.3 1052.2L1437.5 1050.2M1437.5 1050.2L1438.7 1051.4M1438.7 1051.4L1439.8 1055.1M1439.8 1055.1L1441 1055.2M1441 1055.2L1442.1 1051.2M1442.1 1051.2L1443.3 1046.6M1443.3 1046.6L1444.5 1050.7M1444.5 1050.7L1445.6 1047.9M1445.6 1047.9L1446.8 1054.6M1446.8 1054.6L1448 1046.9M1448 1046.9L1449.2 1043.6M1449.2 1043.6L1450.5 1052.2M1450.5 1052.2L1451.7 1040.1M1451.7 1040.1L1453 1040.4M1453 1040.4L1454.2 1050.1M1454.2 1050.1L1455.5 1038.6M1455.5 1038.6L1456.7 1036.1M1456.7 1036.1L1457.9 1043.2M1457.9 1043.2L1459.2 1036.9M1459.2 1036.9L1460.4 1039.8M1460.4 1039.8L1461.7 1034.5M1461.7 1034.5L1462.9 1047.9M1462.9 1047.9L1464.1 1033.3M1464.1 1033.3L1465.3 1040.4M1465.3 1040.4L1466.5 1043.1M1466.5 1043.1L1467.7 1041.1M1467.7 1041.1L1469 1028M1469 1028L1470.2 1034.5M1470.2 1034.5L1471.4 1033.1M1471.4 1033.1L1472.6 1041.8M1472.6 1041.8L1473.8 1039.7M1473.8 1039.7L1475 1040.7M1475 1040.7L1476.2 1028.6M1476.2 1028.6L1477.4 1036M1477.4 1036L1478.6 1031.9M1478.6 1031.9L1479.9 1025.9M1479.9 1025.9L1481.1 1038.2M1481.1 1038.2L1482.3 1020M1482.3 1020L1483.5 1033.8M1483.5 1033.8L1484.7 1021.6M1484.7 1021.6L1485.8 1023.3M1485.8 1023.3L1487 1018.5M1487 1018.5L1488.2 1018M1488.2 1018L1488.2 1008.1M1488.2 1008.1L1498.9 1006M1498.9 1006L1498.9 1000M1498.9 1000L1502.6 998M1502.6 998L1502.6 971.7M1502.6 971.7L1506.4 969.7M1506.4 969.7L1506.4 939.4M1506.4 939.4L1510 937.4M1510 937.4L1510 931.4M1510 931.4L1510 930.6M1510 930.6L1510 931.4M1510 931.4L1510 947.5M1510 947.5L1513.1 951.5M1513.1 951.5L1513.1 985.9M1513.1 985.9L1516.7 995.9M1516.7 995.9L1516.7 1014.1M1516.7 1014.1L1517.8 1013.6M1517.8 1013.6L1519 1013.5M1519 1013.5L1520.1 1019.8M1520.1 1019.8L1521.3 1020.1M1521.3 1020.1L1522.5 1022.9M1522.5 1022.9L1523.6 1018.2M1523.6 1018.2L1524.8 1026.2M1524.8 1026.2L1525.9 1018M1525.9 1018L1527.1 1027.4M1527.1 1027.4L1528.2 1030.4M1528.2 1030.4L1529.4 1024.3M1529.4 1024.3L1530.5 1029.4M1530.5 1029.4L1531.9 1036.3M1531.9 1036.3L1533 1033.8M1533 1033.8L1534.2 1043.5M1534.2 1043.5L1535.4 1036.1M1535.4 1036.1L1536.6 1039.4M1536.6 1039.4L1537.8 1041.7M1537.8 1041.7L1539 1041.7M1539 1041.7L1540.2 1049.2M1540.2 1049.2L1541.3 1038M1541.3 1038L1542.5 1039.7M1542.5 1039.7L1543.7 1045.9M1543.7 1045.9L1544.9 1043M1544.9 1043L1546.1 1043.1M1546.1 1043.1L1547.3 1045.5M1547.3 1045.5L1548.5 1051.3M1548.5 1051.3L1549.6 1046.4M1549.6 1046.4L1550.8 1050.1M1550.8 1050.1L1552 1049.6M1552 1049.6L1553.2 1055.2M1553.2 1055.2L1554.4 1055M1554.4 1055L1555.6 1054.5M1555.6 1054.5L1556.8 1059.4M1556.8 1059.4L1557.9 1054.9M1557.9 1054.9L1559.1 1057.4M1559.1 1057.4L1560.3 1046.1M1560.3 1046.1L1561.5 1059.2M1561.5 1059.2L1562.7 1059.4M1562.7 1059.4L1563.9 1045M1563.9 1045L1565.1 1056.1M1565.1 1056.1L1566.2 1055M1566.2 1055L1567.4 1045.2M1567.4 1045.2L1568.6 1050M1568.6 1050L1569.8 1046.3M1569.8 1046.3L1571 1048.6M1571 1048.6L1572.2 1049.6M1572.2 1049.6L1573.4 1058.8M1573.4 1058.8L1574.5 1052.2M1574.5 1052.2L1575.7 1060.7M1575.7 1060.7L1576.9 1059.4M1576.9 1059.4L1578.1 1055M1578.1 1055L1579.3 1050.4M1579.3 1050.4L1580.5 1057.7M1580.5 1057.7L1581.7 1046.1M1581.7 1046.1L1582.8 1054.9M1582.8 1054.9L1584 1051.2M1584 1051.2L1585.2 1055.8M1585.2 1055.8L1586.4 1053M1586.4 1053L1587.6 1056.1M1587.6 1056.1L1588.8 1054.6M1588.8 1054.6L1590 1055.9M1590 1055.9L1591.2 1056.3M1591.2 1056.3L1592.4 1056.2M1592.4 1056.2L1593.7 1048.4M1593.7 1048.4L1594.9 1052M1594.9 1052L1596.2 1051.5M1596.2 1051.5L1597.4 1047.8M1597.4 1047.8L1598.7 1042.6M1598.7 1042.6L1599.9 1040.4M1599.9 1040.4L1601.2 1041.3M1601.2 1041.3L1601.2 1019.5M1601.2 1019.5L1604 1017.1M1604 1017.1L1604 917.5M1604 917.5L1608 900.9M1608 900.9L1608 780M1608 780L1608 770M1608 770L1609.7 759M1609.7 759L1612 770M1612 770L1612 780M1612 780L1612 822.7M1612 822.7L1615 832.2M1615 832.2L1615 941.3M1615 941.3L1619.1 957.9M1619.1 957.9L1619.1 1024.2M1619.1 1024.2L1622.9 1026.6M1622.9 1026.6L1622.9 1033.7M1622.9 1033.7L1625.7 1036.1M1625.7 1036.1L1626.9 1035.3M1626.9 1035.3L1628 1042.6M1628 1042.6L1629.2 1035.3M1629.2 1035.3L1630.4 1045.2M1630.4 1045.2L1631.6 1043.6M1631.6 1043.6L1632.7 1040.2M1632.7 1040.2L1633.9 1043.4M1633.9 1043.4L1635.1 1052.7M1635.1 1052.7L1636.2 1045.9M1636.2 1045.9L1637.4 1049.9M1637.4 1049.9L1638.6 1050.8M1638.6 1050.8L1639.8 1054.9M1639.8 1054.9L1640.9 1056.4M1640.9 1056.4L1642.1 1044.4M1642.1 1044.4L1643.3 1043.7M1643.3 1043.7L1644.5 1057.7M1644.5 1057.7L1645.7 1051.3M1645.7 1051.3L1646.9 1057.3M1646.9 1057.3L1648.1 1048.1M1648.1 1048.1L1649.2 1056.1M1649.2 1056.1L1650.4 1053.6M1650.4 1053.6L1651.6 1056.9M1651.6 1056.9L1652.8 1053.2M1652.8 1053.2L1654 1053M1654 1053L1655.2 1056.5M1655.2 1056.5L1656.4 1047.4M1656.4 1047.4L1657.5 1057.3M1657.5 1057.3L1658.7 1049.1M1658.7 1049.1L1659.9 1044.8M1659.9 1044.8L1661.1 1049M1661.1 1049L1662.3 1056.6M1662.3 1056.6L1663.5 1047.2M1663.5 1047.2L1664.7 1054.3M1664.7 1054.3L1665.8 1053M1665.8 1053L1667 1045.2M1667 1045.2L1668.2 1051.4M1668.2 1051.4L1669.4 1059.5M1669.4 1059.5L1670.6 1045.6M1670.6 1045.6L1671.8 1046.7M1671.8 1046.7L1673 1051M1673 1051L1674.1 1051.5M1674.1 1051.5L1675.3 1055.9M1675.3 1055.9L1676.5 1052.6M1676.5 1052.6L1677.7 1054.9M1677.7 1054.9L1678.9 1048M1678.9 1048L1680.1 1053.1M1680.1 1053.1L1681.3 1047.8M1681.3 1047.8L1682.4 1049.5M1682.4 1049.5L1683.6 1055.3M1683.6 1055.3L1684.8 1047.3M1684.8 1047.3L1686 1055.3M1686 1055.3L1687.2 1054.1M1687.2 1054.1L1688.4 1059.9M1688.4 1059.9L1689.6 1054.7M1689.6 1054.7L1690.7 1060M1690.7 1060L1691.9 1047.1M1691.9 1047.1L1693.1 1054.3M1693.1 1054.3L1694.3 1057M1694.3 1057L1695.5 1059.7M1695.5 1059.7L1696.7 1050.7M1696.7 1050.7L1697.9 1059M1697.9 1059L1699 1046.6M1699 1046.6L1700.2 1056.7M1700.2 1056.7L1701.4 1052.8M1701.4 1052.8L1702.6 1056.4M1702.6 1056.4L1703.8 1051.2M1703.8 1051.2L1705 1047.3M1705 1047.3L1706.2 1057M1706.2 1057L1707.3 1044.1M1707.3 1044.1L1708.5 1051.9M1708.5 1051.9L1709.7 1055.2M1709.7 1055.2L1710.9 1050.1M1710.9 1050.1L1712.1 1049.2M1712.1 1049.2L1713.3 1048.9M1713.3 1048.9L1714.5 1044.2M1714.5 1044.2L1715.6 1045.5M1715.6 1045.5L1716.8 1048.7M1716.8 1048.7L1718 1046.4M1718 1046.4L1719.2 1045.6M1719.2 1045.6L1720.4 1056.9M1720.4 1056.9L1721.6 1046.9M1721.6 1046.9L1722.8 1053.3M1722.8 1053.3L1723.9 1050.8M1723.9 1050.8L1725.1 1048.8M1725.1 1048.8L1726.3 1051.3M1726.3 1051.3L1727.5 1049.5M1727.5 1049.5L1728.7 1049.6M1728.7 1049.6L1729.9 1055.2M1729.9 1055.2L1731.1 1052.9M1731.1 1052.9L1732.2 1047.4M1732.2 1047.4L1733.4 1052.9M1733.4 1052.9L1734.6 1045.8M1734.6 1045.8L1735.8 1042.9M1735.8 1042.9L1737 1052.2M1737 1052.2L1738.2 1047.1M1738.2 1047.1L1739.4 1049.7M1739.4 1049.7L1740.5 1042.7M1740.5 1042.7L1741.7 1051.2M1741.7 1051.2L1742.9 1055.9M1742.9 1055.9L1744.1 1051.9M1744.1 1051.9L1745.3 1047.2M1745.3 1047.2L1746.5 1055.7M1746.5 1055.7L1747.6 1050.4M1747.6 1050.4L1748.8 1044.8M1748.8 1044.8L1750 1050.6M1750 1050.6L1751.2 1055M1751.2 1055L1752.4 1047.4M1752.4 1047.4L1753.6 1046.3M1753.6 1046.3L1754.8 1045.5M1754.8 1045.5L1755.9 1043.7M1755.9 1043.7L1757.1 1048.9M1757.1 1048.9L1758.3 1047.8M1758.3 1047.8L1759.5 1044.2M1759.5 1044.2L1760.7 1053.1M1760.7 1053.1L1761.9 1050.1M1761.9 1050.1L1763.1 1046.8M1763.1 1046.8L1764.2 1049.1M1764.2 1049.1L1765.4 1056.1M1765.4 1056.1L1766.6 1052.8M1766.6 1052.8L1767.8 1053.3M1767.8 1053.3L1769 1053.9M1769 1053.9L1770.2 1055.2M1770.2 1055.2L1771.4 1053.7M1771.4 1053.7L1772.5 1047.7M1772.5 1047.7L1773.7 1052.6M1773.7 1052.6L1774.9 1050.6M1774.9 1050.6L1776.1 1048.4M1776.1 1048.4L1777.3 1048.2M1777.3 1048.2L1778.5 1053M1778.5 1053L1779.7 1055.1M1779.7 1055.1L1780.8 1053.5M1780.8 1053.5L1782 1054.1M1782 1054.1L1783.2 1049.8M1783.2 1049.8L1784.4 1052.5M1784.4 1052.5L1785.6 1056.1M1785.6 1056.1L1786.8 1056.2M1786.8 1056.2L1788 1054.2M1788 1054.2L1789.1 1050.5M1789.1 1050.5L1790.3 1049M1790.3 1049L1791.5 1058.2M1791.5 1058.2L1792.7 1049.8M1792.7 1049.8L1793.9 1049.1M1793.9 1049.1L1795.1 1057.5M1795.1 1057.5L1796.3 1060.3M1796.3 1060.3L1797.4 1054M1797.4 1054L1798.6 1059.7M1798.6 1059.7L1799.8 1053.1M1799.8 1053.1L1801 1049.9M1801 1049.9L1802.2 1060.7M1802.2 1060.7L1803.4 1056.6M1803.4 1056.6L1804.6 1057.5M1804.6 1057.5L1805.7 1052.5M1805.7 1052.5L1806.9 1049.9M1806.9 1049.9L1808.1 1053.8M1808.1 1053.8L1809.3 1057.2M1809.3 1057.2L1810.5 1062.2M1810.5 1062.2L1811.7 1051.8M1811.7 1051.8L1812.9 1058.6M1812.9 1058.6L1814 1062.1M1814 1062.1L1815.2 1050.1M1815.2 1050.1L1816.4 1058M1816.4 1058L1817.6 1053.5M1817.6 1053.5L1818.8 1053.6M1818.8 1053.6L1820 1060.9M1820 1060.9L1821.2 1059.7M1821.2 1059.7L1822.3 1058.7M1822.3 1058.7L1823.5 1057.9M1823.5 1057.9L1824.7 1053M1824.7 1053L1825.9 1049.9M1825.9 1049.9L1827.1 1058M1827.1 1058L1828.3 1059.9M1828.3 1059.9L1829.5 1059.1M1829.5 1059.1L1830.6 1059M1830.6 1059L1831.8 1047.1M1831.8 1047.1L1833 1055.3M1833 1055.3L1834.2 1050.2M1834.2 1050.2L1835.4 1052.9M1835.4 1052.9L1836.6 1049.1M1836.6 1049.1L1837.8 1047.4M1837.8 1047.4L1838.9 1045.8M1838.9 1045.8L1840.1 1048.8M1840.1 1048.8L1841.3 1046.7M1841.3 1046.7L1842.5 1046.9M1842.5 1046.9L1843.7 1055.5M1843.7 1055.5L1844.9 1049.7M1844.9 1049.7L1846.1 1047.6M1846.1 1047.6L1847.2 1055.3M1847.2 1055.3L1848.4 1045.2M1848.4 1045.2L1849.6 1051.2M1849.6 1051.2L1850.8 1049.9M1850.8 1049.9L1852 1043.3M1852 1043.3L1853.2 1047.7M1853.2 1047.7L1854.4 1044.9M1854.4 1044.9L1855.5 1052.4M1855.5 1052.4L1856.7 1052.2M1856.7 1052.2L1857.9 1051.6M1857.9 1051.6L1859.1 1051.4M1859.1 1051.4L1860.3 1043.4M1860.3 1043.4L1861.5 1048.6M1861.5 1048.6L1862.7 1048M1862.7 1048L1863.8 1043.1M1863.8 1043.1L1865 1047.1M1865 1047.1L1866.2 1046.6M1866.2 1046.6L1867.4 1046.5M1867.4 1046.5L1868.6 1042.7M1868.6 1042.7L1869.8 1039.8M1869.8 1039.8L1871 1039M1871 1039L1872.1 1043.1M1872.1 1043.1L1873.3 1046.6M1873.3 1046.6L1874.5 1043.1M1874.5 1043.1L1875.7 1036M1875.7 1036L1876.9 1042.3M1876.9 1042.3L1878.1 1037.8M1878.1 1037.8L1879.3 1041.8M1879.3 1041.8L1880.4 1044M1880.4 1044L1881.6 1043.6M1881.6 1043.6L1882.8 1046.1M1882.8 1046.1L1884 1048.2M1884 1048.2L1885.2 1045.4M1885.2 1045.4L1886.4 1050.8M1886.4 1050.8L1887.6 1043.4M1887.6 1043.4L1888.7 1040.9M1888.7 1040.9L1889.9 1049.2M1889.9 1049.2L1891.1 1041.9M1891.1 1041.9L1892.3 1050M1892.3 1050L1893.5 1043.4M1893.5 1043.4L1894.7 1051.7M1894.7 1051.7L1895.9 1053.3M1895.9 1053.3L1897 1051.9M1897 1051.9L1898.2 1046.2M1898.2 1046.2L1899.4 1055.3M1899.4 1055.3L1900.6 1052.1M1900.6 1052.1L1901.8 1055.5M1901.8 1055.5L1903 1045.5M1903 1045.5L1904.2 1053.7M1904.2 1053.7L1905.3 1045.8M1905.3 1045.8L1906.5 1045.9M1906.5 1045.9L1907.7 1047.6M1907.7 1047.6L1908.9 1056.8M1908.9 1056.8L1910.1 1048.1M1910.1 1048.1L1911.3 1054.5M1911.3 1054.5L1912.5 1059.5M1912.5 1059.5L1913.6 1046.1M1913.6 1046.1L1914.8 1053.6M1914.8 1053.6L1916 1051.5M1916 1051.5L1917.2 1051M1917.2 1051L1918.4 1045.8M1918.4 1045.8L1919.6 1051.1M1919.6 1051.1L1920.8 1043.4M1920.8 1043.4L1921.9 1047.5M1921.9 1047.5L1923.1 1045M1923.1 1045L1924.3 1041.7M1924.3 1041.7L1925.5 1045.9M1925.5 1045.9L1926.7 1046M1926.7 1046L1927.9 1045.2M1927.9 1045.2L1929.1 1047.3M1929.1 1047.3L1930.2 1049.2M1930.2 1049.2L1931.4 1037.2M1931.4 1037.2L1932.6 1040.1M1932.6 1040.1L1933.8 1043.6M1933.8 1043.6L1935 1052.4M1935 1052.4L1936.2 1049.3M1936.2 1049.3L1937.4 1050.4M1937.4 1050.4L1938.5 1045.8M1938.5 1045.8L1939.7 1052.4M1939.7 1052.4L1940.9 1046M1940.9 1046L1942.1 1062.2M1942.1 1062.2L1943.3 1051.9M1943.3 1051.9L1944.5 1053.2M1944.5 1053.2L1945.7 1055.4M1945.7 1055.4L1946.8 1061.7M1946.8 1061.7L1948 1058.2M1948 1058.2L1949.2 1056.6M1949.2 1056.6L1950.4 1058.2M1950.4 1058.2L1951.6 1052.3M1951.6 1052.3L1952.8 1053M1952.8 1053L1954 1060.2M1954 1060.2L1955.1 1055M1955.1 1055L1956.3 1057.1M1956.3 1057.1L1957.5 1062.6M1957.5 1062.6L1958.7 1056M1958.7 1056L1960 1063M1960 1063L1961.2 1052.4M1961.2 1052.4L1962.5 1062.4M1962.5 1062.4L1963.8 1056.2M1963.8 1056.2L1965.1 1063.5M1965.1 1063.5L1966.3 1062.4M1966.3 1062.4L1967.6 1052.2M1967.6 1052.2L1968.9 1059M1968.9 1059L1970.2 1053.4M1970.2 1053.4L1971.5 1061.4M1971.5 1061.4L1972.7 1061M1972.7 1061L1974 1056.2M1974 1056.2L1975.3 1058"/>
<path class="c" id="red" stroke="#ff0000" d="M200 797.4L201.2 795.9M201.2 795.9L202.4 796.8M202.4 796.8L203.6 795.4M203.6 795.4L204.8 797.7M204.8 797.7L206.1 795.5M206.1 795.5L207.2 794.4M207.2 794.4L208.4 795.4M208.4 795.4L209.6 795.7M209.6 795.7L210.8 795.5M210.8 795.5L212 799.5M212 799.5L213.2 795.1M213.2 795.1L214.3 794.4M214.3 794.4L215.5 798.7M215.5 798.7L216.7 795.8M216.7 795.8L217.9 796.5M217.9 796.5L219.1 798.8M219.1 798.8L220.3 800.7M220.3 800.7L221.4 800.5M221.4 800.5L222.6 792.5M222.6 792.5L223.8 797.6M223.8 797.6L225 800.4M225 800.4L226.2 798.8M226.2 798.8L227.3 799.1M227.3 799.1L228.5 797.5M228.5 797.5L229.7 797.1M229.7 797.1L230.9 797.8M230.9 797.8L232.1 794.9M232.1 794.9L233.3 793.4M233.3 793.4L234.4 794.7M234.4 794.7L235.6 796.8M235.6 796.8L236.8 797.8M236.8 797.8L238 793.4M238 793.4L239.2 795.4M239.2 795.4L240.4 793.1M240.4 793.1L241.6 799.8M241.6 799.8L242.7 798.4M242.7 798.4L243.9 792.2M243.9 792.2L245.1 795.5M245.1 795.5L246.3 792.1M246.3 792.1L247.5 796.4M247.5 796.4L248.7 799.2M248.7 799.2L249.9 794.7M249.9 794.7L251 799.1M251 799.1L252.2 798.1M252.2 798.1L253.4 796.4M253.4 796.4L254.6 794.4M254.6 794.4L255.8 797.4M255.8 797.4L257 799.4M257 799.4L258.2 793.5M258.2 793.5L259.4 792.6M259.4 792.6L260.5 797.5M260.5 797.5L261.7 798.7M261.7 798.7L262.9 796.4M262.9 796.4L264.1 797.1M264.1 797.1L265.3 798.6M265.3 798.6L266.5 791.5M266.5 791.5L267.7 797.5M267.7 797.5L268.9 797.8M268.9 797.8L270 796.4M270 796.4L271.2 794.8M271.2 794.8L272.4 791.8M272.4 791.8L273.6 797.5M273.6 797.5L274.8 794.9M274.8 794.9L276 795.6M276 795.6L277.2 797.4M277.2 797.4L278.4 796M278.4 796L279.5 793.2M279.5 793.2L280.7 792.8M280.7 792.8L281.9 796.3M281.9 796.3L283.1 793.6M283.1 793.6L284.3 795.4M284.3 795.4L285.5 791.6M285.5 791.6L286.7 795M286.7 795L287.8 793.6M287.8 793.6L289 792.3M289 792.3L290.2 793.6M290.2 793.6L291.4 794.4M291.4 794.4L292.6 792.2M292.6 792.2L293.8 791.2M293.8 791.2L295 791M295 791L296.2 790.3M296.2 790.3L297.3 793.5M297.3 793.5L298.5 790.6M298.5 790.6L299.7 794.8M299.7 794.8L300.9 790.2M300.9 790.2L302.1 794.6M302.1 794.6L303.3 793M303.3 793L304.5 795.7M304.5 795.7L305.7 794.7M305.7 794.7L306.8 791.3M306.8 791.3L308 791.3M308 791.3L309.2 793.4M309.2 793.4L310.4 792.2M310.4 792.2L311.6 789.3M311.6 789.3L312.8 794.7M312.8 794.7L314 788.2M314 788.2L315.2 789.6M315.2 789.6L316.3 793.4M316.3 793.4L317.5 788.4M317.5 788.4L318.7 788.5M318.7 788.5L319.9 795.2M319.9 795.2L321.1 792.3M321.1 792.3L322.3 791.3M322.3 791.3L323.5 790.4M323.5 790.4L324.7 796.2M324.7 796.2L325.8 791.9M325.8 791.9L327 788.3M327 788.3L328.2 790.8M328.2 790.8L329.4 792M329.4 792L330.6 791.9M330.6 791.9L331.8 788.6M331.8 788.6L333 791.1M333 791.1L334.1 796.3M334.1 796.3L335.3 791.9M335.3 791.9L336.5 791.1M336.5 791.1L337.7 794.8M337.7 794.8L338.9 789.2M338.9 789.2L340.1 790M340.1 790L341.3 788.4M341.3 788.4L342.5 791.6M342.5 791.6L343.6 790.8M343.6 790.8L344.8 785.8M344.8 785.8L346 793.3M346 793.3L347.2 790.9M347.2 790.9L348.4 787.8M348.4 787.8L349.6 787.8M349.6 787.8L350.8 788.3M350.8 788.3L352 794.1M352 794.1L353.1 793.5M353.1 793.5L354.3 786.7M354.3 786.7L355.5 785.3M355.5 785.3L356.7 789.2M356.7 789.2L357.9 788.3M357.9 788.3L359.1 789M359.1 789L360.3 784.3M360.3 784.3L361.5 790.7M361.5 790.7L362.6 791.8M362.6 791.8L363.8 783.2M363.8 783.2L365 784.6M365 784.6L366.2 785M366.2 785L367.4 783.5M367.4 783.5L368.6 789.1M368.6 789.1L369.8 784M369.8 784L371 781.3M371 781.3L372.1 790.2M372.1 790.2L373.3 783.7M373.3 783.7L374.5 785.2M374.5 785.2L375.7 780.3M375.7 780.3L376.9 789.5M376.9 789.5L378.1 789.1M378.1 789.1L379.3 787.3M379.3 787.3L380.4 780.6M380.4 780.6L381.6 786.4M381.6 786.4L382.8 790.1M382.8 790.1L384 788.7M384 788.7L385.2 783.5M385.2 783.5L386.4 777.8M386.4 777.8L387.6 781.7M387.6 781.7L388.8 787.9M388.8 787.9L389.9 779.2M389.9 779.2L391.1 787.8M391.1 787.8L392.3 785.1M392.3 785.1L393.5 787.4M393.5 787.4L394.7 777.6M394.7 777.6L395.9 786.7M395.9 786.7L397.1 779.5M397.1 779.5L398.3 779M398.3 779L399.4 778.6M399.4 778.6L400.6 782.6M400.6 782.6L401.8 780.5M401.8 780.5L403 775.7M403 775.7L404.2 777.5M404.2 777.5L405.4 782.7M405.4 782.7L406.6 782.2M406.6 782.2L407.8 779.6M407.8 779.6L408.9 781.5M408.9 781.5L410.1 776.9M410.1 776.9L411.3 778.7M411.3 778.7L412.5 778.3M412.5 778.3L413.7 777.1M413.7 777.1L414.9 774.6M414.9 774.6L416.1 772M416.1 772L417.2 773.5M417.2 773.5L418.4 777M418.4 777L419.6 781M419.6 781L420.8 774.7M420.8 774.7L422 772.6M422 772.6L423.2 775.8M423.2 775.8L424.4 772.7M424.4 772.7L425.6 772.4M425.6 772.4L426.7 769.9M426.7 769.9L427.9 770M427.9 770L429.1 772.9M429.1 772.9L430.3 772.6M430.3 772.6L431.5 778.5M431.5 778.5L432.7 775.1M432.7 775.1L433.9 770.7M433.9 770.7L435.1 772.6M435.1 772.6L436.2 776.7M436.2 776.7L437.4 778.1M437.4 778.1L438.6 777.6M438.6 777.6L439.8 766.2M439.8 766.2L441 779.5M441 779.5L442.2 774.3M442.2 774.3L443.4 771.7M443.4 771.7L444.6 777.2M444.6 777.2L445.7 767.7M445.7 767.7L446.9 768.5M446.9 768.5L448.1 772.1M448.1 772.1L449.3 761.5M449.3 761.5L450.5 772.1M450.5 772.1L451.7 764.3M451.7 764.3L452.9 767.9M452.9 767.9L454.1 760.8M454.1 760.8L455.2 768.4M455.2 768.4L456.4 764.4M456.4 764.4L457.6 769.1M457.6 769.1L458.8 764.1M458.8 764.1L460 762.2M460 762.2L461.2 757.4M461.2 757.4L462.4 766.7M462.4 766.7L463.6 765.1M463.6 765.1L464.9 756M464.9 756L466.1 769.2M466.1 769.2L467.4 764.8M467.4 764.8L468.7 751.4M468.7 751.4L469.9 753.1M469.9 753.1L471.2 760.3M471.2 760.3L472.5 763.9M472.5 763.9L473.6 758.3M473.6 758.3L474.8 756.2M474.8 756.2L476 765.5M476 765.5L477.2 745.7M477.2 745.7L478.4 749.5M478.4 749.5L479.6 758.1M479.6 758.1L480.8 759.4M480.8 759.4L481.9 754.3M481.9 754.3L483.1 759.5M483.1 759.5L484.3 759M484.3 759L485.5 766.4M485.5 766.4L486.7 761.4M486.7 761.4L487.9 750M487.9 750L489.1 758.7M489.1 758.7L490.3 754.3M490.3 754.3L491.4 749.9M491.4 749.9L492.6 748.7M492.6 748.7L493.8 745.2M493.8 745.2L495 764.2M495 764.2L496.2 746.9M496.2 746.9L497.3 760.6M497.3 760.6L498.5 764.7M498.5 764.7L499.7 744.8M499.7 744.8L500.9 749.1M500.9 749.1L502.1 753.2M502.1 753.2L503.2 749.8M503.2 749.8L504.4 747.8M504.4 747.8L505.6 755.8M505.6 755.8L506.8 750.2M506.8 750.2L508 739.2M508 739.2L509.3 758.4M509.3 758.4L510.5 741.7M510.5 741.7L511.8 744.3M511.8 744.3L513 749.4M513 749.4L514.3 734M514.3 734L515.5 734.9M515.5 734.9L522.2 732.8M522.2 732.8L522.2 724.8M522.2 724.8L526.2 722.7M526.2 722.7L526.2 714.7M526.2 714.7L529.3 712.7M529.3 712.7L529.3 674.3M529.3 674.3L533.7 672.3M533.7 672.3L533.7 640M533.7 640L533.7 672M533.7 672L533.7 580M533.7 580L535 570M535 570L537.2 560M537.2 560L537.2 520M537.2 520L537.5 515M537.5 515L541 575M541 575L544 634M544 634L547.5 560M547.5 560L551 490M551 490L554.5 550M554.5 550L558 614M558 614L561.6 600M561.6 600L562.6 484M562.6 484L565.6 459M565.6 459L565.6 262M565.6 262L567 259.6M567 259.6L568.7 262M568.7 262L568.7 388M568.7 388L572.6 400M572.6 400L572.8 590M572.8 590L576.6 609M576.6 609L576.6 665M576.6 665L580 669M580 669L580 692M580 692L583.7 696M583.7 696L583.7 711M583.7 711L585 715.9M585 715.9L586.4 712.7M586.4 712.7L587.7 729.5M587.7 729.5L589 729.4M589 729.4L590.1 720.1M590.1 720.1L591.3 725.6M591.3 725.6L592.4 719.9M592.4 719.9L593.6 728.2M593.6 728.2L594.7 720.5M594.7 720.5L595.9 726.7M595.9 726.7L597 717.9M597 717.9L598.2 737M598.2 737L599.4 726.3M599.4 726.3L600.6 731.9M600.6 731.9L601.8 717.5M601.8 717.5L603 726.7M603 726.7L604.5 719.9M604.5 719.9L606 711.8M606 711.8L606 704M606 704L613.7 696M613.7 696L617.1 691M617.1 691L617.1 645M617.1 645L621 641M621 641L621 555M621 555L624 551M624 551L624 525M624 525L625.9 557M625.9 557L627.8 566M627.8 566L628.3 660M628.3 660L630.8 662M630.8 662L630.8 699M630.8 699L638.8 701M638.8 701L638.8 716M638.8 716L640 720.2M640 720.2L641.3 713.8M641.3 713.8L642.5 724M642.5 724L643.8 718.1M643.8 718.1L645 734.6M645 734.6L646.2 741.2M646.2 741.2L647.5 728.6M647.5 728.6L648.8 744M648.8 744L650 744M650 744L651.2 734M651.2 734L652.5 729M652.5 729L653.8 727.9M653.8 727.9L655 744.4M655 744.4L656.1 723.3M656.1 723.3L657.3 723.9M657.3 723.9L658.4 727.1M658.4 727.1L659.6 736.8M659.6 736.8L660.7 738.2M660.7 738.2L661.9 737.4M661.9 737.4L663 735.4M663 735.4L664.3 735.9M664.3 735.9L665.6 727.7M665.6 727.7L666.9 722.7M666.9 722.7L668.2 726.2M668.2 726.2L668.2 716M668.2 716L672 714M672 714L672 704M672 704L675.4 702M675.4 702L675.4 694M675.4 694L679 692M679 692L679 684M679 684L682.1 682.2M682.1 682.2L682.1 699M682.1 699L685.7 701M685.7 701L685.7 720M685.7 720L686.9 727.1M686.9 727.1L688.1 720.1M688.1 720.1L689.4 739.4M689.4 739.4L690.6 727.5M690.6 727.5L691.8 742.3M691.8 742.3L693 742.6M693 742.6L694.2 731.4M694.2 731.4L695.5 749.2M695.5 749.2L696.7 750.4M696.7 750.4L697.9 730.6M697.9 730.6L699.1 746.6M699.1 746.6L700.4 747.9M700.4 747.9L701.6 733.9M701.6 733.9L702.8 730.7M702.8 730.7L704 741.8M704 741.8L705.3 737.1M705.3 737.1L706.5 732.2M706.5 732.2L707.7 745.1M707.7 745.1L709 740.8M709 740.8L710.2 748.9M710.2 748.9L711.4 746.9M711.4 746.9L712.6 738.3M712.6 738.3L713.9 755M713.9 755L715.1 754.4M715.1 754.4L716.3 751.2M716.3 751.2L717.5 740.4M717.5 740.4L718.8 733M718.8 733L720 756.1M720 756.1L721.2 755.1M721.2 755.1L722.4 740.2M722.4 740.2L723.6 737.1M723.6 737.1L724.8 738.8M724.8 738.8L726 742.2M726 742.2L727.1 732.6M727.1 732.6L728.3 754.1M728.3 754.1L729.5 733.3M729.5 733.3L730.7 755.8M730.7 755.8L731.9 739.9M731.9 739.9L733.1 755.3M733.1 755.3L734.3 751.2M734.3 751.2L735.5 757.1M735.5 757.1L736.7 736.7M736.7 736.7L737.9 750.2M737.9 750.2L739 748.4M739 748.4L740.2 753.1M740.2 753.1L741.4 735.4M741.4 735.4L742.6 739.1M742.6 739.1L743.8 756.3M743.8 756.3L745 732.5M745 732.5L746.2 733.2M746.2 733.2L747.5 732.1M747.5 732.1L748.8 737.1M748.8 737.1L750 752.8M750 752.8L751.2 754.4M751.2 754.4L752.5 748.9M752.5 748.9L753.8 749.6M753.8 749.6L755 756.6M755 756.6L756.2 739.9M756.2 739.9L757.5 743.4M757.5 743.4L758.8 758.5M758.8 758.5L760 752.6M760 752.6L761.2 744.2M761.2 744.2L762.4 740M762.4 740L763.6 732.5M763.6 732.5L764.8 757.7M764.8 757.7L766.1 743M766.1 743L767.3 745.1M767.3 745.1L768.5 757.8M768.5 757.8L769.7 746.2M769.7 746.2L770.9 740.2M770.9 740.2L772.1 748.2M772.1 748.2L773.3 732.2M773.3 732.2L774.5 737.7M774.5 737.7L775.7 738.4M775.7 738.4L776.8 730.5M776.8 730.5L778 742.2M778 742.2L779.2 727.5M779.2 727.5L780.4 729.4M780.4 729.4L781.6 724.2M781.6 724.2L782.7 722.2M782.7 722.2L783.9 729.9M783.9 729.9L783.9 713.6M783.9 713.6L787.9 711.5M787.9 711.5L787.9 689.3M787.9 689.3L792 687.3M792 687.3L792 667.1M792 667.1L796 665.1M796 665.1L796 644.9M796 644.9L803.3 640.9M803.3 640.9L803.3 592.9M803.3 592.9L803.4 591.7M803.4 591.7L806.4 616.7M806.4 616.7L809.6 633M809.6 633L812.5 616.7M812.5 616.7L814.7 599.5M814.7 599.5L815.9 598.5M815.9 598.5L816.8 599.5M816.8 599.5L816.8 669.2M816.8 669.2L820.8 681.3M820.8 681.3L820.8 711.5M820.8 711.5L824.3 713.6M824.3 713.6L824.3 725.7M824.3 725.7L827.9 727.7M827.9 727.7L827.9 731.7M827.9 731.7L829.1 735.3M829.1 735.3L830.3 739.8M830.3 739.8L831.5 732.6M831.5 732.6L832.7 730.6M832.7 730.6L833.9 740.5M833.9 740.5L835.1 732.9M835.1 732.9L836.3 740.3M836.3 740.3L837.5 741.6M837.5 741.6L838.7 738.9M838.7 738.9L839.9 751.3M839.9 751.3L841.2 736.1M841.2 736.1L842.4 748M842.4 748L843.6 748.1M843.6 748.1L844.8 739.6M844.8 739.6L846 742.6M846 742.6L847.2 740.6M847.2 740.6L848.4 739.3M848.4 739.3L849.6 757.2M849.6 757.2L850.8 741.2M850.8 741.2L852 755.5M852 755.5L853.2 750.3M853.2 750.3L854.5 752.2M854.5 752.2L855.7 753.6M855.7 753.6L856.9 757.3M856.9 757.3L858.1 757.4M858.1 757.4L859.3 761.6M859.3 761.6L860.5 747.9M860.5 747.9L861.7 761M861.7 761L862.9 760.5M862.9 760.5L864.1 751.3M864.1 751.3L865.3 765M865.3 765L866.6 759.1M866.6 759.1L867.8 752.3M867.8 752.3L869 762.9M869 762.9L870.2 759.2M870.2 759.2L871.5 763M871.5 763L872.8 768.3M872.8 768.3L874 754.7M874 754.7L875.3 762.4M875.3 762.4L876.5 760.6M876.5 760.6L877.8 753.4M877.8 753.4L879.1 757.8M879.1 757.8L880.2 770.3M880.2 770.3L881.4 754M881.4 754L882.6 757.6M882.6 757.6L883.8 753.7M883.8 753.7L885 766M885 766L886.1 767.8M886.1 767.8L887.3 756.8M887.3 756.8L888.5 763M888.5 763L889.6 754.2M889.6 754.2L890.8 751.7M890.8 751.7L892 748.3M892 748.3L893.1 755.8M893.1 755.8L894.3 748.6M894.3 748.6L894.3 733.7M894.3 733.7L897.9 731.7M897.9 731.7L897.9 721.6M897.9 721.6L901 717.6M901 717.6L901 598.5M901 598.5L903 596.5M903 596.5L903 578.3M903 578.3L905 576.3M905 576.3L905 540M905 540L905 400M905 400L907.9 392M907.9 392L908.5 382.7M908.5 382.7L908.5 392M908.5 392L908.6 540M908.6 540L908.6 556.1M908.6 556.1L910.7 560.2M910.7 560.2L910.7 590.5M910.7 590.5L912.3 592.5M912.3 592.5L912.3 697.4M912.3 697.4L915.7 701.5M915.7 701.5L915.7 739.8M915.7 739.8L918.7 741.8M918.7 741.8L918.7 749.9M918.7 749.9L922.8 751.9M922.8 751.9L922.8 755.9M922.8 755.9L923.9 757.3M923.9 757.3L925.1 755.9M925.1 755.9L926.3 755.3M926.3 755.3L927.5 757.9M927.5 757.9L928.7 766.5M928.7 766.5L929.8 757.7M929.8 757.7L931 757.2M931 757.2L932.2 762.5M932.2 762.5L933.4 761.8M933.4 761.8L934.6 764.7M934.6 764.7L935.8 765.3M935.8 765.3L937 760.8M937 760.8L938.2 767.6M938.2 767.6L939.5 770.8M939.5 770.8L940.7 768.8M940.7 768.8L941.9 761.5M941.9 761.5L943.1 758M943.1 758L944.4 761.4M944.4 761.4L945.6 761.7M945.6 761.7L946.8 766.2M946.8 766.2L948 762.3M948 762.3L949.3 765.9M949.3 765.9L950.5 757.6M950.5 757.6L951.7 765M951.7 765L952.9 761.7M952.9 761.7L954.1 768.5M954.1 768.5L955.4 764.3M955.4 764.3L956.6 768.4M956.6 768.4L957.8 759.4M957.8 759.4L959 766.6M959 766.6L960.2 757.9M960.2 757.9L961.4 765M961.4 765L962.6 759.6M962.6 759.6L963.8 766.9M963.8 766.9L965 768.7M965 768.7L966.3 762.1M966.3 762.1L967.5 766M967.5 766L968.7 765.3M968.7 765.3L969.9 766.2M969.9 766.2L971.1 762.3M971.1 762.3L972.3 762.8M972.3 762.8L973.5 759.6M973.5 759.6L974.7 757.6M974.7 757.6L975.9 767.1M975.9 767.1L977.2 761.7M977.2 761.7L978.4 762.8M978.4 762.8L979.6 760.8M979.6 760.8L980.8 765.6M980.8 765.6L982 765.7M982 765.7L983.1 770M983.1 770L984.3 758.8M984.3 758.8L985.5 768.1M985.5 768.1L986.6 765.8M986.6 765.8L987.8 760.5M987.8 760.5L988.9 762.5M988.9 762.5L990.1 754.9M990.1 754.9L991.2 753.2M991.2 753.2L992.4 759.4M992.4 759.4L993.5 754.9M993.5 754.9L994.7 751M994.7 751L995.8 748.7M995.8 748.7L995.8 741.8M995.8 741.8L999.9 739.8M999.9 739.8L999.9 729.7M999.9 729.7L1003.3 727.7M1003.3 727.7L1003.3 718.6M1003.3 718.6L1003.3 717.6M1003.3 717.6L1003.3 718.6M1003.3 718.6L1003.3 729.7M1003.3 729.7L1006.5 731.7M1006.5 731.7L1006.5 739.8M1006.5 739.8L1010.2 741.8M1010.2 741.8L1010.2 745.9M1010.2 745.9L1011.4 750.8M1011.4 750.8L1012.6 748.8M1012.6 748.8L1013.8 752.5M1013.8 752.5L1015 755.3M1015 755.3L1016.2 749.2M1016.2 749.2L1017.4 752.1M1017.4 752.1L1018.6 758.6M1018.6 758.6L1019.8 755.1M1019.8 755.1L1021 757.6M1021 757.6L1022.2 754.3M1022.2 754.3L1023.4 758.8M1023.4 758.8L1024.6 765.6M1024.6 765.6L1025.8 756.1M1025.8 756.1L1027 761.8M1027 761.8L1028.3 761.8M1028.3 761.8L1029.5 754.1M1029.5 754.1L1030.7 766.6M1030.7 766.6L1031.9 759.2M1031.9 759.2L1033.1 754.6M1033.1 754.6L1034.4 753M1034.4 753L1035.6 758.9M1035.6 758.9L1036.8 765.2M1036.8 765.2L1038 755.3M1038 755.3L1039.3 768.9M1039.3 768.9L1040.5 757.1M1040.5 757.1L1041.7 753.8M1041.7 753.8L1042.9 765.2M1042.9 765.2L1044.1 752.5M1044.1 752.5L1045.4 764.3M1045.4 764.3L1046.6 768.7M1046.6 768.7L1047.8 760.6M1047.8 760.6L1049 761.3M1049 761.3L1050.2 757.5M1050.2 757.5L1051.4 758.2M1051.4 758.2L1052.6 755.7M1052.6 755.7L1053.8 768.8M1053.8 768.8L1055.1 758.3M1055.1 758.3L1056.3 763.1M1056.3 763.1L1057.5 763.4M1057.5 763.4L1058.7 756.5M1058.7 756.5L1059.9 765.8M1059.9 765.8L1061.1 759M1061.1 759L1062.3 763.1M1062.3 763.1L1063.5 770.4M1063.5 770.4L1064.7 765.6M1064.7 765.6L1066 749.9M1066 749.9L1067.2 758M1067.2 758L1068.4 758.3M1068.4 758.3L1069.6 762.1M1069.6 762.1L1070.8 758.5M1070.8 758.5L1072 753M1072 753L1073.2 748.9M1073.2 748.9L1074.3 756.3M1074.3 756.3L1075.5 749.6M1075.5 749.6L1076.7 755.7M1076.7 755.7L1077.9 754.6M1077.9 754.6L1079 766.2M1079 766.2L1080.2 770.8M1080.2 770.8L1081.4 763.6M1081.4 763.6L1082.6 762.3M1082.6 762.3L1083.7 766.4M1083.7 766.4L1084.9 753.8M1084.9 753.8L1086.1 762.9M1086.1 762.9L1087.3 766.8M1087.3 766.8L1088.5 761.4M1088.5 761.4L1089.6 755.9M1089.6 755.9L1090.8 751.4M1090.8 751.4L1092 767.4M1092 767.4L1093.2 768.3M1093.2 768.3L1094.3 745.2M1094.3 745.2L1095.5 770.9M1095.5 770.9L1096.7 767.1M1096.7 767.1L1097.9 768.8M1097.9 768.8L1099.1 765.2M1099.1 765.2L1100.3 752.3M1100.3 752.3L1101.5 752.8M1101.5 752.8L1102.7 769.7M1102.7 769.7L1103.9 768.3M1103.9 768.3L1105.1 767.9M1105.1 767.9L1106.3 761.6M1106.3 761.6L1107.5 755.2M1107.5 755.2L1108.7 754.1M1108.7 754.1L1109.9 759.4M1109.9 759.4L1111.2 766.7M1111.2 766.7L1112.4 752.7M1112.4 752.7L1113.6 762.8M1113.6 762.8L1114.8 772.5M1114.8 772.5L1116 765.8M1116 765.8L1117.2 773.9M1117.2 773.9L1118.4 767.6M1118.4 767.6L1119.6 770.6M1119.6 770.6L1120.8 774.2M1120.8 774.2L1122.1 755.2M1122.1 755.2L1123.3 763.5M1123.3 763.5L1124.5 768.3M1124.5 768.3L1125.6 767.4M1125.6 767.4L1126.8 768.7M1126.8 768.7L1128 774.5M1128 774.5L1129.2 752.4M1129.2 752.4L1130.4 756.4M1130.4 756.4L1131.6 754.4M1131.6 754.4L1132.8 770.6M1132.8 770.6L1134 773.2M1134 773.2L1135.1 762.9M1135.1 762.9L1136.3 768.9M1136.3 768.9L1137.5 761.5M1137.5 761.5L1138.7 767.2M1138.7 767.2L1139.9 768.9M1139.9 768.9L1141.1 759.7M1141.1 759.7L1142.3 751.2M1142.3 751.2L1143.5 753M1143.5 753L1144.6 761.1M1144.6 761.1L1145.8 772.1M1145.8 772.1L1146.9 760.7M1146.9 760.7L1148.1 771.7M1148.1 771.7L1149.2 754.9M1149.2 754.9L1150.4 764M1150.4 764L1151.5 772.8M1151.5 772.8L1152.7 757.1M1152.7 757.1L1153.8 760.1M1153.8 760.1L1155 761.8M1155 761.8L1156.1 758.3M1156.1 758.3L1157.4 775.3M1157.4 775.3L1158.6 758.9M1158.6 758.9L1159.8 753M1159.8 753L1161 764.1M1161 764.1L1162.2 751.7M1162.2 751.7L1163.4 770.2M1163.4 770.2L1164.6 763.6M1164.6 763.6L1165.8 771.7M1165.8 771.7L1167 761.2M1167 761.2L1168.3 764.7M1168.3 764.7L1169.5 764.9M1169.5 764.9L1170.7 768.1M1170.7 768.1L1172 766M1172 766L1173.2 771.3M1173.2 771.3L1174.5 767.6M1174.5 767.6L1175.7 759.5M1175.7 759.5L1176.9 758.1M1176.9 758.1L1178.2 764.8M1178.2 764.8L1179.4 755.5M1179.4 755.5L1180.7 774.4M1180.7 774.4L1181.9 770.6M1181.9 770.6L1183.2 753.2M1183.2 753.2L1184.4 761.1M1184.4 761.1L1185.7 763.5M1185.7 763.5L1186.9 759.2M1186.9 759.2L1188.2 754.3M1188.2 754.3L1189.4 772.5M1189.4 772.5L1190.7 765.9M1190.7 765.9L1192 765.1M1192 765.1L1193.2 766.4M1193.2 766.4L1194.5 754M1194.5 754L1195.7 753.1M1195.7 753.1L1196.9 763.2M1196.9 763.2L1198.2 759.7M1198.2 759.7L1199.4 764M1199.4 764L1200.6 754.8M1200.6 754.8L1201.8 759M1201.8 759L1203.1 753.2M1203.1 753.2L1204.3 749.5M1204.3 749.5L1204.3 729.5M1204.3 729.5L1207.3 727.5M1207.3 727.5L1207.3 712.4M1207.3 712.4L1207.3 711.4M1207.3 711.4L1207.9 712.4M1207.9 712.4L1207.9 717.4M1207.9 717.4L1214 721.5M1214 721.5L1215.2 721.3M1215.2 721.3L1216.4 725.3M1216.4 725.3L1217.6 725.7M1217.6 725.7L1218.8 726.7M1218.8 726.7L1220 725.6M1220 725.6L1221.2 735.5M1221.2 735.5L1222.4 742.5M1222.4 742.5L1223.6 736.8M1223.6 736.8L1224.8 743.7M1224.8 743.7L1225.9 734.4M1225.9 734.4L1227.1 741.8M1227.1 741.8L1228.2 752.4M1228.2 752.4L1229.4 753M1229.4 753L1230.5 748.5M1230.5 748.5L1231.7 754.1M1231.7 754.1L1232.8 748.3M1232.8 748.3L1234.2 746.1M1234.2 746.1L1235.5 752.5M1235.5 752.5L1236.9 743.5M1236.9 743.5L1238.1 745.2M1238.1 745.2L1239.3 739.6M1239.3 739.6L1240.5 743.4M1240.5 743.4L1241.6 748.4M1241.6 748.4L1242.8 743.3M1242.8 743.3L1244 739.5M1244 739.5L1244 733.6M1244 733.6L1247.1 731.5M1247.1 731.5L1247.1 634.7M1247.1 634.7L1251.1 630.6M1251.1 630.6L1251.1 622.6M1251.1 622.6L1251.1 621.6M1251.1 621.6L1251.1 622.6M1251.1 622.6L1251.1 638.7M1251.1 638.7L1254.3 646.8M1254.3 646.8L1254.3 695.2M1254.3 695.2L1257.8 697.2M1257.8 697.2L1257.8 721.5M1257.8 721.5L1261.8 723.5M1261.8 723.5L1261.8 745.7M1261.8 745.7L1263 750M1263 750L1264.3 746.6M1264.3 746.6L1265.5 748.4M1265.5 748.4L1266.8 745M1266.8 745L1268 761.4M1268 761.4L1269.2 749.1M1269.2 749.1L1270.5 749.7M1270.5 749.7L1271.7 759.3M1271.7 759.3L1273 752.2M1273 752.2L1274.2 760M1274.2 760L1275.4 764.3M1275.4 764.3L1276.7 759.6M1276.7 759.6L1277.9 757M1277.9 757L1279.1 756.1M1279.1 756.1L1280.4 759.3M1280.4 759.3L1281.6 762.7M1281.6 762.7L1282.8 762.1M1282.8 762.1L1284.1 766.9M1284.1 766.9L1285.3 760.3M1285.3 760.3L1286.5 758.6M1286.5 758.6L1287.7 766.9M1287.7 766.9L1288.9 759.5M1288.9 759.5L1290.2 764.2M1290.2 764.2L1291.4 759.2M1291.4 759.2L1292.6 767M1292.6 767L1293.8 759.3M1293.8 759.3L1295 756.2M1295 756.2L1296.2 762.3M1296.2 762.3L1297.4 767.4M1297.4 767.4L1298.7 758.6M1298.7 758.6L1299.9 752.4M1299.9 752.4L1301.2 765.7M1301.2 765.7L1302.5 754.9M1302.5 754.9L1303.7 752.8M1303.7 752.8L1305 753.6M1305 753.6L1306.2 768.6M1306.2 768.6L1307.5 753.8M1307.5 753.8L1308.7 759.6M1308.7 759.6L1309.9 761.6M1309.9 761.6L1311 763.8M1311 763.8L1312.2 746.9M1312.2 746.9L1313.4 761.3M1313.4 761.3L1314.6 752.5M1314.6 752.5L1315.7 768.3M1315.7 768.3L1316.9 758.3M1316.9 758.3L1318.1 751.9M1318.1 751.9L1319.3 762.7M1319.3 762.7L1320.5 746.4M1320.5 746.4L1321.6 766.7M1321.6 766.7L1322.8 752.3M1322.8 752.3L1323.9 749.8M1323.9 749.8L1325 747.7M1325 747.7L1326.2 758.8M1326.2 758.8L1327.3 735.2M1327.3 735.2L1328.4 738.8M1328.4 738.8L1329.6 740.4M1329.6 740.4L1330.7 734.9M1330.7 734.9L1331.9 736.3M1331.9 736.3L1333.1 752.8M1333.1 752.8L1334.3 753.6M1334.3 753.6L1335.6 737.2M1335.6 737.2L1336.8 754.2M1336.8 754.2L1338 752.3M1338 752.3L1339.2 734.7M1339.2 734.7L1340.4 756.6M1340.4 756.6L1341.7 747.3M1341.7 747.3L1342.9 747M1342.9 747L1344.1 742.4M1344.1 742.4L1345.3 734.7M1345.3 734.7L1346.6 744.9M1346.6 744.9L1346.6 723.5M1346.6 723.5L1353 721.5M1353 721.5L1353 715.4M1353 715.4L1356.5 711.4M1356.5 711.4L1358.3 712.4M1358.3 712.4L1360.3 716.4M1360.3 716.4L1363.7 727.5M1363.7 727.5L1363.7 747.7M1363.7 747.7L1367.3 749.7M1367.3 749.7L1368.5 754.9M1368.5 754.9L1369.7 757.6M1369.7 757.6L1370.9 752M1370.9 752L1372.1 763.7M1372.1 763.7L1373.3 751.1M1373.3 751.1L1374.4 758.5M1374.4 758.5L1375.6 752.2M1375.6 752.2L1376.8 756M1376.8 756L1378 771M1378 771L1379.2 770.4M1379.2 770.4L1380.4 757.8M1380.4 757.8L1381.6 774M1381.6 774L1382.8 757.8M1382.8 757.8L1384 765.1M1384 765.1L1385.3 758.3M1385.3 758.3L1386.5 756.1M1386.5 756.1L1387.7 758.7M1387.7 758.7L1388.9 769.2M1388.9 769.2L1390.1 769.9M1390.1 769.9L1391.4 755.9M1391.4 755.9L1392.6 758.2M1392.6 758.2L1393.8 774.7M1393.8 774.7L1395 768.8M1395 768.8L1396.3 765.9M1396.3 765.9L1397.5 776.6M1397.5 776.6L1398.7 767.3M1398.7 767.3L1399.9 774.9M1399.9 774.9L1401.1 776.6M1401.1 776.6L1402.4 768M1402.4 768L1403.6 759M1403.6 759L1404.8 758.9M1404.8 758.9L1406 759.3M1406 759.3L1407.2 762.7M1407.2 762.7L1408.4 763.4M1408.4 763.4L1409.6 764.4M1409.6 764.4L1410.8 761.8M1410.8 761.8L1412 757.6M1412 757.6L1413.3 773.4M1413.3 773.4L1414.5 764.7M1414.5 764.7L1415.7 761.7M1415.7 761.7L1416.9 756.6M1416.9 756.6L1418.1 767.8M1418.1 767.8L1419.3 772.5M1419.3 772.5L1420.5 758.8M1420.5 758.8L1421.7 778.1M1421.7 778.1L1422.9 768.2M1422.9 768.2L1424.2 763.1M1424.2 763.1L1425.4 759.5M1425.4 759.5L1426.6 774.8M1426.6 774.8L1427.8 761.3M1427.8 761.3L1429 768.1M1429 768.1L1430.2 757.8M1430.2 757.8L1431.4 774.1M1431.4 774.1L1432.6 770.1M1432.6 770.1L1433.9 776M1433.9 776L1435.1 773.7M1435.1 773.7L1436.3 767.8M1436.3 767.8L1437.6 765.8M1437.6 765.8L1438.8 763.3M1438.8 763.3L1440 762.5M1440 762.5L1441.3 771.8M1441.3 771.8L1442.5 760.5M1442.5 760.5L1443.7 772.1M1443.7 772.1L1445 756.3M1445 756.3L1446.2 758.1M1446.2 758.1L1447.4 768M1447.4 768L1448.7 760.3M1448.7 760.3L1449.9 761.7M1449.9 761.7L1451.1 775.5M1451.1 775.5L1452.4 765.1M1452.4 765.1L1453.6 770M1453.6 770L1454.8 757.8M1454.8 757.8L1456.1 761.6M1456.1 761.6L1457.4 750.9M1457.4 750.9L1458.6 761.6M1458.6 761.6L1459.9 766M1459.9 766L1461.1 758.4M1461.1 758.4L1462.4 758.9M1462.4 758.9L1463.7 759.9M1463.7 759.9L1464.9 752.5M1464.9 752.5L1466.1 748.4M1466.1 748.4L1467.2 764.8M1467.2 764.8L1468.4 751.2M1468.4 751.2L1469.5 755.3M1469.5 755.3L1470.7 752.6M1470.7 752.6L1471.8 769.1M1471.8 769.1L1473 754.5M1473 754.5L1474.3 765.7M1474.3 765.7L1475.5 765.5M1475.5 765.5L1476.8 768.2M1476.8 768.2L1478 759.3M1478 759.3L1479.3 753.5M1479.3 753.5L1480.6 761.1M1480.6 761.1L1481.8 761.4M1481.8 761.4L1483.1 746.1M1483.1 746.1L1484.3 749.8M1484.3 749.8L1485.5 745.9M1485.5 745.9L1486.8 752M1486.8 752L1488 757.8M1488 757.8L1489.2 736.6M1489.2 736.6L1490.4 740M1490.4 740L1491.7 741.4M1491.7 741.4L1492.9 734M1492.9 734L1498.9 731.5M1498.9 731.5L1498.9 701.3M1498.9 701.3L1502.6 699.3M1502.6 699.3L1502.6 689.2M1502.6 689.2L1502.6 687.3M1502.6 687.3L1502.6 689.2M1502.6 689.2L1502.6 691.2M1502.6 691.2L1505.6 693.2M1505.6 693.2L1505.6 701.3M1505.6 701.3L1509.6 703.3M1509.6 703.3L1509.6 725.5M1509.6 725.5L1510.9 727.9M1510.9 727.9L1512.1 724.8M1512.1 724.8L1513.3 733.2M1513.3 733.2L1514.6 733.4M1514.6 733.4L1515.8 731.3M1515.8 731.3L1517 731.4M1517 731.4L1518.3 725.1M1518.3 725.1L1519.5 733M1519.5 733L1520.8 744M1520.8 744L1522 736M1522 736L1523.2 747.6M1523.2 747.6L1524.5 737.3M1524.5 737.3L1525.7 737M1525.7 737L1527 746.4M1527 746.4L1528.2 747.6M1528.2 747.6L1529.5 750.2M1529.5 750.2L1530.7 744.7M1530.7 744.7L1531.9 759M1531.9 759L1533 750.7M1533 750.7L1534.2 767.3M1534.2 767.3L1535.4 769.5M1535.4 769.5L1536.6 763.1M1536.6 763.1L1537.8 756.5M1537.8 756.5L1539 758.6M1539 758.6L1540.2 769.9M1540.2 769.9L1541.3 756.1M1541.3 756.1L1542.5 767.2M1542.5 767.2L1543.7 766.1M1543.7 766.1L1544.9 760M1544.9 760L1546.1 756.5M1546.1 756.5L1547.3 756.7M1547.3 756.7L1548.5 770.9M1548.5 770.9L1549.6 758.2M1549.6 758.2L1550.8 766M1550.8 766L1552 758.3M1552 758.3L1553.2 764.7M1553.2 764.7L1554.4 773.1M1554.4 773.1L1555.6 766.8M1555.6 766.8L1556.8 772M1556.8 772L1557.9 762.8M1557.9 762.8L1559.1 768.2M1559.1 768.2L1560.3 770.3M1560.3 770.3L1561.5 767.2M1561.5 767.2L1562.7 772.6M1562.7 772.6L1563.9 758.6M1563.9 758.6L1565.1 761.7M1565.1 761.7L1566.2 758.8M1566.2 758.8L1567.4 765.2M1567.4 765.2L1568.6 761.7M1568.6 761.7L1569.8 768.6M1569.8 768.6L1571 758.9M1571 758.9L1572.2 768.9M1572.2 768.9L1573.4 774.3M1573.4 774.3L1574.5 758.1M1574.5 758.1L1575.7 772.5M1575.7 772.5L1576.9 769.2M1576.9 769.2L1578.1 764.2M1578.1 764.2L1579.3 767.9M1579.3 767.9L1580.5 765.5M1580.5 765.5L1581.6 763.8M1581.6 763.8L1582.8 764.2M1582.8 764.2L1584 759M1584 759L1585.1 760.1M1585.1 760.1L1586.3 764.5M1586.3 764.5L1587.5 754M1587.5 754L1588.7 759.1M1588.7 759.1L1589.8 762.9M1589.8 762.9L1591 754.1M1591 754.1L1592.2 756.9M1592.2 756.9L1593.3 751.7M1593.3 751.7L1593.3 745.7M1593.3 745.7L1597.4 743.3M1597.4 743.3L1597.4 729.1M1597.4 729.1L1601.2 726.7M1601.2 726.7L1601.2 691.1M1601.2 691.1L1604 688.8M1604 688.8L1604 684.5M1604 684.5L1604.4 686.4M1604.4 686.4L1604.4 710.1M1604.4 710.1L1607.9 712.5M1607.9 712.5L1607.9 722M1607.9 722L1611.5 724.3M1611.5 724.3L1611.5 740.9M1611.5 740.9L1615 743.3M1615 743.3L1615 755.2M1615 755.2L1616.2 756.7M1616.2 756.7L1617.4 751.9M1617.4 751.9L1618.5 754.1M1618.5 754.1L1619.7 752.9M1619.7 752.9L1620.9 758.2M1620.9 758.2L1622 770.1M1622 770.1L1623.2 756.5M1623.2 756.5L1624.4 758.1M1624.4 758.1L1625.6 772.4M1625.6 772.4L1626.7 774.3M1626.7 774.3L1627.9 759.4M1627.9 759.4L1629.1 775.3M1629.1 775.3L1630.3 767.4M1630.3 767.4L1631.5 763.7M1631.5 763.7L1632.6 767.2M1632.6 767.2L1633.8 765.5M1633.8 765.5L1635 760.9M1635 760.9L1636.2 764.5M1636.2 764.5L1637.4 774.5M1637.4 774.5L1638.6 768.7M1638.6 768.7L1639.8 772.4M1639.8 772.4L1640.9 756.3M1640.9 756.3L1642.1 775.2M1642.1 775.2L1643.3 763.1M1643.3 763.1L1644.5 773.8M1644.5 773.8L1645.7 762.8M1645.7 762.8L1646.9 772.7M1646.9 772.7L1648.1 768.9M1648.1 768.9L1649.2 756.5M1649.2 756.5L1650.4 767.8M1650.4 767.8L1651.6 769.4M1651.6 769.4L1652.8 761.6M1652.8 761.6L1654 762.8M1654 762.8L1655.2 766.7M1655.2 766.7L1656.4 767.2M1656.4 767.2L1657.5 775.8M1657.5 775.8L1658.7 758M1658.7 758L1659.9 767.9M1659.9 767.9L1661.1 761.2M1661.1 761.2L1662.3 767.3M1662.3 767.3L1663.5 775.1M1663.5 775.1L1664.7 770.4M1664.7 770.4L1665.8 776.9M1665.8 776.9L1667 776.7M1667 776.7L1668.2 774.4M1668.2 774.4L1669.4 776M1669.4 776L1670.6 762.7M1670.6 762.7L1671.8 763.2M1671.8 763.2L1673 775.4M1673 775.4L1674.1 771.1M1674.1 771.1L1675.3 769.5M1675.3 769.5L1676.5 777.2M1676.5 777.2L1677.7 771.7M1677.7 771.7L1678.9 764.7M1678.9 764.7L1680.1 778.1M1680.1 778.1L1681.3 763.4M1681.3 763.4L1682.4 762.6M1682.4 762.6L1683.6 769.3M1683.6 769.3L1684.8 762.7M1684.8 762.7L1686 765.3M1686 765.3L1687.2 778.4M1687.2 778.4L1688.4 776.6M1688.4 776.6L1689.6 772.9M1689.6 772.9L1690.7 776.1M1690.7 776.1L1691.9 778.8M1691.9 778.8L1693.1 780.4M1693.1 780.4L1694.3 770.3M1694.3 770.3L1695.5 766.6M1695.5 766.6L1696.7 764.4M1696.7 764.4L1697.9 765.7M1697.9 765.7L1699 773.8M1699 773.8L1700.2 762.7M1700.2 762.7L1701.4 780.4M1701.4 780.4L1702.6 775.9M1702.6 775.9L1703.8 772M1703.8 772L1705 764.6M1705 764.6L1706.2 758.9M1706.2 758.9L1707.3 773.5M1707.3 773.5L1708.5 771.3M1708.5 771.3L1709.7 758.8M1709.7 758.8L1710.9 758.9M1710.9 758.9L1712.1 774.7M1712.1 774.7L1713.3 768.7M1713.3 768.7L1714.5 776.4M1714.5 776.4L1715.6 780.7M1715.6 780.7L1716.8 777.1M1716.8 777.1L1718 765.1M1718 765.1L1719.2 778M1719.2 778L1720.4 779.8M1720.4 779.8L1721.6 776.9M1721.6 776.9L1722.8 764.2M1722.8 764.2L1723.9 764.8M1723.9 764.8L1725.1 763.4M1725.1 763.4L1726.3 761.3M1726.3 761.3L1727.5 777.7M1727.5 777.7L1728.7 779.1M1728.7 779.1L1729.9 767.3M1729.9 767.3L1731.1 759.3M1731.1 759.3L1732.2 770.3M1732.2 770.3L1733.4 760.9M1733.4 760.9L1734.6 770.3M1734.6 770.3L1735.8 770.2M1735.8 770.2L1737 774.4M1737 774.4L1738.2 760.9M1738.2 760.9L1739.4 768.4M1739.4 768.4L1740.5 775.6M1740.5 775.6L1741.7 774.1M1741.7 774.1L1742.9 765.2M1742.9 765.2L1744.1 770.2M1744.1 770.2L1745.3 769.8M1745.3 769.8L1746.5 771.1M1746.5 771.1L1747.6 777.3M1747.6 777.3L1748.8 773.2M1748.8 773.2L1750 761.3M1750 761.3L1751.2 766.9M1751.2 766.9L1752.4 775M1752.4 775L1753.6 777M1753.6 777L1754.8 761.9M1754.8 761.9L1755.9 779.3M1755.9 779.3L1757.1 763.6M1757.1 763.6L1758.3 771M1758.3 771L1759.5 776.5M1759.5 776.5L1760.7 770.5M1760.7 770.5L1761.9 776.8M1761.9 776.8L1763.1 762.2M1763.1 762.2L1764.2 776.2M1764.2 776.2L1765.4 765.8M1765.4 765.8L1766.6 767.3M1766.6 767.3L1767.8 772.1M1767.8 772.1L1769 774.3M1769 774.3L1770.2 779.9M1770.2 779.9L1771.4 768.1M1771.4 768.1L1772.5 769.7M1772.5 769.7L1773.7 762.9M1773.7 762.9L1774.9 768.9M1774.9 768.9L1776.1 779.9M1776.1 779.9L1777.3 777.6M1777.3 777.6L1778.5 761.9M1778.5 761.9L1779.7 776.1M1779.7 776.1L1780.8 773.8M1780.8 773.8L1782 772.2M1782 772.2L1783.2 776M1783.2 776L1784.4 763.6M1784.4 763.6L1785.6 767.6M1785.6 767.6L1786.8 781.2M1786.8 781.2L1788 776.6M1788 776.6L1789.1 777.9M1789.1 777.9L1790.3 763.6M1790.3 763.6L1791.5 767.4M1791.5 767.4L1792.7 776.2M1792.7 776.2L1793.9 767.9M1793.9 767.9L1795.1 765.8M1795.1 765.8L1796.3 770.6M1796.3 770.6L1797.4 775.5M1797.4 775.5L1798.6 776.8M1798.6 776.8L1799.8 770.6M1799.8 770.6L1801 777.5M1801 777.5L1802.2 764.7M1802.2 764.7L1803.4 777.7M1803.4 777.7L1804.6 769.4M1804.6 769.4L1805.7 774.2M1805.7 774.2L1806.9 766.6M1806.9 766.6L1808.1 775.2M1808.1 775.2L1809.3 765.6M1809.3 765.6L1810.5 777.3M1810.5 777.3L1811.7 775.4M1811.7 775.4L1812.9 776.9M1812.9 776.9L1814 766M1814 766L1815.2 780M1815.2 780L1816.4 768.1M1816.4 768.1L1817.6 770.9M1817.6 770.9L1818.8 768.7M1818.8 768.7L1820 774.6M1820 774.6L1821.2 767.2M1821.2 767.2L1822.3 780.3M1822.3 780.3L1823.5 767.4M1823.5 767.4L1824.7 766.5M1824.7 766.5L1825.9 768.3M1825.9 768.3L1827.1 774.9M1827.1 774.9L1828.3 773.7M1828.3 773.7L1829.5 772.2M1829.5 772.2L1830.6 776.8M1830.6 776.8L1831.8 774.2M1831.8 774.2L1833 773.8M1833 773.8L1834.2 772.4M1834.2 772.4L1835.4 773.1M1835.4 773.1L1836.6 770.4M1836.6 770.4L1837.8 780.2M1837.8 780.2L1838.9 775.2M1838.9 775.2L1840.1 772.6M1840.1 772.6L1841.3 769.8M1841.3 769.8L1842.5 770.7M1842.5 770.7L1843.7 768.8M1843.7 768.8L1844.9 773.5M1844.9 773.5L1846.1 764.4M1846.1 764.4L1847.2 772M1847.2 772L1848.4 764.3M1848.4 764.3L1849.6 782.3M1849.6 782.3L1850.8 771.5M1850.8 771.5L1852 780.6M1852 780.6L1853.2 766.7M1853.2 766.7L1854.4 773.2M1854.4 773.2L1855.5 780.1M1855.5 780.1L1856.7 781.6M1856.7 781.6L1857.9 778.4M1857.9 778.4L1859.1 761.8M1859.1 761.8L1860.3 780.1M1860.3 780.1L1861.5 765.1M1861.5 765.1L1862.7 779M1862.7 779L1863.8 781.4M1863.8 781.4L1865 778.2M1865 778.2L1866.2 768.6M1866.2 768.6L1867.4 763.2M1867.4 763.2L1868.6 762.5M1868.6 762.5L1869.8 755.9M1869.8 755.9L1871 776M1871 776L1872.1 758.7M1872.1 758.7L1873.3 767M1873.3 767L1874.5 779.1M1874.5 779.1L1875.7 761.9M1875.7 761.9L1876.9 760M1876.9 760L1878.1 777.9M1878.1 777.9L1879.3 761.2M1879.3 761.2L1880.4 759.8M1880.4 759.8L1881.6 771.3M1881.6 771.3L1882.8 767.1M1882.8 767.1L1884 761M1884 761L1885.2 773.1M1885.2 773.1L1886.4 768.5M1886.4 768.5L1887.6 769.7M1887.6 769.7L1888.7 773.3M1888.7 773.3L1889.9 775M1889.9 775L1891.1 767.4M1891.1 767.4L1892.3 778M1892.3 778L1893.5 771.3M1893.5 771.3L1894.7 772.1M1894.7 772.1L1895.9 771.3M1895.9 771.3L1897 776.6M1897 776.6L1898.2 775.8M1898.2 775.8L1899.4 779.5M1899.4 779.5L1900.6 768M1900.6 768L1901.8 766.2M1901.8 766.2L1903 763.3M1903 763.3L1904.2 770.3M1904.2 770.3L1905.3 768.1M1905.3 768.1L1906.5 770.7M1906.5 770.7L1907.7 764.4M1907.7 764.4L1908.9 764.2M1908.9 764.2L1910.1 764.3M1910.1 764.3L1911.3 778.8M1911.3 778.8L1912.5 783.6M1912.5 783.6L1913.6 776.4M1913.6 776.4L1914.8 783.1M1914.8 783.1L1916 774.6M1916 774.6L1917.2 759.4M1917.2 759.4L1918.4 776.4M1918.4 776.4L1919.6 768.1M1919.6 768.1L1920.8 776.9M1920.8 776.9L1921.9 761.7M1921.9 761.7L1923.1 770.2M1923.1 770.2L1924.3 775.6M1924.3 775.6L1925.5 779.5M1925.5 779.5L1926.7 769.5M1926.7 769.5L1927.9 757.4M1927.9 757.4L1929.1 756.7M1929.1 756.7L1930.2 759.1M1930.2 759.1L1931.4 777.2M1931.4 777.2L1932.6 779.8M1932.6 779.8L1933.8 764.4M1933.8 764.4L1935 773M1935 773L1936.2 766M1936.2 766L1937.4 768.9M1937.4 768.9L1938.5 777.6M1938.5 777.6L1939.7 777.4M1939.7 777.4L1940.9 763M1940.9 763L1942.1 775.7M1942.1 775.7L1943.3 780.5M1943.3 780.5L1944.5 772.6M1944.5 772.6L1945.7 769.1M1945.7 769.1L1946.8 779.5M1946.8 779.5L1948.1 781.4M1948.1 781.4L1949.3 782.5M1949.3 782.5L1950.5 774.9M1950.5 774.9L1951.7 771.6M1951.7 771.6L1953 770M1953 770L1954.2 775.6M1954.2 775.6L1955.4 780M1955.4 780L1956.6 779.3M1956.6 779.3L1957.9 780.6M1957.9 780.6L1959.1 775.6M1959.1 775.6L1960.3 781.2M1960.3 781.2L1961.5 768.5M1961.5 768.5L1962.8 779.3M1962.8 779.3L1964 769.4M1964 769.4L1965.2 777.1M1965.2 777.1L1966.4 768.3M1966.4 768.3L1967.7 772.6M1967.7 772.6L1968.9 769.6M1968.9 769.6L1970.2 775.1M1970.2 775.1L1971.5 775.6M1971.5 775.6L1972.7 773.5M1972.7 773.5L1974 779M1974 779L1975.3 777.6"/>
</g>
<text y="1868.1"><tspan x="174.65" font-size="65.20" textLength="64.57" lengthAdjust="spacingAndGlyphs">10</tspan></text>
<text y="1868.1"><tspan x="422.04" font-size="65.20" textLength="69.57" lengthAdjust="spacingAndGlyphs">20</tspan></text>
<text y="1868.1"><tspan x="673.98" font-size="65.20" textLength="67.87" lengthAdjust="spacingAndGlyphs">30</tspan></text>
<text y="1868.1"><tspan x="926.85" font-size="65.20" textLength="67.59" lengthAdjust="spacingAndGlyphs">40</tspan></text>
<text y="1868.1"><tspan x="1177.02" font-size="65.20" textLength="69.17" lengthAdjust="spacingAndGlyphs">50</tspan></text>
<text y="1868.1"><tspan x="1428.39" font-size="65.20" textLength="68.48" lengthAdjust="spacingAndGlyphs">60</tspan></text>
<text y="1868.1"><tspan x="1678.47" font-size="65.20" textLength="69.75" lengthAdjust="spacingAndGlyphs">70</tspan></text>
<text y="1868.1"><tspan x="1933.31" font-size="65.20" textLength="66.49" lengthAdjust="spacingAndGlyphs">80</tspan></text>
<text y="1983.8"><tspan x="756.18" font-size="77.20" textLength="46.09" lengthAdjust="spacingAndGlyphs">2</tspan> <tspan x="822.54" font-size="77.20" textLength="189.52" lengthAdjust="spacingAndGlyphs">Theta</tspan> <tspan x="1031.22" font-size="77.20" textLength="280.31" lengthAdjust="spacingAndGlyphs">(degree)</tspan></text>
<text transform="translate(114.0 1090.77) rotate(-90) scale(1.0260 1.1070)" font-size="77.20">Intensity (a.u.)</text>
<path class="lg" stroke="#000000" d="M1174 52.35 H1364"/>
<path class="lg" stroke="#0000ff" d="M1174 149.2 H1364"/>
<path class="lg" stroke="#00ff00" d="M1174 265.35 H1364"/>
<path class="lg" stroke="#ff0000" d="M1174 382.0 H1364"/>
<text y="75.8"><tspan x="1418.89" y="70.85" font-size="49.41" textLength="33.49" lengthAdjust="spacingAndGlyphs" font-family="DejaVu Sans, sans-serif">◆</tspan> <tspan x="1482.62" y="75.80" font-size="77.20" textLength="161.82" lengthAdjust="spacingAndGlyphs">FTO</tspan></text>
<text y="173.8"><tspan x="1387.74" y="182.03" font-size="67.02" textLength="31.33" lengthAdjust="spacingAndGlyphs" font-weight="bold">*</tspan> <tspan x="1443.15" y="173.80" font-size="77.20" textLength="173.51" lengthAdjust="spacingAndGlyphs" font-style="italic">meso</tspan><tspan x="1618.68" font-size="77.20" textLength="27.67" lengthAdjust="spacingAndGlyphs">-</tspan><tspan x="1650.10" font-size="77.20" textLength="136.56" lengthAdjust="spacingAndGlyphs">WO</tspan><tspan x="1786.64" y="202.40" font-size="46.40" textLength="23.76" lengthAdjust="spacingAndGlyphs">3</tspan></text>
<text y="289.2"><tspan x="1385.47" font-size="77.20" textLength="208.09" lengthAdjust="spacingAndGlyphs">CQDs</tspan><tspan x="1593.10" font-size="77.20" textLength="23.03" lengthAdjust="spacingAndGlyphs">/</tspan><tspan x="1614.25" font-size="77.20" textLength="173.51" lengthAdjust="spacingAndGlyphs" font-style="italic">meso</tspan><tspan x="1789.86" font-size="77.20" textLength="27.02" lengthAdjust="spacingAndGlyphs">-</tspan><tspan x="1821.20" font-size="77.20" textLength="136.36" lengthAdjust="spacingAndGlyphs">WO</tspan><tspan x="1957.43" y="317.80" font-size="46.40" textLength="23.88" lengthAdjust="spacingAndGlyphs">3</tspan></text>
<text y="405.3"><tspan x="1382.83" font-size="77.20" textLength="64.97" lengthAdjust="spacingAndGlyphs">N</tspan><tspan x="1444.09" font-size="77.20" textLength="26.77" lengthAdjust="spacingAndGlyphs">-</tspan><tspan x="1472.93" font-size="77.20" textLength="177.74" lengthAdjust="spacingAndGlyphs">CQD</tspan><tspan x="1647.97" font-size="77.20" textLength="26.90" lengthAdjust="spacingAndGlyphs">-</tspan><tspan x="1674.09" font-size="77.20" textLength="44.66" lengthAdjust="spacingAndGlyphs">7</tspan><tspan x="1717.30" font-size="77.20" textLength="22.63" lengthAdjust="spacingAndGlyphs">/</tspan><tspan x="1738.35" font-size="77.20" textLength="173.40" lengthAdjust="spacingAndGlyphs" font-style="italic">meso</tspan><tspan x="1914.04" font-size="77.20" textLength="27.15" lengthAdjust="spacingAndGlyphs">-</tspan><tspan x="1945.20" font-size="77.20" textLength="135.95" lengthAdjust="spacingAndGlyphs">WO</tspan><tspan x="2082.15" y="433.90" font-size="46.40" textLength="22.67" lengthAdjust="spacingAndGlyphs">3</tspan></text>
<text y="374.5"><tspan x="396.83" y="383.81" font-size="60.93" textLength="25.54" lengthAdjust="spacingAndGlyphs" font-weight="bold">*</tspan><tspan x="427.18" y="374.50" font-size="64.80" textLength="100.63" lengthAdjust="spacingAndGlyphs">020</tspan></text>
<text y="398.5"><tspan x="613.63" y="407.81" font-size="60.93" textLength="25.54" lengthAdjust="spacingAndGlyphs" font-weight="bold">*</tspan><tspan x="643.57" y="398.50" font-size="64.80" textLength="103.42" lengthAdjust="spacingAndGlyphs">200</tspan></text>
<text y="541.6"><tspan x="360.63" y="550.91" font-size="60.93" textLength="25.54" lengthAdjust="spacingAndGlyphs" font-weight="bold">*</tspan><tspan x="390.96" y="541.60" font-size="64.80" textLength="101.56" lengthAdjust="spacingAndGlyphs">002</tspan></text>
<text y="567.4"><tspan x="669.23" y="576.71" font-size="60.93" textLength="25.54" lengthAdjust="spacingAndGlyphs" font-weight="bold">*</tspan><tspan x="699.22" y="567.40" font-size="64.80" textLength="101.71" lengthAdjust="spacingAndGlyphs">202</tspan></text>
<text y="648.0"><tspan x="625.63" y="657.31" font-size="60.93" textLength="25.54" lengthAdjust="spacingAndGlyphs" font-weight="bold">*</tspan><tspan x="655.61" y="648.00" font-size="64.80" textLength="99.39" lengthAdjust="spacingAndGlyphs">211</tspan></text>
<text y="694.2"><tspan x="957.43" y="703.51" font-size="60.93" textLength="25.54" lengthAdjust="spacingAndGlyphs" font-weight="bold">*</tspan><tspan x="987.42" y="694.20" font-size="64.80" textLength="101.71" lengthAdjust="spacingAndGlyphs">222</tspan></text>
<text y="657.5"><tspan x="1090.03" y="666.81" font-size="60.93" textLength="25.54" lengthAdjust="spacingAndGlyphs" font-weight="bold">*</tspan><tspan x="1120.41" y="657.50" font-size="64.80" textLength="99.58" lengthAdjust="spacingAndGlyphs">040</tspan></text>
<text y="631.4"><tspan x="1288.13" y="640.71" font-size="60.93" textLength="26.75" lengthAdjust="spacingAndGlyphs" font-weight="bold">*</tspan><tspan x="1322.53" y="631.40" font-size="64.80" textLength="98.90" lengthAdjust="spacingAndGlyphs">142</tspan></text>
<text><tspan x="621.96" y="507.54" font-size="40.52" textLength="29.15" lengthAdjust="spacingAndGlyphs" font-family="DejaVu Sans, sans-serif">◆</tspan></text>
<text><tspan x="818.76" y="563.44" font-size="40.52" textLength="29.15" lengthAdjust="spacingAndGlyphs" font-family="DejaVu Sans, sans-serif">◆</tspan></text>
<text><tspan x="906.16" y="171.74" font-size="40.52" textLength="29.15" lengthAdjust="spacingAndGlyphs" font-family="DejaVu Sans, sans-serif">◆</tspan></text>
<text><tspan x="1238.06" y="593.44" font-size="40.52" textLength="29.15" lengthAdjust="spacingAndGlyphs" font-family="DejaVu Sans, sans-serif">◆</tspan></text>
<text><tspan x="1347.06" y="699.44" font-size="40.52" textLength="29.15" lengthAdjust="spacingAndGlyphs" font-family="DejaVu Sans, sans-serif">◆</tspan></text>
<text><tspan x="1496.96" y="666.34" font-size="40.52" textLength="29.15" lengthAdjust="spacingAndGlyphs" font-family="DejaVu Sans, sans-serif">◆</tspan></text>
<text><tspan x="1587.86" y="663.34" font-size="40.52" textLength="29.15" lengthAdjust="spacingAndGlyphs" font-family="DejaVu Sans, sans-serif">◆</tspan></text>
<text><tspan x="1911.86" y="729.44" font-size="40.52" textLength="29.15" lengthAdjust="spacingAndGlyphs" font-family="DejaVu Sans, sans-serif">◆</tspan></text>
<path class="ln" d="M470.7 395.9 L548.1 487.9"/>
<path class="ln" d="M638.9 432.4 L584.2 484.9"/>
<path class="ln" d="M437.9 578.8 L526.2 601.0"/>
<path class="ln" d="M751.0 584.4 L792.2 663.5"/>
</svg>
</body></html>
